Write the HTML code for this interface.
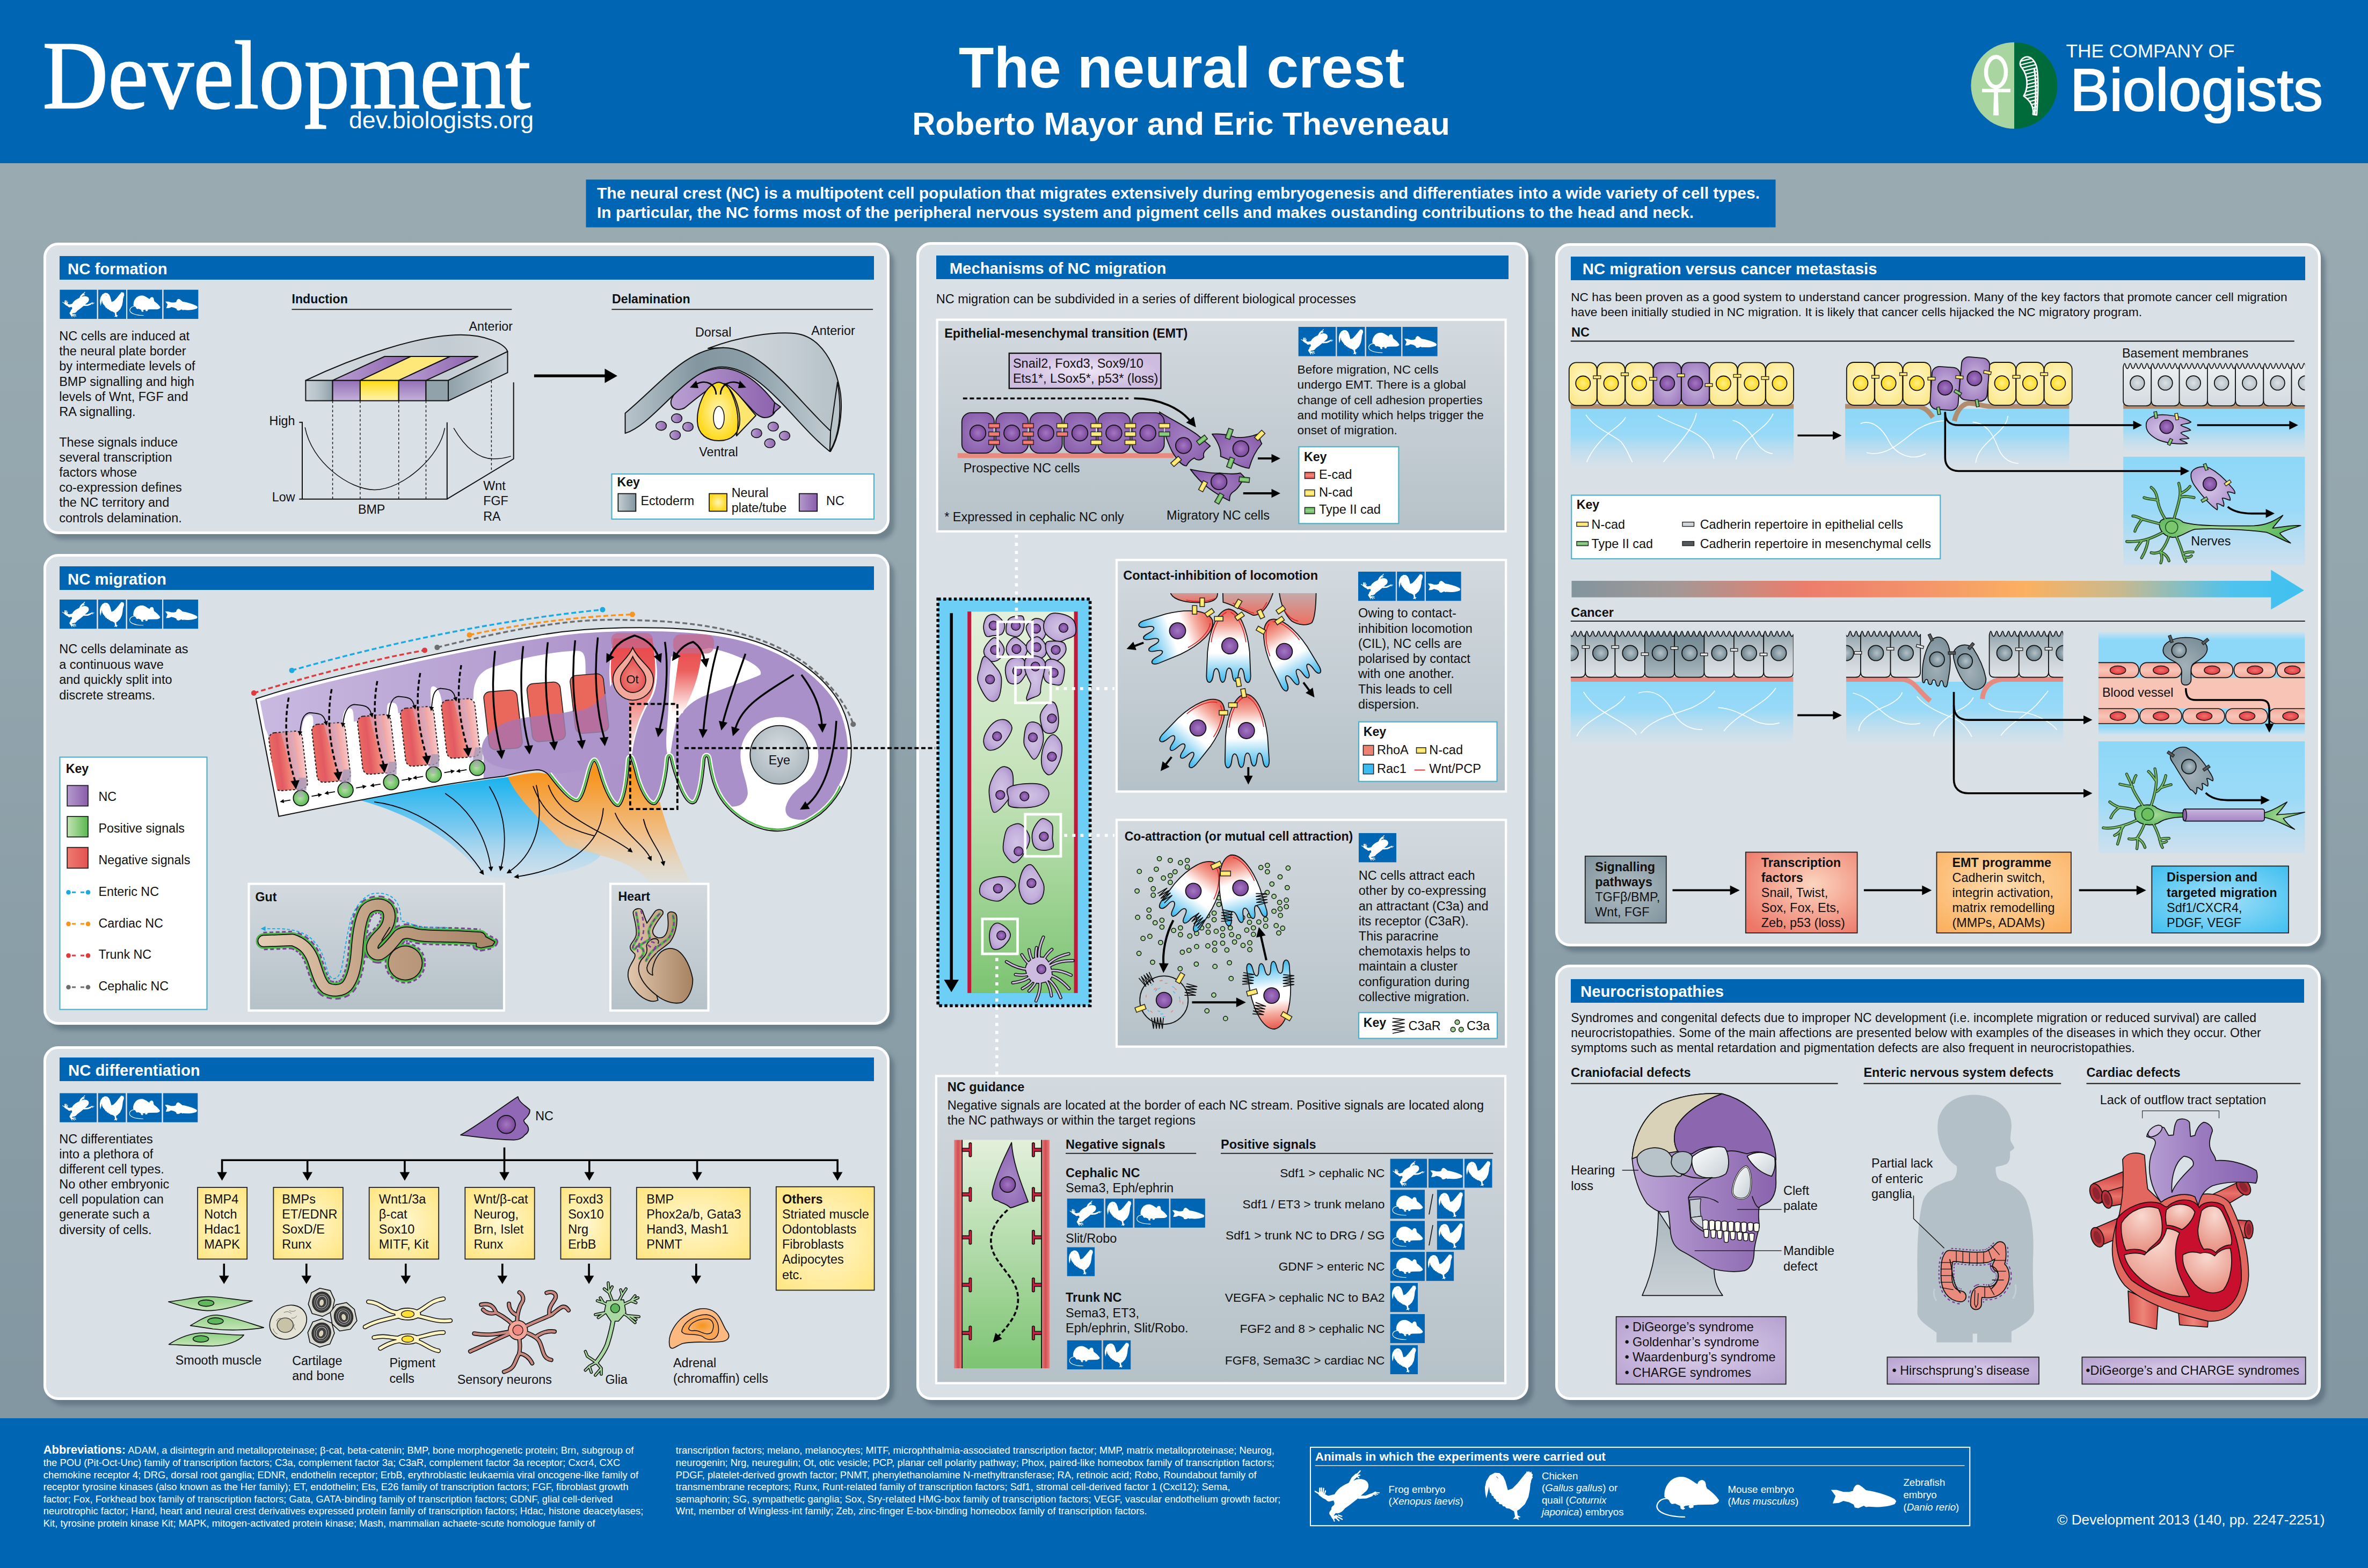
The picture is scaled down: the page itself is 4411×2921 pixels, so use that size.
<!DOCTYPE html>
<html lang="en"><head><meta charset="utf-8"><title>The neural crest</title>
<style>
html,body{margin:0;padding:0;background:#98a8b0}
body{width:4411px;height:2921px;overflow:hidden;font-family:"Liberation Sans",sans-serif}
#root{position:relative;width:4411px;height:2921px;overflow:hidden;background:linear-gradient(180deg,#9aaab1 10%,#94a6ae 35%,#8b9fa8 60%,#8297a1 90%);font-family:"Liberation Sans",sans-serif}
#hdr{position:absolute;left:0;top:0;width:4411px;height:304px;background:#0066b3}
#ftr{position:absolute;left:0;top:2641.6px;width:4411px;height:280px;background:#0066b3}
.panel{position:absolute;box-sizing:border-box;border:5.6px solid #fff;border-radius:27px;background:#d9e0e6;box-shadow:9px 10px 7px rgba(62,84,98,.42)}
.bar{position:absolute;background:#0066b3;color:#fff;font-weight:700;font-size:29.3px;white-space:nowrap}
svg.L{position:absolute;left:0;top:0;overflow:visible}
svg text{font-family:"Liberation Sans",sans-serif}
</style></head>
<body><div id="root">
<!-- defs -->
<svg width="0" height="0" style="position:absolute"><defs>
<symbol id="sh_f" viewBox="45 48 650 520" preserveAspectRatio="none"><g fill="#fff" stroke="#fff" stroke-linecap="round" stroke-linejoin="round"><path stroke="none" d="M425,162 C470,128 545,132 572,170 C592,205 582,245 545,272 C520,292 500,312 478,332 C440,365 395,400 350,432 C320,470 290,492 250,478 C215,460 205,430 225,412 C245,400 250,385 240,365 C225,335 240,280 290,235 C330,200 380,180 425,162 Z"/><path fill="none" stroke-width="34" d="M400,190 L428,135 L462,102"/><path fill="none" stroke-width="13" d="M462,100 L500,58 M468,104 L496,100 M462,108 L486,126"/><path fill="none" stroke-width="30" d="M490,322 L560,318 L612,298"/><path fill="none" stroke-width="17" d="M600,300 L650,272"/><path fill="none" stroke-width="9" d="M645,274 L690,276 M640,282 L674,292 M632,290 L656,300"/><path fill="none" stroke-width="58" d="M262,318 L190,335"/><path fill="none" stroke-width="44" d="M190,335 L140,310 L108,285"/><path fill="none" stroke-width="13" d="M100,290 L54,262 M98,272 L100,230 M116,270 L116,228 M132,278 L138,232 M148,285 L156,258"/><path fill="none" stroke-width="56" d="M300,440 L245,450 L222,480"/><path fill="none" stroke-width="30" d="M215,490 L235,525 L262,515"/><path fill="none" stroke-width="12" d="M232,528 L244,560 M258,525 L290,556 M275,515 L322,542 M285,500 L318,512"/></g></symbol>
<symbol id="sh_c" viewBox="1762 85 466 467" preserveAspectRatio="none"><path fill="#fff" d="M2170,95 L2184,87 L2190,105 L2204,92 L2209,112 L2222,108 L2218,130 L2228,141 L2214,150 L2213,176 L2206,200 L2200,262 L2186,330 L2152,398 L2102,444 L2076,460 L2081,504 L2112,520 L2086,525 L2096,550 L2066,535 L2036,541 L2056,515 L2046,466 L2002,441 L1970,436 L1958,420 L1938,418 L1928,400 L1902,396 L1896,378 L1872,372 L1868,352 L1850,342 L1846,322 L1830,318 L1824,296 L1812,288 L1802,232 L1792,282 L1776,342 L1766,292 L1762,240 L1776,180 L1810,126 L1860,100 L1905,104 L1940,134 L1962,180 L1976,230 L1986,266 L2030,250 L2080,200 L2122,150 L2150,116 Z"/><path d="M1872,138 q14,4 18,16" fill="none" stroke="#0066b3" stroke-width="5"/><circle cx="2190" cy="150" r="31" fill="#fff"/><path fill="#fff" d="M2158,125 L2170,84 L2182,108 L2192,80 L2202,104 L2215,88 L2218,114 L2231,112 L2222,138 Z M2214,134 L2238,143 L2214,158 Z M2204,165 q12,16 3,36 q-14,-12 -10,-34 Z"/></symbol>
<symbol id="sh_m" viewBox="75 105 565 370" preserveAspectRatio="none"><path fill="#fff" d="M150,290 C145,240 160,190 200,148 C240,112 290,102 335,113 C375,125 410,155 445,175 C448,150 470,136 490,138 C512,142 522,165 520,190 L530,215 C570,240 610,280 638,320 C635,340 615,352 585,358 L450,360 L410,365 L408,385 L380,392 L365,380 L372,365 L335,370 L320,380 L335,395 L315,405 L295,395 L290,370 L245,350 L215,355 L200,340 L190,320 Z"/><path d="M200,305 C130,295 85,330 82,375 C85,430 180,468 330,470" fill="none" stroke="#fff" stroke-width="11" stroke-linecap="round"/></symbol>
<symbol id="sh_z" viewBox="1648 175 580 207" preserveAspectRatio="none"><path fill="#fff" d="M1650,222 L1700,222 L1760,240 L1810,240 L1845,230 C1850,200 1868,178 1888,176 C1905,180 1925,195 1960,225 C2050,238 2150,268 2210,300 L2228,320 L2215,345 C2170,365 2100,372 2050,372 L1985,368 L1960,372 L1940,360 L1890,382 L1860,375 L1850,350 L1810,330 L1760,318 L1720,335 L1665,340 L1680,300 L1690,275 Z"/></symbol>
<symbol id="ic_f" viewBox="0 0 588 463" preserveAspectRatio="none"><rect width="588" height="463" fill="#0066b3"/><use href="#sh_f" x="40.0" y="31.9" width="509.8" height="407.9"/></symbol>
<symbol id="ic_c" viewBox="0 0 442 463" preserveAspectRatio="none"><rect width="442" height="463" fill="#0066b3"/><use href="#sh_c" x="27.8" y="38.0" width="384.1" height="401.9"/></symbol>
<symbol id="ic_m" viewBox="0 0 551 463" preserveAspectRatio="none"><rect width="551" height="463" fill="#0066b3"/><use href="#sh_m" x="33.1" y="89.8" width="489.8" height="322.2"/></symbol>
<symbol id="ic_z" viewBox="0 0 551 463" preserveAspectRatio="none"><rect width="551" height="463" fill="#0066b3"/><use href="#sh_z" x="29.2" y="144.9" width="509.7" height="187.1"/></symbol>
</defs></svg>
<!-- base -->
<div id="hdr"></div><div id="ftr"></div>
<div class="panel " style="left:81px;top:452px;width:1576px;height:543px"></div>
<div class="panel " style="left:81px;top:1032px;width:1576px;height:877px"></div>
<div class="panel " style="left:81px;top:1949px;width:1576px;height:659px"></div>
<div class="panel " style="left:1706.5px;top:451px;width:1140.5px;height:2157px"></div>
<div class="panel " style="left:2897px;top:453px;width:1426px;height:1310px"></div>
<div class="panel " style="left:2897px;top:1797px;width:1426px;height:811px"></div>
<div class="bar" style="left:110.6px;top:477px;width:1517px;height:44px;line-height:47px"><span style="margin-left:15.400000000000006px">NC formation</span></div>
<div class="bar" style="left:110.6px;top:1054.6px;width:1517px;height:44px;line-height:47px"><span style="margin-left:15.400000000000006px">NC migration</span></div>
<div class="bar" style="left:110.6px;top:1970.2px;width:1517px;height:44px;line-height:47px"><span style="margin-left:16.400000000000006px">NC differentiation</span></div>
<div class="bar" style="left:1743.8px;top:475.8px;width:1066.4px;height:44.4px;line-height:47.4px"><span style="margin-left:24.90000000000009px">Mechanisms of NC migration</span></div>
<div class="bar" style="left:2926.2px;top:478.1px;width:1368.2px;height:43.8px;line-height:46.8px"><span style="margin-left:21.600000000000364px">NC migration versus cancer metastasis</span></div>
<div class="bar" style="left:2926.2px;top:1823.8px;width:1366px;height:43.8px;line-height:46.8px"><span style="margin-left:17.800000000000182px">Neurocristopathies</span></div>
<!-- header -->
<svg class="L" viewBox="0 0 4411 2921" width="4411" height="2921" >
<text x="79.5" y="200.5" font-family="Liberation Serif" style="font-family:'Liberation Serif',serif" font-size="181" fill="#fff" stroke="#fff" stroke-width="2.4" textLength="909" lengthAdjust="spacingAndGlyphs">Development</text>
<text x="650" y="239" font-size="44.6" fill="#fff" textLength="344" lengthAdjust="spacingAndGlyphs">dev.biologists.org</text>
<text x="2201" y="162.5" font-size="107.5" fill="#fff" text-anchor="middle" font-weight="700">The neural crest</text>
<text x="2200" y="250.5" font-size="59.7" fill="#fff" text-anchor="middle" font-weight="700">Roberto Mayor and Eric Theveneau</text>
<rect x="1091.5" y="334.5" width="2216" height="89" fill="#0066b3"/>
<text x="1112" y="370.1" font-size="30" fill="#fff" font-weight="700" textLength="2166" lengthAdjust="spacing">The neural crest (NC) is a multipotent cell population that migrates extensively during embryogenesis and differentiates into a wide variety of cell types.</text>
<text x="1112" y="406.1" font-size="30" fill="#fff" font-weight="700" textLength="2043" lengthAdjust="spacing">In particular, the NC forms most of the peripheral nervous system and pigment cells and makes oustanding contributions to the head and neck.</text>
<g><path d="M3752,78.7 A80.3,80.3 0 0 0 3752,239.7 Z" fill="#a9d6a0"/><path d="M3752,78.7 A80.3,80.3 0 0 1 3752,239.7 Z" fill="#006b3a"/><ellipse cx="3718" cy="134" rx="18.5" ry="28" fill="none" stroke="#fff" stroke-width="7.5"/><path d="M3692,165.5 L3745,165.5 L3745,172 L3692,172 Z" fill="#fff"/><path d="M3714.5,160 L3721.5,160 L3723,215 L3713,215 Z" fill="#fff"/><clipPath id="cFea"><path d="M3766.6,126.6 C3760.3,120.3 3762.5,110.9 3771.2,106.9 C3780.6,103.1 3790.0,110.9 3793.8,125.0 C3797.8,143.8 3796.2,181.2 3793.8,214.1 L3786.9,213.1 C3789.4,200.0 3782.2,187.5 3769.7,178.8 C3777.5,165.6 3779.1,143.8 3766.6,126.6 Z"/></clipPath><path d="M3766.6,126.6 C3760.3,120.3 3762.5,110.9 3771.2,106.9 C3780.6,103.1 3790.0,110.9 3793.8,125.0 C3797.8,143.8 3796.2,181.2 3793.8,214.1 L3786.9,213.1 C3789.4,200.0 3782.2,187.5 3769.7,178.8 C3777.5,165.6 3779.1,143.8 3766.6,126.6 Z" fill="#006b3a"/><g clip-path="url(#cFea)" stroke="#fff" stroke-width="2.3"><line x1="3760" y1="115.0" x2="3800" y2="105.0"/><line x1="3760" y1="121.6" x2="3800" y2="111.6"/><line x1="3760" y1="128.2" x2="3800" y2="118.2"/><line x1="3760" y1="134.8" x2="3800" y2="124.8"/><line x1="3760" y1="141.4" x2="3800" y2="131.4"/><line x1="3760" y1="148.0" x2="3800" y2="138.0"/><line x1="3760" y1="154.6" x2="3800" y2="144.6"/><line x1="3760" y1="161.2" x2="3800" y2="151.2"/><line x1="3760" y1="167.8" x2="3800" y2="157.8"/><line x1="3760" y1="174.4" x2="3800" y2="164.4"/><line x1="3760" y1="181.0" x2="3800" y2="171.0"/><line x1="3760" y1="187.6" x2="3800" y2="177.6"/><line x1="3760" y1="194.2" x2="3800" y2="184.2"/><line x1="3760" y1="200.8" x2="3800" y2="190.8"/><line x1="3760" y1="207.4" x2="3800" y2="197.4"/><line x1="3760" y1="214.0" x2="3800" y2="204.0"/></g><path d="M3766.6,126.6 C3760.3,120.3 3762.5,110.9 3771.2,106.9 C3780.6,103.1 3790.0,110.9 3793.8,125.0 C3797.8,143.8 3796.2,181.2 3793.8,214.1 L3786.9,213.1 C3789.4,200.0 3782.2,187.5 3769.7,178.8 C3777.5,165.6 3779.1,143.8 3766.6,126.6 Z" fill="none" stroke="#fff" stroke-width="2.8" stroke-linejoin="round"/><path d="M3789.4,128.1 C3793.1,153.1 3792.5,184.4 3790.0,212.5" fill="none" stroke="#fff" stroke-width="3.2"/></g>
<text x="3848.5" y="107.2" font-size="35.5" fill="#fff" textLength="314" lengthAdjust="spacingAndGlyphs">THE COMPANY OF</text>
<text x="3856" y="206.3" font-size="112" fill="#fff" stroke="#fff" stroke-width="2.2" textLength="471" lengthAdjust="spacingAndGlyphs">Biologists</text>
</svg>
<!-- ncform -->
<svg class="L" viewBox="0 0 4411 2921" width="4411" height="2921" >
<defs>
<linearGradient id="gPurH" x1="0" x2="1"><stop offset="0" stop-color="#b9a0d2"/><stop offset="1" stop-color="#8d62ae"/></linearGradient>
<linearGradient id="gPurV" x1="0" x2="0" y1="0" y2="1"><stop offset="0" stop-color="#9270b4"/><stop offset="1" stop-color="#c5b0dc"/></linearGradient>
<linearGradient id="gYelV" x1="0" x2="0" y1="0" y2="1"><stop offset="0" stop-color="#ffdd15"/><stop offset="1" stop-color="#fff3b0"/></linearGradient>
<linearGradient id="gGryH" x1="0" x2="1"><stop offset="0" stop-color="#c9d2d8"/><stop offset="0.5" stop-color="#b4c0c7"/><stop offset="1" stop-color="#8fa0a9"/></linearGradient>
<linearGradient id="gGryH2" x1="0" x2="1"><stop offset="0" stop-color="#8fa0a9"/><stop offset="1" stop-color="#c9d2d8"/></linearGradient>
<linearGradient id="gGryTop" x1="0" x2="1"><stop offset="0" stop-color="#d3dadf"/><stop offset="0.7" stop-color="#c3ccd2"/><stop offset="1" stop-color="#d0d7dc"/></linearGradient>
<radialGradient id="gYelR"><stop offset="0" stop-color="#fff6b8"/><stop offset="1" stop-color="#ffd91a"/></radialGradient>
<linearGradient id="gBand" x1="0" x2="1"><stop offset="0" stop-color="#b9c4cb"/><stop offset="0.35" stop-color="#8397a1"/><stop offset="0.6" stop-color="#8b9ea8"/><stop offset="1" stop-color="#c2ccd2"/></linearGradient>
<linearGradient id="gBack" x1="0" x2="1"><stop offset="0" stop-color="#d4dbe0"/><stop offset="0.6" stop-color="#c5ced4"/><stop offset="1" stop-color="#b3bfc6"/></linearGradient>
<linearGradient id="gKeyG" x1="0" x2="1"><stop offset="0" stop-color="#c5ced4"/><stop offset="1" stop-color="#8295a0"/></linearGradient>
<linearGradient id="gKeyP" x1="0" x2="1"><stop offset="0" stop-color="#b49acd"/><stop offset="1" stop-color="#8a5eab"/></linearGradient>
</defs>
<use href="#ic_f" x="111.2" y="539.5" width="69.5" height="54.7"/><use href="#ic_c" x="182.8" y="539.5" width="52.2" height="54.7"/><use href="#ic_m" x="237.1" y="539.5" width="65.2" height="54.7"/><use href="#ic_z" x="304.4" y="539.5" width="65.2" height="54.7"/>
<text font-size="23.5" fill="#111"><tspan x="110.2" y="633.9">NC cells are induced at</tspan><tspan x="110.2" y="662.13">the neural plate border</tspan><tspan x="110.2" y="690.36">by intermediate levels of</tspan><tspan x="110.2" y="718.59">BMP signalling and high</tspan><tspan x="110.2" y="746.82">levels of Wnt, FGF and</tspan><tspan x="110.2" y="775.05">RA signalling.</tspan><tspan x="110.2" y="803.28"></tspan><tspan x="110.2" y="831.51">These signals induce</tspan><tspan x="110.2" y="859.74">several transcription</tspan><tspan x="110.2" y="887.97">factors whose</tspan><tspan x="110.2" y="916.2">co-expression defines</tspan><tspan x="110.2" y="944.43">the NC territory and</tspan><tspan x="110.2" y="972.66">controls delamination.</tspan></text>
<text x="543.5" y="565.3" font-size="23.2" fill="#111" font-weight="700">Induction</text>
<line x1="543.5" y1="576.4" x2="953.3" y2="576.4" stroke="#111" stroke-width="1.8"/>
<text x="1140" y="565.3" font-size="23.2" fill="#111" font-weight="700">Delamination</text>
<line x1="1139.4" y1="576.4" x2="1626.1" y2="576.4" stroke="#111" stroke-width="1.8"/>
<text x="873.5" y="615.8" font-size="23.3" fill="#111">Anterior</text>
<g stroke="#111" stroke-width="2" stroke-linejoin="round"><path d="M569.4,708.7 C660,665 780,624 858.6,623.8 C905,624 940,640 945.5,654.8 L835,708.7 Z" fill="url(#gGryTop)"/><path d="M619.6,708.7 L716.6,664 L765.3,664 L670.9,708.7 Z" fill="url(#gPurH)"/><path d="M670.9,708.7 L765.3,664 L838.5,664 L742.7,708.7 Z" fill="#ffe87a"/><path d="M742.7,708.7 L838.5,664 L890.2,664 L793.5,708.7 Z" fill="url(#gPurH)"/><path d="M835,708.7 L945.5,654.8 L945.5,694.1 L835,746.6 Z" fill="url(#gGryH2)"/><rect x="569.4" y="708.7" width="50.2" height="37.9" fill="url(#gGryH)"/><rect x="619.6" y="708.7" width="51.3" height="37.9" fill="url(#gPurV)"/><rect x="670.9" y="708.7" width="71.8" height="37.9" fill="url(#gYelV)"/><rect x="742.7" y="708.7" width="50.8" height="37.9" fill="url(#gPurV)"/><rect x="793.5" y="708.7" width="41.5" height="37.9" fill="#91a2ab"/></g>
<g fill="none" stroke="#111" stroke-width="2"><path d="M557.3,786.8 L563,786.8 L563,929.7 M557.3,929.7 L832.8,929.7 L832.8,786.8 M832.8,929.7 L956.7,854.8 L956.7,712.2"/></g><g fill="none" stroke="#111" stroke-width="1.5"><path d="M568.2,796.2 C580,860 650,912.5 697.9,912.5 C750,912.5 820,850 828.5,797.4"/><path d="M845.1,797.4 C870,840 895,854.8 918.9,854.8 C935,854.8 945,852 951.8,849.9"/></g><g stroke="#111" stroke-width="1.4" stroke-dasharray="4.5 4"><line x1="619.6" y1="746.6" x2="619.6" y2="929.7"/><line x1="670.9" y1="746.6" x2="670.9" y2="929.7"/><line x1="742.7" y1="746.6" x2="742.7" y2="929.7"/><line x1="793.5" y1="746.6" x2="793.5" y2="929.7"/><line x1="915.4" y1="709.3" x2="915.4" y2="878.6"/></g>
<text x="549.5" y="791.5" font-size="23.3" fill="#111" text-anchor="end">High</text>
<text x="549.5" y="934.4" font-size="23.3" fill="#111" text-anchor="end">Low</text>
<text x="666.9" y="956.6" font-size="23.3" fill="#111">BMP</text>
<text font-size="23.3" fill="#111"><tspan x="900.2" y="913.0">Wnt</tspan><tspan x="900.2" y="941.3">FGF</tspan><tspan x="900.2" y="969.6">RA</tspan></text>
<path d="M994.9,700.2 L1128,700.2" stroke="#000" stroke-width="5.2"/><path d="M1126.5,686.8 L1150,700.2 L1126.5,713.6 Z" fill="#000"/>
<text x="1295" y="627" font-size="23.3" fill="#111">Dorsal</text>
<text x="1511.2" y="624.4" font-size="23.3" fill="#111">Anterior</text>
<text x="1302.2" y="849.6" font-size="23.3" fill="#111">Ventral</text>
<g stroke="#111" stroke-width="2" stroke-linejoin="round"><path d="M1319,649 C1380,626 1440,618 1480,621 C1530,626 1558,680 1566,735 C1570,775 1562,815 1547.1,841 L1547.1,802.8 C1500,770 1440,690 1347.6,647.7 Z" fill="url(#gBack)"/><path d="M1547.1,802.8 L1560,712 C1570,770 1562,815 1545.7,841 Z" fill="#b9c4cb"/><path d="M1251,743 C1262,720 1300,690 1340,686 C1385,684 1420,720 1443,750 C1450,765 1440,778 1424,778 C1405,776 1395,750 1352,715 C1330,712 1300,740 1275,760 C1258,768 1246,758 1251,743 Z" fill="url(#gPurH)"/><path d="M1443,750 L1454,758 L1440,770 Z" fill="#9a78ba"/><path d="M1352,715 C1375,730 1395,760 1408,774 L1372,812 Z" fill="#ffe66e"/><path d="M1339,712 C1312,716 1298,760 1299,785 C1300,810 1318,821 1339,821 C1362,821 1379,808 1378,780 C1376,750 1362,716 1339,712 Z" fill="url(#gYelR)"/><path d="M1352,715 C1370,740 1380,775 1372,812" fill="none"/><ellipse cx="1339" cy="778" rx="10" ry="21" fill="#fff" stroke-width="1.6"/><path d="M1164.6,769.7 C1230,715 1280,648 1347.6,647.7 C1420,648 1480,740 1547.1,802.8 L1545.7,841 C1480,790 1420,684 1344.7,683.6 C1280,684 1220,790 1164.6,807.1 Z" fill="url(#gBand)"/></g><g fill="none" stroke="#000" stroke-width="2.6"><path d="M1334,735 C1333,715 1315,706 1296,716"/><path d="M1342,735 C1343,715 1362,706 1381,716"/></g><path d="M1285,722 L1297,709 L1301,723 Z" fill="#000"/><path d="M1390,722 L1378,709 L1375,723 Z" fill="#000"/><g stroke="#111" stroke-width="1.6" fill="url(#gPurH)"><ellipse cx="1260.6" cy="779.2" rx="9.8" ry="8.3"/><ellipse cx="1231.6" cy="793.3" rx="9.8" ry="8.3"/><ellipse cx="1281.5" cy="795" rx="9.8" ry="8.3"/><ellipse cx="1257.7" cy="810.5" rx="9.8" ry="8.3"/><ellipse cx="1440.3" cy="794.7" rx="9.8" ry="8.3"/><ellipse cx="1409.3" cy="807.1" rx="9.8" ry="8.3"/><ellipse cx="1461.6" cy="811.7" rx="9.8" ry="8.3"/><ellipse cx="1434" cy="825.7" rx="9.8" ry="8.3"/></g>
<rect x="1139.5" y="883" width="488.5" height="84" fill="#fff" stroke="#4aafc8" stroke-width="2.1"/><text x="1149.4" y="906.1" font-size="23.2" fill="#111" font-weight="700">Key</text>
<g stroke="#111" stroke-width="1.8"><rect x="1151.4" y="919.6" width="33" height="32.8" fill="url(#gKeyG)"/><rect x="1321.1" y="919.6" width="33" height="32.8" fill="url(#gYelR)"/><rect x="1488.8" y="919.6" width="33.4" height="32.8" fill="url(#gKeyP)"/></g><text x="1193.4" y="941.2" font-size="23.3" fill="#111">Ectoderm</text>
<text font-size="23.3" fill="#111"><tspan x="1362.8" y="926.2">Neural</tspan><tspan x="1362.8" y="954.1">plate/tube</tspan></text>
<text x="1539.1" y="941.2" font-size="23.3" fill="#111">NC</text>
</svg>
<!-- ncmig -->
<svg class="L" viewBox="0 0 4411 2921" width="4411" height="2921" >
<defs>
<clipPath id="cEmb"><path d="M476.8,1301.8 C529.3,1283.9 600.7,1266.1 654.3,1253.6 C725.7,1237.5 868.6,1203.6 1000.0,1183.9 C1053.6,1175.0 1107.1,1170.4 1160.7,1169.6 C1250.0,1167.9 1321.4,1173.2 1375.0,1185.7 C1464.3,1207.1 1528.6,1253.6 1560.7,1303.6 C1582.1,1339.3 1589.3,1385.7 1583.9,1421.4 C1578.6,1457.1 1557.1,1492.9 1528.6,1516.1 C1500.0,1537.5 1471.4,1548.2 1448.2,1548.2 C1410.7,1548.2 1371.4,1525.0 1348.2,1496.4 C1328.6,1471.4 1323.2,1442.9 1318.9,1414.3 C1317.9,1407.9 1314.3,1407.9 1313.2,1414.3 C1310.7,1442.9 1307.1,1478.6 1296.4,1494.6 C1285.7,1503.6 1275.0,1489.3 1266.1,1467.9 C1258.9,1450.0 1251.8,1428.6 1248.9,1414.3 C1247.9,1407.9 1245.7,1407.9 1245.0,1414.3 C1242.9,1442.9 1235.7,1485.7 1221.4,1498.2 C1208.9,1503.6 1194.6,1478.6 1185.7,1450.0 C1182.1,1435.7 1178.6,1421.4 1176.1,1416.1 C1175.0,1411.4 1173.2,1411.4 1172.5,1416.1 C1170.7,1442.9 1166.1,1489.3 1153.6,1501.8 C1141.1,1507.1 1125.0,1471.4 1116.1,1439.3 C1112.5,1426.8 1108.9,1418.6 1107.1,1417.9 C1105.4,1417.9 1101.8,1426.8 1098.2,1439.3 C1091.1,1467.9 1085.7,1487.5 1076.8,1492.9 C1064.3,1496.4 1042.9,1471.4 1021.4,1442.9 C1014.3,1435.7 1007.1,1433.9 1000.0,1433.9 C975.7,1435.7 957.9,1441.1 940.0,1445.7 C868.6,1453.6 725.7,1478.6 519.3,1520.7 Z"/></clipPath>
<linearGradient id="gPurE" gradientUnits="userSpaceOnUse" x1="480" y1="0" x2="1200" y2="0"><stop offset="0" stop-color="#c9b9e0"/><stop offset="1" stop-color="#aa90c8"/></linearGradient>
<linearGradient id="gRedB" x1="0" x2="1"><stop offset="0" stop-color="#ea6a62"/><stop offset="0.25" stop-color="#e25a62"/><stop offset="0.45" stop-color="#ee7a70"/><stop offset="1" stop-color="#f5c6c8"/></linearGradient>
<radialGradient id="gGrn" cx="0.45" cy="0.5" r="0.6"><stop offset="0" stop-color="#b5dfa5"/><stop offset="1" stop-color="#4cb648"/></radialGradient>
<linearGradient id="gBlueFan" gradientUnits="userSpaceOnUse" x1="0" y1="1440" x2="0" y2="1650"><stop offset="0" stop-color="#10b1ee"/><stop offset="0.5" stop-color="#7fcaf0"/><stop offset="1" stop-color="#cfe3f2" stop-opacity="0.3"/></linearGradient>
<linearGradient id="gOrFan" gradientUnits="userSpaceOnUse" x1="0" y1="1440" x2="0" y2="1650"><stop offset="0" stop-color="#f7941d"/><stop offset="0.55" stop-color="#f0c08a"/><stop offset="1" stop-color="#e4e0cf" stop-opacity="0.4"/></linearGradient>
<linearGradient id="gRedStream" gradientUnits="userSpaceOnUse" x1="0" y1="1195" x2="0" y2="1410"><stop offset="0" stop-color="#e8474c"/><stop offset="0.35" stop-color="#ec5f5c"/><stop offset="0.75" stop-color="#f6c4c0"/><stop offset="1" stop-color="#fff"/></linearGradient>
<linearGradient id="gRedStream2" gradientUnits="userSpaceOnUse" x1="0" y1="1195" x2="0" y2="1330"><stop offset="0" stop-color="#e8474c"/><stop offset="0.4" stop-color="#ec5f5c"/><stop offset="1" stop-color="#fff"/></linearGradient>
<radialGradient id="gEye" cx="0.5" cy="0.4" r="0.6"><stop offset="0" stop-color="#d7dde1"/><stop offset="1" stop-color="#a9b6bd"/></radialGradient>
<radialGradient id="gOt" cx="0.5" cy="0.6" r="0.6"><stop offset="0" stop-color="#f08a80"/><stop offset="1" stop-color="#e34a4c"/></radialGradient>
<linearGradient id="gBox" x1="0" x2="0" y1="0" y2="1"><stop offset="0" stop-color="#d3dadf"/><stop offset="1" stop-color="#b5c1c8"/></linearGradient>
<linearGradient id="gGut" gradientUnits="userSpaceOnUse" x1="480" y1="0" x2="930" y2="0"><stop offset="0" stop-color="#e6ceb6"/><stop offset="0.5" stop-color="#c09f82"/><stop offset="1" stop-color="#a88467"/></linearGradient>
<linearGradient id="gHrt" gradientUnits="userSpaceOnUse" x1="1165" y1="0" x2="1295" y2="0"><stop offset="0" stop-color="#e3c9b0"/><stop offset="1" stop-color="#a5805f"/></linearGradient>
<linearGradient id="gKeyGr" x1="0" x2="1"><stop offset="0" stop-color="#c3e3b5"/><stop offset="1" stop-color="#5ab84f"/></linearGradient>
<linearGradient id="gKeyRd" x1="0" x2="1"><stop offset="0" stop-color="#ee7b70"/><stop offset="1" stop-color="#e4514f"/></linearGradient>
</defs>
<use href="#ic_f" x="110.9" y="1116.8" width="69.5" height="54.7"/><use href="#ic_c" x="182.5" y="1116.8" width="52.2" height="54.7"/><use href="#ic_m" x="236.8" y="1116.8" width="65.2" height="54.7"/><use href="#ic_z" x="304.1" y="1116.8" width="65.2" height="54.7"/>
<text font-size="23.5" fill="#111"><tspan x="110.2" y="1217.3">NC cells delaminate as</tspan><tspan x="110.2" y="1245.7">a continuous wave</tspan><tspan x="110.2" y="1274.1">and quickly split into</tspan><tspan x="110.2" y="1302.5">discrete streams.</tspan></text>
<rect x="111.5" y="1410.5" width="274" height="470" fill="#fff" stroke="#4aafc8" stroke-width="2.1"/><text x="122.7" y="1439.8" font-size="23.2" fill="#111" font-weight="700">Key</text>
<g stroke="#222" stroke-width="1.8"><rect x="125.2" y="1463.3" width="38.8" height="38.2" fill="url(#gKeyP)"/><rect x="125.2" y="1521" width="38.8" height="38.2" fill="url(#gKeyGr)"/><rect x="125.2" y="1578.7" width="38.8" height="38.6" fill="url(#gKeyRd)"/></g><text x="183.4" y="1491.8" font-size="23.3" fill="#111">NC</text>
<text x="183.4" y="1550.7" font-size="23.3" fill="#111">Positive signals</text>
<text x="183.4" y="1609.7" font-size="23.3" fill="#111">Negative signals</text>
<text x="183.4" y="1668.6" font-size="23.3" fill="#111">Enteric NC</text>
<text x="183.4" y="1727.5" font-size="23.3" fill="#111">Cardiac NC</text>
<text x="183.4" y="1786.4" font-size="23.3" fill="#111">Trunk NC</text>
<text x="183.4" y="1845.4" font-size="23.3" fill="#111">Cephalic NC</text>
<circle cx="127.5" cy="1662.2" r="4.3" fill="#1aaae2"/><circle cx="164" cy="1662.2" r="4.3" fill="#1aaae2"/><path d="M134,1662.2 h7 M150,1662.2 h7" stroke="#1aaae2" stroke-width="3"/><circle cx="127.5" cy="1721.1" r="4.3" fill="#f7941d"/><circle cx="164" cy="1721.1" r="4.3" fill="#f7941d"/><path d="M134,1721.1 h7 M150,1721.1 h7" stroke="#f7941d" stroke-width="3"/><circle cx="127.5" cy="1780.1" r="4.3" fill="#e0393e"/><circle cx="164" cy="1780.1" r="4.3" fill="#e0393e"/><path d="M134,1780.1 h7 M150,1780.1 h7" stroke="#e0393e" stroke-width="3"/><circle cx="127.5" cy="1839.0" r="4.3" fill="#6d6e70"/><circle cx="164" cy="1839.0" r="4.3" fill="#6d6e70"/><path d="M134,1839.0 h7 M150,1839.0 h7" stroke="#6d6e70" stroke-width="3"/>
<path d="M668.6,1490.0 C761.4,1473.2 868.6,1457.1 950.7,1447.1 C975.7,1492.9 1047.1,1564.3 1118.6,1592.9 C1100.7,1621.4 1011.4,1635.7 947.1,1635.7 C915.0,1635.7 900.7,1632.1 893.6,1625.0 C850.7,1571.4 779.3,1521.4 668.6,1490.0 Z" fill="url(#gBlueFan)"/><path d="M945.4,1448.2 C968.6,1442.9 990.0,1439.3 1004.3,1439.3 L1025.7,1442.9 L1021.4,1442.9 C1042.9,1471.4 1064.3,1496.4 1076.8,1492.9 C1091.1,1475.0 1098.2,1439.3 1107.1,1417.9 C1116.1,1439.3 1141.1,1507.1 1153.6,1501.8 C1166.1,1489.3 1170.7,1442.9 1174.3,1416.1 C1185.7,1450.0 1208.9,1503.6 1221.4,1498.2 L1228.6,1492.9 C1242.9,1546.4 1264.3,1600.0 1285.7,1642.9 L1210.7,1644.6 C1178.6,1600.0 1107.1,1592.9 1053.6,1575.0 C1028.6,1546.4 964.3,1492.9 946.4,1448.2 Z" fill="url(#gOrFan)"/><path d="M476.8,1301.8 C529.3,1283.9 600.7,1266.1 654.3,1253.6 C725.7,1237.5 868.6,1203.6 1000.0,1183.9 C1053.6,1175.0 1107.1,1170.4 1160.7,1169.6 C1250.0,1167.9 1321.4,1173.2 1375.0,1185.7 C1464.3,1207.1 1528.6,1253.6 1560.7,1303.6 C1582.1,1339.3 1589.3,1385.7 1583.9,1421.4 C1578.6,1457.1 1557.1,1492.9 1528.6,1516.1 C1500.0,1537.5 1471.4,1548.2 1448.2,1548.2 C1410.7,1548.2 1371.4,1525.0 1348.2,1496.4 C1328.6,1471.4 1323.2,1442.9 1318.9,1414.3 C1317.9,1407.9 1314.3,1407.9 1313.2,1414.3 C1310.7,1442.9 1307.1,1478.6 1296.4,1494.6 C1285.7,1503.6 1275.0,1489.3 1266.1,1467.9 C1258.9,1450.0 1251.8,1428.6 1248.9,1414.3 C1247.9,1407.9 1245.7,1407.9 1245.0,1414.3 C1242.9,1442.9 1235.7,1485.7 1221.4,1498.2 C1208.9,1503.6 1194.6,1478.6 1185.7,1450.0 C1182.1,1435.7 1178.6,1421.4 1176.1,1416.1 C1175.0,1411.4 1173.2,1411.4 1172.5,1416.1 C1170.7,1442.9 1166.1,1489.3 1153.6,1501.8 C1141.1,1507.1 1125.0,1471.4 1116.1,1439.3 C1112.5,1426.8 1108.9,1418.6 1107.1,1417.9 C1105.4,1417.9 1101.8,1426.8 1098.2,1439.3 C1091.1,1467.9 1085.7,1487.5 1076.8,1492.9 C1064.3,1496.4 1042.9,1471.4 1021.4,1442.9 C1014.3,1435.7 1007.1,1433.9 1000.0,1433.9 C975.7,1435.7 957.9,1441.1 940.0,1445.7 C868.6,1453.6 725.7,1478.6 519.3,1520.7 Z" fill="#fff"/><g clip-path="url(#cEmb)"><rect x="470" y="1160" width="1130" height="400" fill="url(#gPurE)"/><path d="M472.1,1380.0 L900.7,1298.6 L900.7,1528.6 L472.1,1564.3 Z" fill="#fff"/><path d="M562.1,1364.6 C562.9,1339.6 569.6,1332.1 577.5,1332.1 C584.6,1332.1 583.6,1339.6 583.6,1364.6 Z" fill="#fff"/><path d="M637.5,1350.2 C638.2,1325.2 642.9,1319.6 650.7,1319.6 C657.9,1319.6 658.9,1325.2 658.9,1350.2 Z" fill="#fff"/><path d="M720.4,1334.5 C721.1,1309.5 721.4,1308.9 729.3,1308.9 C736.4,1308.9 741.8,1309.5 741.8,1334.5 Z" fill="#fff"/><path d="M802.5,1318.9 C803.2,1293.9 799.3,1278.6 807.1,1278.6 C814.3,1278.6 823.9,1293.9 823.9,1318.9 Z" fill="#fff"/><path d="M475.7,1382.1 C479.3,1360.7 488.2,1350.0 493.6,1357.1 C498.9,1364.3 500.7,1375.0 502.5,1385.7 Z" fill="#fff"/><path d="M882.9,1314.3 C877.5,1271.4 891.8,1251.8 915.0,1243.6 C975.7,1223.2 1047.1,1211.4 1077.5,1212.5 C1088.2,1213.6 1090.7,1223.2 1090.7,1242.9 L1090.7,1300.0 C1088.2,1316.1 1072.1,1325.7 1042.9,1328.6 C975.7,1332.9 922.1,1350.0 900.7,1382.1 L882.9,1421.4 Z" fill="#fff"/><path d="M1250.0,1223.2 C1246.4,1260.7 1246.4,1314.3 1242.9,1350.0 C1239.3,1385.7 1241.1,1403.6 1246.4,1414.3 C1250.0,1403.6 1251.8,1378.6 1258.9,1346.4 C1271.4,1317.9 1296.4,1300.0 1321.4,1292.9 C1357.1,1278.6 1392.9,1267.9 1416.1,1257.1 C1421.4,1250.0 1407.1,1235.7 1378.6,1225.0 C1357.1,1216.1 1339.3,1210.7 1321.4,1207.1 L1271.4,1217.9 Z" fill="#fff"/><path d="M1262.5,1223.2 C1258.9,1260.7 1255.4,1314.3 1257.1,1350.0 C1271.4,1317.9 1296.4,1300.0 1321.4,1292.9 C1357.1,1278.6 1392.9,1267.9 1416.1,1257.1 C1421.4,1250.0 1407.1,1235.7 1378.6,1225.0 C1357.1,1216.1 1339.3,1210.7 1321.4,1207.1 Z" fill="#fff"/><path d="M1451.8,1335.7 C1492.9,1335.7 1524.3,1367.9 1524.3,1406.1 C1524.3,1428.6 1514.3,1448.2 1500.0,1458.9 C1482.1,1471.4 1467.9,1485.7 1463.6,1503.6 C1460.7,1521.4 1475.0,1528.6 1500.0,1526.8 C1521.4,1525.0 1542.9,1510.7 1557.1,1489.3 L1571.4,1457.1 L1557.1,1546.4 L1321.4,1546.4 L1317.9,1457.1 C1323.2,1478.6 1332.1,1492.9 1348.2,1500.0 C1371.4,1507.1 1389.3,1500.0 1392.9,1478.6 C1392.9,1457.1 1378.6,1432.1 1379.3,1406.1 C1379.3,1367.9 1410.7,1335.7 1451.8,1335.7 Z" fill="#fff"/><path d="M1318.9,1403.6 C1323.2,1442.9 1328.6,1471.4 1348.2,1496.4 L1332.1,1503.6 L1314.3,1457.1 Z" fill="#fff"/><path d="M1140.0,1207.1 C1135.7,1228.6 1132.9,1253.6 1137.5,1285.7 C1146.4,1332.1 1157.1,1371.4 1167.9,1410.7 L1176.8,1414.3 C1178.6,1378.6 1192.9,1332.1 1214.3,1300.0 C1228.6,1271.4 1225.0,1235.7 1217.1,1207.1 Z" fill="#fff"/><path d="M1142.9,1189.3 C1137.5,1228.6 1135.7,1253.6 1141.1,1285.7 C1150.0,1332.1 1160.7,1371.4 1170.7,1414.3 L1174.3,1414.3 C1176.8,1378.6 1189.3,1332.1 1210.7,1300.0 C1225.0,1271.4 1221.4,1228.6 1215.0,1189.3 Z" fill="url(#gRedStream)"/><path d="M1266.1,1207.1 C1262.5,1242.9 1255.4,1285.7 1250.0,1332.1 L1271.4,1328.6 C1285.7,1300.0 1303.6,1264.3 1307.9,1207.1 Z" fill="url(#gRedStream2)"/><rect x="1138.6" y="1179.3" width="77.5" height="28" rx="12" fill="#c46a8e" opacity="0.75"/><rect x="1254" y="1181.5" width="76" height="36" rx="14" fill="#c46a8e" opacity="0.75"/></g>
<rect x="-31.0" y="-54.5" width="62" height="109" rx="12" fill="url(#gRedB)" stroke="#222" stroke-width="2" stroke-dasharray="4 3.2" opacity="1" transform="translate(536.8 1417.5) skewY(-4.5) skewX(6.5)"/><path d="M522.8,1363.5 L544.8,1361.5 L562.8,1477.5 L554.8,1479.5 Z" fill="#c7b6de" opacity="0.45"/><rect x="-31.0" y="-54.5" width="62" height="109" rx="12" fill="url(#gRedB)" stroke="#222" stroke-width="2" stroke-dasharray="4 3.2" opacity="1" transform="translate(616.8 1401.8) skewY(-4.5) skewX(6.5)"/><path d="M602.8,1347.8 L624.8,1345.8 L642.8,1461.8 L634.8,1463.8 Z" fill="#c7b6de" opacity="0.45"/><rect x="-31.0" y="-54.5" width="62" height="109" rx="12" fill="url(#gRedB)" stroke="#222" stroke-width="2" stroke-dasharray="4 3.2" opacity="1" transform="translate(701.8 1386.8) skewY(-4.5) skewX(6.5)"/><path d="M687.8,1332.8 L709.8,1330.8 L727.8,1446.8 L719.8,1448.8 Z" fill="#c7b6de" opacity="0.45"/><rect x="-31.0" y="-54.5" width="62" height="109" rx="12" fill="url(#gRedB)" stroke="#222" stroke-width="2" stroke-dasharray="4 3.2" opacity="1" transform="translate(781.8 1371.8) skewY(-4.5) skewX(6.5)"/><path d="M767.8,1317.8 L789.8,1315.8 L807.8,1431.8 L799.8,1433.8 Z" fill="#c7b6de" opacity="0.45"/><rect x="-31.0" y="-54.5" width="62" height="109" rx="12" fill="url(#gRedB)" stroke="#222" stroke-width="2" stroke-dasharray="4 3.2" opacity="1" transform="translate(858.2 1357.1) skewY(-4.5) skewX(6.5)"/><path d="M844.2,1303.1 L866.2,1301.1 L884.2,1417.1 L876.2,1419.1 Z" fill="#c7b6de" opacity="0.45"/><rect x="-31.0" y="-54.5" width="62" height="109" rx="12" fill="#ea675c" stroke="#222" stroke-width="1.6" opacity="1" transform="translate(937.1 1341.1) skewY(-4.5) skewX(6.5)"/><rect x="-31.0" y="-54.5" width="62" height="109" rx="12" fill="#ea675c" stroke="#222" stroke-width="1.6" opacity="1" transform="translate(1017.5 1326.1) skewY(-4.5) skewX(6.5)"/><rect x="-31.0" y="-54.5" width="62" height="109" rx="12" fill="#ea675c" stroke="#222" stroke-width="1.6" opacity="1" transform="translate(1097.9 1310.7) skewY(-4.5) skewX(6.5)"/><clipPath id="cSw"><path d="M898.9,1403.6 C893.6,1385.7 904.3,1364.3 940.0,1346.4 C975.7,1332.1 1047.1,1330.4 1082.9,1323.2 C1118.6,1314.3 1140.0,1278.6 1150.7,1250.0 L1172.1,1250.0 L1172.1,1421.4 L1047.1,1441.1 L997.1,1438.6 C957.9,1433.9 904.3,1432.1 898.9,1403.6 Z"/></clipPath><g clip-path="url(#cEmb)"><path d="M898.9,1403.6 C893.6,1385.7 904.3,1364.3 940.0,1346.4 C975.7,1332.1 1047.1,1330.4 1082.9,1323.2 C1118.6,1314.3 1140.0,1278.6 1150.7,1250.0 L1172.1,1250.0 L1172.1,1421.4 L1047.1,1441.1 L997.1,1438.6 C957.9,1433.9 904.3,1432.1 898.9,1403.6 Z" fill="#ad94ca"/></g><g clip-path="url(#cSw)" opacity="0.45"><rect x="-31.0" y="-54.5" width="62" height="109" rx="12" fill="#c2456a" stroke="#555" stroke-width="1.6" opacity="1" transform="translate(937.1 1341.1) skewY(-4.5) skewX(6.5)"/><rect x="-31.0" y="-54.5" width="62" height="109" rx="12" fill="#c2456a" stroke="#555" stroke-width="1.6" opacity="1" transform="translate(1017.5 1326.1) skewY(-4.5) skewX(6.5)"/><rect x="-31.0" y="-54.5" width="62" height="109" rx="12" fill="#c2456a" stroke="#555" stroke-width="1.6" opacity="1" transform="translate(1097.9 1310.7) skewY(-4.5) skewX(6.5)"/></g><path d="M552.7,1472.8 L556.7,1448.8 L570.7,1448.8 L570.7,1472.8 Z" fill="#a899b8" opacity="0.8"/><circle cx="560.7" cy="1486.8" r="14.3" fill="url(#gGrn)" stroke="#111" stroke-width="1.8"/><circle cx="559.7" cy="1478.8" r="7" fill="#b4a6bd" opacity="0.55"/><line x1="541.0" y1="1490.3" x2="525.2" y2="1493.1" stroke="#000" stroke-width="1.8"/><path d="M0,0 L-7.5,-3.75 L-7.5,3.75 Z" fill="#000" transform="translate(521.3 1493.7) rotate(170)"/><line x1="580.4" y1="1483.3" x2="596.2" y2="1480.5" stroke="#000" stroke-width="1.8"/><path d="M0,0 L-7.5,-3.75 L-7.5,3.75 Z" fill="#000" transform="translate(600.1 1479.9) rotate(-10)"/><path d="M635.6,1457.4 L639.6,1433.4 L653.6,1433.4 L653.6,1457.4 Z" fill="#a899b8" opacity="0.8"/><circle cx="643.6" cy="1471.4" r="14.3" fill="url(#gGrn)" stroke="#111" stroke-width="1.8"/><circle cx="642.6" cy="1463.4" r="7" fill="#b4a6bd" opacity="0.55"/><line x1="623.9" y1="1474.9" x2="608.1" y2="1477.7" stroke="#000" stroke-width="1.8"/><path d="M0,0 L-7.5,-3.75 L-7.5,3.75 Z" fill="#000" transform="translate(604.2 1478.3) rotate(170)"/><line x1="663.3" y1="1467.9" x2="679.1" y2="1465.1" stroke="#000" stroke-width="1.8"/><path d="M0,0 L-7.5,-3.75 L-7.5,3.75 Z" fill="#000" transform="translate(683.0 1464.5) rotate(-10)"/><path d="M720.6,1443.1 L724.6,1419.1 L738.6,1419.1 L738.6,1443.1 Z" fill="#a899b8" opacity="0.8"/><circle cx="728.6" cy="1457.1" r="14.3" fill="url(#gGrn)" stroke="#111" stroke-width="1.8"/><circle cx="727.6" cy="1449.1" r="7" fill="#b4a6bd" opacity="0.55"/><line x1="708.9" y1="1460.6" x2="693.1" y2="1463.4" stroke="#000" stroke-width="1.8"/><path d="M0,0 L-7.5,-3.75 L-7.5,3.75 Z" fill="#000" transform="translate(689.2 1464.0) rotate(170)"/><line x1="748.3" y1="1453.6" x2="764.1" y2="1450.8" stroke="#000" stroke-width="1.8"/><path d="M0,0 L-7.5,-3.75 L-7.5,3.75 Z" fill="#000" transform="translate(768.0 1450.2) rotate(-10)"/><path d="M799.9,1428.9 L803.9,1404.9 L817.9,1404.9 L817.9,1428.9 Z" fill="#a899b8" opacity="0.8"/><circle cx="807.9" cy="1442.9" r="14.3" fill="url(#gGrn)" stroke="#111" stroke-width="1.8"/><circle cx="806.9" cy="1434.9" r="7" fill="#b4a6bd" opacity="0.55"/><line x1="788.2" y1="1446.4" x2="772.4" y2="1449.2" stroke="#000" stroke-width="1.8"/><path d="M0,0 L-7.5,-3.75 L-7.5,3.75 Z" fill="#000" transform="translate(768.5 1449.8) rotate(170)"/><line x1="827.6" y1="1439.4" x2="843.4" y2="1436.6" stroke="#000" stroke-width="1.8"/><path d="M0,0 L-7.5,-3.75 L-7.5,3.75 Z" fill="#000" transform="translate(847.3 1436.0) rotate(-10)"/><path d="M880.9,1416.4 L884.9,1392.4 L898.9,1392.4 L898.9,1416.4 Z" fill="#a899b8" opacity="0.8"/><circle cx="888.9" cy="1430.4" r="14.3" fill="url(#gGrn)" stroke="#111" stroke-width="1.8"/><circle cx="887.9" cy="1422.4" r="7" fill="#b4a6bd" opacity="0.55"/><line x1="869.2" y1="1433.9" x2="853.4" y2="1436.7" stroke="#000" stroke-width="1.8"/><path d="M0,0 L-7.5,-3.75 L-7.5,3.75 Z" fill="#000" transform="translate(849.5 1437.3) rotate(170)"/>
<g clip-path="url(#cEmb)"><path d="M519.3,1520.7 L476.8,1301.8 C529.3,1283.9 600.7,1266.1 654.3,1253.6 C725.7,1237.5 868.6,1203.6 1000.0,1183.9 C1053.6,1175.0 1107.1,1170.4 1160.7,1169.6 C1250.0,1167.9 1321.4,1173.2 1375.0,1185.7 C1464.3,1207.1 1528.6,1253.6 1560.7,1303.6 C1582.1,1339.3 1589.3,1385.7 1583.9,1421.4 C1580.4,1442.9 1573.2,1457.1 1567.9,1466.1" fill="none" stroke="#fff" stroke-width="13"/><path d="M1021.4,1442.9 C1042.9,1471.4 1064.3,1496.4 1076.8,1492.9 C1085.7,1487.5 1091.1,1467.9 1098.2,1439.3 C1101.8,1426.8 1105.4,1417.9 1107.1,1417.9 C1108.9,1418.6 1112.5,1426.8 1116.1,1439.3 C1125.0,1471.4 1141.1,1507.1 1153.6,1501.8 C1166.1,1489.3 1170.7,1442.9 1172.5,1416.1 C1173.2,1411.4 1175.0,1411.4 1176.1,1416.1 C1178.6,1421.4 1182.1,1435.7 1185.7,1450.0 C1194.6,1478.6 1208.9,1503.6 1221.4,1498.2 C1235.7,1485.7 1242.9,1442.9 1245.0,1414.3 C1245.7,1407.9 1247.9,1407.9 1248.9,1414.3 C1251.8,1428.6 1258.9,1450.0 1266.1,1467.9 C1275.0,1489.3 1285.7,1503.6 1296.4,1494.6 C1307.1,1478.6 1310.7,1442.9 1313.2,1414.3 C1314.3,1407.9 1317.9,1407.9 1318.9,1414.3 C1323.2,1442.9 1328.6,1471.4 1348.2,1496.4 C1371.4,1525.0 1410.7,1548.2 1448.2,1548.2 C1471.4,1548.2 1500.0,1537.5 1528.6,1516.1 C1546.4,1501.8 1560.7,1483.9 1567.9,1466.1" fill="none" stroke="#fff" stroke-width="14"/><path d="M1021.4,1442.9 C1042.9,1471.4 1064.3,1496.4 1076.8,1492.9 C1085.7,1487.5 1091.1,1467.9 1098.2,1439.3 C1101.8,1426.8 1105.4,1417.9 1107.1,1417.9 C1108.9,1418.6 1112.5,1426.8 1116.1,1439.3 C1125.0,1471.4 1141.1,1507.1 1153.6,1501.8 C1166.1,1489.3 1170.7,1442.9 1172.5,1416.1 C1173.2,1411.4 1175.0,1411.4 1176.1,1416.1 C1178.6,1421.4 1182.1,1435.7 1185.7,1450.0 C1194.6,1478.6 1208.9,1503.6 1221.4,1498.2 C1235.7,1485.7 1242.9,1442.9 1245.0,1414.3 C1245.7,1407.9 1247.9,1407.9 1248.9,1414.3 C1251.8,1428.6 1258.9,1450.0 1266.1,1467.9 C1275.0,1489.3 1285.7,1503.6 1296.4,1494.6 C1307.1,1478.6 1310.7,1442.9 1313.2,1414.3 C1314.3,1407.9 1317.9,1407.9 1318.9,1414.3 C1323.2,1442.9 1328.6,1471.4 1348.2,1496.4 C1371.4,1525.0 1410.7,1548.2 1448.2,1548.2 C1471.4,1548.2 1500.0,1537.5 1528.6,1516.1 C1546.4,1501.8 1560.7,1483.9 1567.9,1466.1" fill="none" stroke="#4db748" stroke-width="9.5"/><path d="M1021.4,1442.9 C1042.9,1471.4 1064.3,1496.4 1076.8,1492.9 C1085.7,1487.5 1091.1,1467.9 1098.2,1439.3 C1101.8,1426.8 1105.4,1417.9 1107.1,1417.9 C1108.9,1418.6 1112.5,1426.8 1116.1,1439.3 C1125.0,1471.4 1141.1,1507.1 1153.6,1501.8 C1166.1,1489.3 1170.7,1442.9 1172.5,1416.1 C1173.2,1411.4 1175.0,1411.4 1176.1,1416.1 C1178.6,1421.4 1182.1,1435.7 1185.7,1450.0 C1194.6,1478.6 1208.9,1503.6 1221.4,1498.2 C1235.7,1485.7 1242.9,1442.9 1245.0,1414.3 C1245.7,1407.9 1247.9,1407.9 1248.9,1414.3 C1251.8,1428.6 1258.9,1450.0 1266.1,1467.9 C1275.0,1489.3 1285.7,1503.6 1296.4,1494.6 C1307.1,1478.6 1310.7,1442.9 1313.2,1414.3 C1314.3,1407.9 1317.9,1407.9 1318.9,1414.3 C1323.2,1442.9 1328.6,1471.4 1348.2,1496.4 C1371.4,1525.0 1410.7,1548.2 1448.2,1548.2 C1471.4,1548.2 1500.0,1537.5 1528.6,1516.1 C1546.4,1501.8 1560.7,1483.9 1567.9,1466.1" fill="none" stroke="#fff" stroke-width="3.4"/></g><path d="M476.8,1301.8 C529.3,1283.9 600.7,1266.1 654.3,1253.6 C725.7,1237.5 868.6,1203.6 1000.0,1183.9 C1053.6,1175.0 1107.1,1170.4 1160.7,1169.6 C1250.0,1167.9 1321.4,1173.2 1375.0,1185.7 C1464.3,1207.1 1528.6,1253.6 1560.7,1303.6 C1582.1,1339.3 1589.3,1385.7 1583.9,1421.4 C1578.6,1457.1 1557.1,1492.9 1528.6,1516.1 C1500.0,1537.5 1471.4,1548.2 1448.2,1548.2 C1410.7,1548.2 1371.4,1525.0 1348.2,1496.4 C1328.6,1471.4 1323.2,1442.9 1318.9,1414.3 C1317.9,1407.9 1314.3,1407.9 1313.2,1414.3 C1310.7,1442.9 1307.1,1478.6 1296.4,1494.6 C1285.7,1503.6 1275.0,1489.3 1266.1,1467.9 C1258.9,1450.0 1251.8,1428.6 1248.9,1414.3 C1247.9,1407.9 1245.7,1407.9 1245.0,1414.3 C1242.9,1442.9 1235.7,1485.7 1221.4,1498.2 C1208.9,1503.6 1194.6,1478.6 1185.7,1450.0 C1182.1,1435.7 1178.6,1421.4 1176.1,1416.1 C1175.0,1411.4 1173.2,1411.4 1172.5,1416.1 C1170.7,1442.9 1166.1,1489.3 1153.6,1501.8 C1141.1,1507.1 1125.0,1471.4 1116.1,1439.3 C1112.5,1426.8 1108.9,1418.6 1107.1,1417.9 C1105.4,1417.9 1101.8,1426.8 1098.2,1439.3 C1091.1,1467.9 1085.7,1487.5 1076.8,1492.9 C1064.3,1496.4 1042.9,1471.4 1021.4,1442.9 C1014.3,1435.7 1007.1,1433.9 1000.0,1433.9 C975.7,1435.7 957.9,1441.1 940.0,1445.7 C868.6,1453.6 725.7,1478.6 519.3,1520.7 Z" fill="none" stroke="#111" stroke-width="2"/><path d="M1178.6,1206.4 C1167.9,1232.1 1141.1,1242.9 1141.8,1266.1 C1142.9,1289.3 1160.7,1304.3 1178.6,1304.3 C1198.2,1304.3 1217.1,1289.3 1217.1,1266.1 C1217.1,1242.9 1189.3,1232.1 1178.6,1206.4 Z" fill="#f3a89c" stroke="#111" stroke-width="1.8"/><path d="M1178.6,1223.2 C1171.4,1241.1 1155.4,1250.0 1155.7,1266.1 C1156.4,1280.4 1167.1,1290.0 1178.6,1290.0 C1191.1,1290.0 1202.9,1280.4 1202.9,1266.1 C1202.9,1250.0 1185.7,1241.1 1178.6,1223.2 Z" fill="url(#gOt)" stroke="#111" stroke-width="1.8"/><text x="1178" y="1272.5" font-size="22" fill="#111" text-anchor="middle">Ot</text>
<circle cx="1451.8" cy="1406.1" r="54.5" fill="url(#gEye)" stroke="#111" stroke-width="1.8"/><text x="1451.8" y="1424" font-size="23.3" fill="#111" text-anchor="middle">Eye</text>
<path d="M537.8,1299.5 C528.8,1349.5 532.8,1399.5 549.8,1455.5" fill="none" stroke="#000" stroke-width="3.4" stroke-dasharray="8 4.5"/><path d="M0,0 L-16.5,-8.25 L-16.5,8.25 Z" fill="#000" transform="translate(551.3 1470.5) rotate(84)"/><path d="M617.8,1283.8 C608.8,1333.8 612.8,1383.8 629.8,1439.8" fill="none" stroke="#000" stroke-width="3.4" stroke-dasharray="8 4.5"/><path d="M0,0 L-16.5,-8.25 L-16.5,8.25 Z" fill="#000" transform="translate(631.3 1454.8) rotate(84)"/><path d="M702.8,1268.8 C693.8,1318.8 697.8,1368.8 714.8,1424.8" fill="none" stroke="#000" stroke-width="3.4" stroke-dasharray="8 4.5"/><path d="M0,0 L-16.5,-8.25 L-16.5,8.25 Z" fill="#000" transform="translate(716.3 1439.8) rotate(84)"/><path d="M782.8,1253.8 C773.8,1303.8 777.8,1353.8 794.8,1409.8" fill="none" stroke="#000" stroke-width="3.4" stroke-dasharray="8 4.5"/><path d="M0,0 L-16.5,-8.25 L-16.5,8.25 Z" fill="#000" transform="translate(796.3 1424.8) rotate(84)"/><path d="M859.2,1239.1 C850.2,1289.1 854.2,1339.1 871.2,1395.1" fill="none" stroke="#000" stroke-width="3.4" stroke-dasharray="8 4.5"/><path d="M0,0 L-16.5,-8.25 L-16.5,8.25 Z" fill="#000" transform="translate(872.7 1410.1) rotate(84)"/><path d="M558.8,1365.5 C560.8,1342.5 564.8,1329.65 576.8,1327.65 C590.8,1329.65 602.8,1326.8 606.8,1345.8" fill="none" stroke="#000" stroke-width="1.8"/><path d="M0,0 L-8.25,-4.125 L-8.25,4.125 Z" fill="#000" transform="translate(557.8 1370.5) rotate(100)"/><path d="M0,0 L-8.25,-4.125 L-8.25,4.125 Z" fill="#000" transform="translate(608.8 1351.8) rotate(75)"/><path d="M638.8,1349.8 C640.8,1326.8 647.3,1314.3 659.3,1312.3 C673.3,1314.3 687.8,1311.8 691.8,1330.8" fill="none" stroke="#000" stroke-width="1.8"/><path d="M0,0 L-8.25,-4.125 L-8.25,4.125 Z" fill="#000" transform="translate(637.8 1354.8) rotate(100)"/><path d="M0,0 L-8.25,-4.125 L-8.25,4.125 Z" fill="#000" transform="translate(693.8 1336.8) rotate(75)"/><path d="M723.8,1334.8 C725.8,1311.8 729.8,1299.3 741.8,1297.3 C755.8,1299.3 767.8,1296.8 771.8,1315.8" fill="none" stroke="#000" stroke-width="1.8"/><path d="M0,0 L-8.25,-4.125 L-8.25,4.125 Z" fill="#000" transform="translate(722.8 1339.8) rotate(100)"/><path d="M0,0 L-8.25,-4.125 L-8.25,4.125 Z" fill="#000" transform="translate(773.8 1321.8) rotate(75)"/><path d="M803.8,1319.8 C805.8,1296.8 808.0,1284.4499999999998 820.0,1282.4499999999998 C834.0,1284.4499999999998 844.2,1282.1 848.2,1301.1" fill="none" stroke="#000" stroke-width="1.8"/><path d="M0,0 L-8.25,-4.125 L-8.25,4.125 Z" fill="#000" transform="translate(802.8 1324.8) rotate(100)"/><path d="M0,0 L-8.25,-4.125 L-8.25,4.125 Z" fill="#000" transform="translate(850.2 1307.1) rotate(75)"/><path d="M922.1,1212.5 C914.1,1282.5 920.1,1352.5 933.6,1400.3" fill="none" stroke="#000" stroke-width="3.4"/><path d="M0,0 L-16.5,-8.25 L-16.5,8.25 Z" fill="#000" transform="translate(934.6 1414.3) rotate(84)"/><path d="M974.6,1203.6 C966.6,1273.6 972.6,1343.6 985.4,1391.4" fill="none" stroke="#000" stroke-width="3.4"/><path d="M0,0 L-16.5,-8.25 L-16.5,8.25 Z" fill="#000" transform="translate(986.4 1405.4) rotate(84)"/><path d="M1020.4,1196.4 C1012.4,1266.4 1018.4,1336.4 1031.9,1384.2" fill="none" stroke="#000" stroke-width="3.4"/><path d="M0,0 L-16.5,-8.25 L-16.5,8.25 Z" fill="#000" transform="translate(1032.9 1398.2) rotate(84)"/><path d="M1071.4,1192.9 C1063.4,1262.9 1069.4,1332.9 1083.6,1381.7" fill="none" stroke="#000" stroke-width="3.4"/><path d="M0,0 L-16.5,-8.25 L-16.5,8.25 Z" fill="#000" transform="translate(1084.6 1395.7) rotate(84)"/><path d="M1113.6,1187.5 C1105.6,1257.5 1111.6,1327.5 1125.8,1376" fill="none" stroke="#000" stroke-width="3.4"/><path d="M0,0 L-16.5,-8.25 L-16.5,8.25 Z" fill="#000" transform="translate(1126.8 1390) rotate(84)"/><path d="M1238.6,1195.7 C1246.4,1250.0 1239.3,1314.3 1227.9,1362.5" fill="none" stroke="#000" stroke-width="3.4"/><path d="M0,0 L-16.5,-8.25 L-16.5,8.25 Z" fill="#000" transform="translate(1225.7 1373.2) rotate(100)"/><path d="M1337.5,1203.6 C1321.4,1260.7 1314.3,1314.3 1310.0,1364.3" fill="none" stroke="#000" stroke-width="3.4"/><path d="M0,0 L-16.5,-8.25 L-16.5,8.25 Z" fill="#000" transform="translate(1308.9 1375.0) rotate(93)"/><path d="M1388.6,1217.9 C1371.4,1267.9 1353.6,1314.3 1345.7,1350.0" fill="none" stroke="#000" stroke-width="3.4"/><path d="M0,0 L-16.5,-8.25 L-16.5,8.25 Z" fill="#000" transform="translate(1343.6 1360.7) rotate(102)"/><path d="M1478.6,1257.1 C1428.6,1289.3 1378.6,1314.3 1368.6,1362.5" fill="none" stroke="#000" stroke-width="3.4"/><path d="M0,0 L-16.5,-8.25 L-16.5,8.25 Z" fill="#000" transform="translate(1365.0 1371.4) rotate(108)"/><path d="M1492.9,1257.1 C1514.3,1285.7 1528.6,1314.3 1531.4,1353.6" fill="none" stroke="#000" stroke-width="3.4"/><path d="M0,0 L-16.5,-8.25 L-16.5,8.25 Z" fill="#000" transform="translate(1532.1 1365.0) rotate(88)"/><path d="M1557.9,1342.9 C1553.6,1421.4 1532.1,1478.6 1499.3,1502.9" fill="none" stroke="#000" stroke-width="3.4"/><path d="M0,0 L-16.5,-8.25 L-16.5,8.25 Z" fill="#000" transform="translate(1490.0 1508.2) rotate(150)"/><path d="M1135.0,1225.0 C1146.4,1196.4 1167.9,1189.3 1182.1,1183.9 C1200.0,1189.3 1217.9,1200.0 1227.1,1225.0" fill="none" stroke="#000" stroke-width="3.6" stroke-linejoin="round"/><path d="M0,0 L-16.5,-8.25 L-16.5,8.25 Z" fill="#000" transform="translate(1129.3 1235.0) rotate(118)"/><path d="M0,0 L-16.5,-8.25 L-16.5,8.25 Z" fill="#000" transform="translate(1231.4 1235.0) rotate(68)"/><path d="M1257.9,1223.2 C1267.9,1205.4 1282.1,1198.2 1291.1,1195.7 C1303.6,1203.6 1310.7,1217.9 1312.9,1233.9" fill="none" stroke="#000" stroke-width="3.6" stroke-linejoin="round"/><path d="M0,0 L-16.5,-8.25 L-16.5,8.25 Z" fill="#000" transform="translate(1251.8 1231.4) rotate(125)"/><path d="M0,0 L-16.5,-8.25 L-16.5,8.25 Z" fill="#000" transform="translate(1315.7 1243.6) rotate(80)"/>
<path d="M697.1,1493.9 C779.3,1503.6 861.4,1564.3 900.7,1628.6" fill="none" stroke="#000" stroke-width="1.8"/><path d="M0,0 L-9.0,-4.5 L-9.0,4.5 Z" fill="#000" transform="translate(901.4 1630.0) rotate(55)"/><path d="M829.3,1477.9 C879.3,1510.7 907.9,1564.3 915.0,1622.1" fill="none" stroke="#000" stroke-width="1.8"/><path d="M0,0 L-9.0,-4.5 L-9.0,4.5 Z" fill="#000" transform="translate(915.0 1623.6) rotate(85)"/><path d="M911.4,1465.0 C940.0,1510.7 947.1,1564.3 932.1,1620.7" fill="none" stroke="#000" stroke-width="1.8"/><path d="M0,0 L-9.0,-4.5 L-9.0,4.5 Z" fill="#000" transform="translate(931.8 1622.9) rotate(100)"/><path d="M998.9,1462.5 C1015.0,1528.6 997.1,1592.9 945.4,1625.7" fill="none" stroke="#000" stroke-width="1.8"/><path d="M0,0 L-9.0,-4.5 L-9.0,4.5 Z" fill="#000" transform="translate(943.6 1627.1) rotate(148)"/><path d="M1123.9,1505.4 C1118.6,1582.1 1047.1,1621.4 959.6,1633.6" fill="none" stroke="#000" stroke-width="1.8"/><path d="M0,0 L-9.0,-4.5 L-9.0,4.5 Z" fill="#000" transform="translate(957.1 1633.9) rotate(172)"/><path d="M1021.4,1462.5 C1042.9,1528.6 1125.0,1546.4 1176.8,1586.4" fill="none" stroke="#000" stroke-width="1.8"/><path d="M0,0 L-9.0,-4.5 L-9.0,4.5 Z" fill="#000" transform="translate(1178.6 1587.9) rotate(38)"/><path d="M1145.7,1514.3 C1160.7,1553.6 1200.0,1571.4 1212.9,1601.8" fill="none" stroke="#000" stroke-width="1.8"/><path d="M0,0 L-9.0,-4.5 L-9.0,4.5 Z" fill="#000" transform="translate(1213.6 1604.3) rotate(65)"/><path d="M1198.6,1525.7 C1207.1,1564.3 1232.1,1585.7 1236.4,1611.4" fill="none" stroke="#000" stroke-width="1.8"/><path d="M0,0 L-9.0,-4.5 L-9.0,4.5 Z" fill="#000" transform="translate(1236.8 1613.6) rotate(78)"/><path d="M992.9,1464.3 C1010.7,1510.7 1035.7,1539.3 1107.1,1557.1" fill="none" stroke="#000" stroke-width="1.8"/><rect x="1173.9" y="1311.4" width="87.9" height="195.7" fill="none" stroke="#000" stroke-width="3.8" stroke-dasharray="8 4.6"/><line x1="1275" y1="1393.6" x2="1742" y2="1393.6" stroke="#000" stroke-width="3.8" stroke-dasharray="8 4.6"/><path d="M472.9,1291.1 C547.1,1267.9 690.0,1228.6 791.1,1211.4" fill="none" stroke="#e0393e" stroke-width="3.4" stroke-dasharray="9 5"/><circle cx="472.9" cy="1291.1" r="5" fill="#e0393e"/><circle cx="791.1" cy="1211.4" r="5" fill="#e0393e"/><path d="M543.6,1248.9 C690.0,1207.1 904.3,1157.1 1122.5,1135.7" fill="none" stroke="#1aaae2" stroke-width="3.4" stroke-dasharray="9 5"/><circle cx="543.6" cy="1248.9" r="5" fill="#1aaae2"/><circle cx="1122.5" cy="1135.7" r="5" fill="#1aaae2"/><path d="M874.6,1182.9 C975.7,1160.7 1082.9,1148.2 1177.9,1144.6" fill="none" stroke="#f7941d" stroke-width="3.4" stroke-dasharray="9 5"/><circle cx="874.6" cy="1182.9" r="5" fill="#f7941d"/><circle cx="1177.9" cy="1144.6" r="5" fill="#f7941d"/><path d="M814.3,1206.1 C904.3,1183.9 975.7,1169.6 1018.6,1164.3 C1089.3,1153.6 1142.9,1153.6 1178.6,1155.4 C1285.7,1157.1 1410.7,1171.4 1500.0,1235.7 C1546.4,1271.4 1578.6,1314.3 1589.3,1349.3" fill="none" stroke="#6d6e70" stroke-width="3.4" stroke-dasharray="9 5"/><circle cx="814.3" cy="1206.1" r="5" fill="#6d6e70"/><circle cx="1589.3" cy="1349.3" r="5" fill="#6d6e70"/>
<rect x="463.5" y="1646.5" width="475.5" height="236" fill="url(#gBox)" stroke="#fff" stroke-width="4.2"/><text x="475.5" y="1678.7" font-size="23.2" fill="#111" font-weight="700">Gut</text>
<path d="M491.1,1753.1 L545.0,1751.0 C562.4,1756.7 574.7,1767.0 582.9,1787.5 C591.1,1810.0 595.2,1830.5 607.5,1840.7 C619.8,1846.9 636.1,1846.9 646.4,1836.6 C656.6,1824.3 662.8,1799.8 664.8,1773.1 C666.9,1742.4 671.0,1709.6 681.2,1695.3 C691.4,1684.0 709.9,1682.0 720.1,1691.2 C728.3,1701.4 726.3,1717.8 718.1,1730.1 C709.9,1742.4 695.5,1750.6 693.5,1762.9 C692.5,1773.1 699.6,1779.3 707.8,1777.2 C720.1,1771.1 732.4,1754.7 742.6,1742.4 C750.8,1736.3 761.1,1736.3 773.4,1740.4 C787.7,1744.5 808.2,1743.4 849.1,1744.5 L894.2,1746.9" fill="none" stroke="#7d3f98" stroke-width="34.5" stroke-linecap="butt" stroke-linejoin="round" stroke-dasharray="7 4.6"/><path d="M888.1,1740.4 L898.3,1742.4 L920.8,1754.7 L916.7,1760.8 L896.3,1764.9 L888.1,1762.9 Z" fill="none" stroke="#7d3f98" stroke-width="15.0" stroke-linejoin="round" stroke-dasharray="7 4.6"/><circle cx="754.9" cy="1794.0" r="36.7" fill="none" stroke="#7d3f98" stroke-width="3.4" stroke-dasharray="7 4.6"/><path d="M491.1,1753.1 L545.0,1751.0 C562.4,1756.7 574.7,1767.0 582.9,1787.5 C591.1,1810.0 595.2,1830.5 607.5,1840.7 C619.8,1846.9 636.1,1846.9 646.4,1836.6 C656.6,1824.3 662.8,1799.8 664.8,1773.1 C666.9,1742.4 671.0,1709.6 681.2,1695.3 C691.4,1684.0 709.9,1682.0 720.1,1691.2 C728.3,1701.4 726.3,1717.8 718.1,1730.1 C709.9,1742.4 695.5,1750.6 693.5,1762.9 C692.5,1773.1 699.6,1779.3 707.8,1777.2 C720.1,1771.1 732.4,1754.7 742.6,1742.4 C750.8,1736.3 761.1,1736.3 773.4,1740.4 C787.7,1744.5 808.2,1743.4 849.1,1744.5 L894.2,1746.9" fill="none" stroke="#4db748" stroke-width="29" stroke-linecap="round" stroke-linejoin="round"/><path d="M888.1,1740.4 L898.3,1742.4 L920.8,1754.7 L916.7,1760.8 L896.3,1764.9 L888.1,1762.9 Z" fill="#4db748" stroke="#4db748" stroke-width="9.5" stroke-linejoin="round"/><circle cx="754.9" cy="1794.0" r="35.45" fill="#4db748"/><path d="M491.1,1753.1 L545.0,1751.0 C562.4,1756.7 574.7,1767.0 582.9,1787.5 C591.1,1810.0 595.2,1830.5 607.5,1840.7 C619.8,1846.9 636.1,1846.9 646.4,1836.6 C656.6,1824.3 662.8,1799.8 664.8,1773.1 C666.9,1742.4 671.0,1709.6 681.2,1695.3 C691.4,1684.0 709.9,1682.0 720.1,1691.2 C728.3,1701.4 726.3,1717.8 718.1,1730.1 C709.9,1742.4 695.5,1750.6 693.5,1762.9 C692.5,1773.1 699.6,1779.3 707.8,1777.2 C720.1,1771.1 732.4,1754.7 742.6,1742.4 C750.8,1736.3 761.1,1736.3 773.4,1740.4 C787.7,1744.5 808.2,1743.4 849.1,1744.5 L894.2,1746.9" fill="none" stroke="#111" stroke-width="23" stroke-linecap="round" stroke-linejoin="round"/><path d="M888.1,1740.4 L898.3,1742.4 L920.8,1754.7 L916.7,1760.8 L896.3,1764.9 L888.1,1762.9 Z" fill="#111" stroke="#111" stroke-width="3.5" stroke-linejoin="round"/><circle cx="754.9" cy="1794.0" r="32.45" fill="#111"/><circle cx="754.9" cy="1794.0" r="30.7" fill="url(#gGut)"/><path d="M888.1,1740.4 L898.3,1742.4 L920.8,1754.7 L916.7,1760.8 L896.3,1764.9 L888.1,1762.9 Z" fill="url(#gGut)"/><path d="M491.1,1753.1 L545.0,1751.0 C562.4,1756.7 574.7,1767.0 582.9,1787.5 C591.1,1810.0 595.2,1830.5 607.5,1840.7 C619.8,1846.9 636.1,1846.9 646.4,1836.6 C656.6,1824.3 662.8,1799.8 664.8,1773.1 C666.9,1742.4 671.0,1709.6 681.2,1695.3 C691.4,1684.0 709.9,1682.0 720.1,1691.2 C728.3,1701.4 726.3,1717.8 718.1,1730.1 C709.9,1742.4 695.5,1750.6 693.5,1762.9 C692.5,1773.1 699.6,1779.3 707.8,1777.2 C720.1,1771.1 732.4,1754.7 742.6,1742.4 C750.8,1736.3 761.1,1736.3 773.4,1740.4 C787.7,1744.5 808.2,1743.4 849.1,1744.5 L894.2,1746.9" fill="none" stroke="url(#gGut)" stroke-width="19.5" stroke-linecap="round" stroke-linejoin="round"/><path d="M710.9,1752.2 C716.0,1742.4 722.2,1734.2 726.3,1727.0" fill="none" stroke="#111" stroke-width="1.8"/><path d="M833.8,1728.1 L779.5,1727.0 C767.2,1721.9 757.0,1716.8 746.7,1715.8 C746.7,1701.4 744.7,1685.1 734.4,1674.8 C724.2,1664.6 705.8,1661.5 691.4,1665.6 C673.0,1672.8 660.7,1693.3 654.6,1709.6 C646.4,1738.3 642.3,1771.1 637.2,1799.8 C634.1,1814.1 630.0,1822.3 621.8,1823.3 C613.6,1822.3 610.5,1812.0 606.4,1795.7 C601.3,1775.2 591.1,1756.7 574.7,1744.5 C562.4,1736.3 546.0,1731.1 521.4,1730.1 L493.8,1730.1" fill="none" stroke="#1aaae2" stroke-width="1.9" stroke-dasharray="5.5 3.6"/><path d="M0,0 L-9.0,-4.5 L-9.0,4.5 Z" fill="#1aaae2" transform="translate(485.6 1730.1) rotate(180)"/><rect x="1137" y="1646.5" width="182.5" height="236" fill="url(#gBox)" stroke="#fff" stroke-width="4.2"/><text x="1151.6" y="1677.9" font-size="23.2" fill="#111" font-weight="700">Heart</text>
<g stroke="#111" stroke-width="1.8" stroke-linejoin="round"><path d="M1182.6,1777.2 C1177.8,1772.4 1173.1,1769.2 1173.9,1762.8 C1175.5,1756.4 1182.6,1751.6 1185.0,1742.1 C1187.4,1729.3 1181.0,1711.8 1179.4,1700.6 C1179.4,1692.6 1193.8,1689.4 1197.0,1697.4 C1200.2,1707.0 1203.4,1715.0 1205.0,1719.7 L1219.3,1699.0 C1224.1,1691.0 1238.5,1694.2 1234.5,1703.0 C1228.9,1710.2 1219.3,1722.9 1216.1,1732.5 C1214.5,1738.9 1219.3,1745.3 1225.7,1746.9 C1235.3,1748.5 1241.6,1742.1 1244.0,1729.3 C1245.6,1719.7 1244.0,1710.2 1243.6,1703.8 C1244.8,1695.8 1259.2,1697.4 1260.5,1707.0 C1262.4,1722.9 1257.6,1742.1 1248.0,1754.8 C1241.6,1761.2 1232.1,1767.6 1225.7,1772.4 C1219.3,1778.8 1212.9,1788.3 1206.6,1799.5 C1203.4,1807.5 1206.6,1815.4 1212.9,1817.8 L1225.7,1863.3 C1212.9,1869.7 1193.8,1860.1 1181.0,1842.6 C1168.3,1828.2 1166.7,1812.2 1174.7,1797.9 C1179.4,1788.3 1184.2,1783.5 1182.6,1777.2 Z" fill="url(#gHrt)"/><path d="M1216.1,1817.0 C1212.9,1805.9 1219.3,1786.7 1228.9,1775.6 C1238.5,1766.0 1251.2,1764.4 1262.4,1770.8 C1276.7,1780.4 1286.3,1802.7 1290.3,1823.4 C1291.1,1841.0 1283.1,1860.1 1270.4,1867.3 C1257.6,1871.3 1241.6,1866.5 1228.9,1858.5 C1212.9,1847.3 1197.0,1831.4 1191.4,1815.4 C1187.4,1802.7 1190.6,1791.5 1198.6,1783.5 C1205.0,1777.2 1206.6,1770.8 1204.2,1762.8 C1205.0,1754.8 1212.9,1748.5 1220.9,1748.5 C1225.7,1749.3 1228.1,1753.2 1225.7,1758.0" fill="url(#gHrt)"/><path d="M1216.1,1817.0 C1211.3,1815.4 1205.0,1812.2 1205.0,1802.7 C1206.6,1793.1 1214.5,1783.5 1222.5,1775.6" fill="none"/></g><g fill="none" stroke-width="4.2" stroke-linecap="round"><path d="M1185.0,1699.8 C1186.6,1711.8 1191.4,1729.3 1189.8,1742.1 C1187.4,1751.6 1179.4,1758.0 1178.6,1766.0 C1181.0,1770.8 1184.2,1767.6 1186.6,1762.8" stroke="#4db748" stroke-width="4.6"/><path d="M1228.9,1702.2 C1219.3,1711.8 1209.7,1724.5 1208.1,1735.7 C1209.7,1743.7 1211.3,1746.9 1209.7,1750.0 C1201.8,1754.8 1193.8,1759.6 1189.0,1762.8 C1193.8,1764.4 1200.2,1767.6 1198.6,1775.6 C1197.0,1780.4 1193.8,1783.5 1191.4,1785.1" stroke="#4db748" stroke-width="4.6"/><path d="M1253.6,1705.4 C1257.6,1719.7 1254.4,1735.7 1244.8,1748.5 C1235.3,1756.4 1222.5,1764.4 1212.9,1774.0 C1208.1,1780.4 1205.0,1786.7 1203.4,1789.9" stroke="#4db748" stroke-width="4.6"/><path d="M1185.0,1699.8 C1186.6,1711.8 1191.4,1729.3 1189.8,1742.1 C1187.4,1751.6 1179.4,1758.0 1178.6,1766.0 C1181.0,1770.8 1184.2,1767.6 1186.6,1762.8" stroke="#7d3f98" stroke-width="2.8" stroke-dasharray="7 5.5" stroke-linecap="butt"/><path d="M1193.8,1695.8 C1197.0,1707.0 1200.2,1722.9 1198.6,1735.7 C1197.0,1748.5 1192.2,1754.8 1189.0,1761.2 C1187.4,1766.0 1187.4,1770.8 1188.2,1774.0" stroke="#7d3f98" stroke-width="2.8" stroke-dasharray="7 5.5" stroke-linecap="butt"/><path d="M1228.9,1702.2 C1219.3,1711.8 1209.7,1724.5 1208.1,1735.7 C1209.7,1743.7 1211.3,1746.9 1209.7,1750.0 C1201.8,1754.8 1193.8,1759.6 1189.0,1762.8 C1193.8,1764.4 1200.2,1767.6 1198.6,1775.6 C1197.0,1780.4 1193.8,1783.5 1191.4,1785.1" stroke="#7d3f98" stroke-width="2.8" stroke-dasharray="7 5.5" stroke-linecap="butt"/><path d="M1253.6,1705.4 C1257.6,1719.7 1254.4,1735.7 1244.8,1748.5 C1235.3,1756.4 1222.5,1764.4 1212.9,1774.0 C1208.1,1780.4 1205.0,1786.7 1203.4,1789.9" stroke="#7d3f98" stroke-width="2.8" stroke-dasharray="7 5.5" stroke-linecap="butt"/><path d="M1212.9,1754.8 C1219.3,1753.2 1222.5,1761.2 1220.9,1766.0 C1216.1,1766.0 1209.7,1764.4 1206.6,1759.6" stroke="#7d3f98" stroke-width="2.8" stroke-dasharray="7 5.5" stroke-linecap="butt"/></g>
</svg>
<!-- ncdiff -->
<svg class="L" viewBox="0 0 4411 2921" width="4411" height="2921" >
<defs>
<radialGradient id="gYBox" cx="0.5" cy="0.5" r="0.75"><stop offset="0" stop-color="#fff7d0"/><stop offset="1" stop-color="#ffe47a"/></radialGradient>
<linearGradient id="gSM" x1="0" x2="0" y1="0" y2="1"><stop offset="0" stop-color="#8fcf85"/><stop offset="1" stop-color="#c5e6b8"/></linearGradient>
<radialGradient id="gNCn"><stop offset="0" stop-color="#a478c0"/><stop offset="1" stop-color="#7a479a"/></radialGradient>
<radialGradient id="gAdr" cx="0.55" cy="0.45" r="0.6"><stop offset="0" stop-color="#f7941d"/><stop offset="1" stop-color="#fbb77a"/></radialGradient>
</defs>
<use href="#ic_f" x="111.1" y="2036.3" width="69.25" height="54.5"/><use href="#ic_c" x="182.44" y="2036.3" width="52.01" height="54.5"/><use href="#ic_m" x="236.54" y="2036.3" width="64.96" height="54.5"/><use href="#ic_z" x="303.59" y="2036.3" width="64.96" height="54.5"/>
<text font-size="23.5" fill="#111"><tspan x="110.2" y="2129.5">NC differentiates</tspan><tspan x="110.2" y="2157.67">into a plethora of</tspan><tspan x="110.2" y="2185.84">different cell types.</tspan><tspan x="110.2" y="2214.01">No other embryonic</tspan><tspan x="110.2" y="2242.18">cell population can</tspan><tspan x="110.2" y="2270.35">generate such a</tspan><tspan x="110.2" y="2298.52">diversity of cells.</tspan></text>
<g stroke="#000" stroke-width="3.6" fill="none"><path d="M413.6,2185 L413.6,2161.3 L1560.1,2161.3 L1560.1,2185"/><path d="M572.7,2161.3 L572.7,2185"/><path d="M753.9,2161.3 L753.9,2185"/><path d="M1097.8,2161.3 L1097.8,2185"/><path d="M1298.6,2161.3 L1298.6,2185"/><path d="M939.5,2137.6 L939.5,2185"/></g><path d="M404.3,2183.5 L422.90000000000003,2183.5 L413.6,2199.6 Z" fill="#000"/><path d="M563.4000000000001,2183.5 L582.0,2183.5 L572.7,2199.6 Z" fill="#000"/><path d="M744.6,2183.5 L763.1999999999999,2183.5 L753.9,2199.6 Z" fill="#000"/><path d="M930.2,2183.5 L948.8,2183.5 L939.5,2199.6 Z" fill="#000"/><path d="M1088.5,2183.5 L1107.1,2183.5 L1097.8,2199.6 Z" fill="#000"/><path d="M1289.3,2183.5 L1307.8999999999999,2183.5 L1298.6,2199.6 Z" fill="#000"/><path d="M1550.8,2183.5 L1569.3999999999999,2183.5 L1560.1,2199.6 Z" fill="#000"/><path d="M417.3,2354 L417.3,2378" stroke="#000" stroke-width="3.6"/><path d="M408.0,2376.5 L426.6,2376.5 L417.3,2391.9 Z" fill="#000"/><path d="M570.8,2354 L570.8,2378" stroke="#000" stroke-width="3.6"/><path d="M561.5,2376.5 L580.0999999999999,2376.5 L570.8,2391.9 Z" fill="#000"/><path d="M755.8,2354 L755.8,2378" stroke="#000" stroke-width="3.6"/><path d="M746.5,2376.5 L765.0999999999999,2376.5 L755.8,2391.9 Z" fill="#000"/><path d="M935.8,2354 L935.8,2378" stroke="#000" stroke-width="3.6"/><path d="M926.5,2376.5 L945.0999999999999,2376.5 L935.8,2391.9 Z" fill="#000"/><path d="M1097.1,2354 L1097.1,2378" stroke="#000" stroke-width="3.6"/><path d="M1087.8,2376.5 L1106.3999999999999,2376.5 L1097.1,2391.9 Z" fill="#000"/><path d="M1296.8,2354 L1296.8,2378" stroke="#000" stroke-width="3.6"/><path d="M1287.5,2376.5 L1306.1,2376.5 L1296.8,2391.9 Z" fill="#000"/>
<rect x="368.1" y="2212" width="92.1" height="133.5" fill="url(#gYBox)" stroke="#222" stroke-width="1.8"/><text font-size="23.5" fill="#111"><tspan x="380.3" y="2241.9">BMP4</tspan><tspan x="380.3" y="2270.03">Notch</tspan><tspan x="380.3" y="2298.16">Hdac1</tspan><tspan x="380.3" y="2326.29">MAPK</tspan></text>
<rect x="509.4" y="2212" width="129.5" height="133.5" fill="url(#gYBox)" stroke="#222" stroke-width="1.8"/><text font-size="23.5" fill="#111"><tspan x="525.3" y="2241.9">BMPs</tspan><tspan x="525.3" y="2270.03">ET/EDNR</tspan><tspan x="525.3" y="2298.16">SoxD/E</tspan><tspan x="525.3" y="2326.29">Runx</tspan></text>
<rect x="687.7" y="2212" width="129.5" height="133.5" fill="url(#gYBox)" stroke="#222" stroke-width="1.8"/><text font-size="23.5" fill="#111"><tspan x="705.8" y="2241.9">Wnt1/3a</tspan><tspan x="705.8" y="2270.03">β-cat</tspan><tspan x="705.8" y="2298.16">Sox10</tspan><tspan x="705.8" y="2326.29">MITF, Kit</tspan></text>
<rect x="866.3" y="2212" width="129.4" height="133.5" fill="url(#gYBox)" stroke="#222" stroke-width="1.8"/><text font-size="23.5" fill="#111"><tspan x="882.5" y="2241.9">Wnt/β-cat</tspan><tspan x="882.5" y="2270.03">Neurog,</tspan><tspan x="882.5" y="2298.16">Brn, Islet</tspan><tspan x="882.5" y="2326.29">Runx</tspan></text>
<rect x="1044.5" y="2212" width="92.9" height="133.5" fill="url(#gYBox)" stroke="#222" stroke-width="1.8"/><text font-size="23.5" fill="#111"><tspan x="1058.2" y="2241.9">Foxd3</tspan><tspan x="1058.2" y="2270.03">Sox10</tspan><tspan x="1058.2" y="2298.16">Nrg</tspan><tspan x="1058.2" y="2326.29">ErbB</tspan></text>
<rect x="1185.8" y="2212" width="211.6" height="133.5" fill="url(#gYBox)" stroke="#222" stroke-width="1.8"/><text font-size="23.5" fill="#111"><tspan x="1204.3" y="2241.9">BMP</tspan><tspan x="1204.3" y="2270.03">Phox2a/b, Gata3</tspan><tspan x="1204.3" y="2298.16">Hand3, Mash1</tspan><tspan x="1204.3" y="2326.29">PNMT</tspan></text>
<rect x="1445.8" y="2210.8" width="182.8" height="192.7" fill="url(#gYBox)" stroke="#222" stroke-width="1.8"/><text font-size="23.5" fill="#111"><tspan x="1456.9" y="2241.9" font-weight="700">Others</tspan><tspan x="1456.9" y="2270.03">Striated muscle</tspan><tspan x="1456.9" y="2298.16">Odontoblasts</tspan><tspan x="1456.9" y="2326.29">Fibroblasts</tspan><tspan x="1456.9" y="2354.42">Adipocytes</tspan><tspan x="1456.9" y="2382.55">etc.</tspan></text>
<path d="M858.1,2114.3 C894.4,2094.0 931.4,2064.4 964.7,2042.9 C966.5,2053.3 977.6,2058.8 986.8,2067.3 C987.6,2075.5 981.3,2081.0 975.8,2086.6 C975.0,2092.1 981.3,2094.0 983.2,2098.4 C986.1,2105.1 983.2,2110.6 977.6,2114.3 C972.1,2121.7 964.7,2123.6 957.3,2123.6 C924.0,2123.6 887.0,2118.0 858.1,2114.3 Z" fill="#9168b5" stroke="#111" stroke-width="1.8" stroke-linejoin="round"/><circle cx="943.2" cy="2094.7" r="16.8" fill="url(#gNCn)" stroke="#111" stroke-width="1.8"/><text x="997.2" y="2086.6" font-size="23.3" fill="#111">NC</text>
<text x="326.7" y="2541.5" font-size="23.3" fill="#111">Smooth muscle</text>
<text font-size="23.3" fill="#111"><tspan x="544.2" y="2542.6">Cartilage</tspan><tspan x="544.2" y="2571.1">and bone</tspan></text>
<text font-size="23.3" fill="#111"><tspan x="725.4" y="2547.0">Pigment</tspan><tspan x="725.4" y="2575.5">cells</tspan></text>
<text x="851.8" y="2577.7" font-size="23.3" fill="#111">Sensory neurons</text>
<text x="1127.4" y="2577.7" font-size="23.3" fill="#111">Glia</text>
<text font-size="23.3" fill="#111"><tspan x="1253.9" y="2547.0">Adrenal</tspan><tspan x="1253.9" y="2575.9">(chromaffin) cells</tspan></text>
<g stroke="#111" stroke-width="1.6" stroke-linejoin="round"><path d="M313.8,2425.0 C348.9,2421.3 371.1,2413.9 397.0,2415.8 C422.9,2417.6 452.5,2423.9 470.2,2423.2 C445.1,2432.4 415.5,2441.6 385.9,2441.6 C356.3,2439.8 330.4,2430.5 313.8,2425.0 Z" fill="url(#gSM)"/><ellipse cx="384.0" cy="2427.6" rx="14.5" ry="6" fill="#5cb85a"/><path d="M354.5,2469.4 C371.1,2460.1 385.9,2449.0 404.4,2449.8 C434.0,2452.7 471.0,2467.5 491.3,2473.1 C459.9,2478.6 422.9,2478.6 397.0,2475.7 C378.5,2473.1 363.7,2470.5 354.5,2469.4 Z" fill="url(#gSM)"/><ellipse cx="401.4" cy="2460.9" rx="14.5" ry="6" fill="#5cb85a"/><path d="M314.5,2504.5 C334.1,2491.6 356.3,2482.3 382.2,2483.1 C408.1,2484.2 434.0,2487.9 454.3,2486.8 C445.1,2499.0 422.9,2506.4 397.0,2507.5 C367.4,2507.5 334.1,2505.3 314.5,2504.5 Z" fill="url(#gSM)"/><ellipse cx="374.1" cy="2494.2" rx="14.5" ry="6" fill="#5cb85a"/></g>
<ellipse cx="536.8" cy="2463.1" rx="36" ry="30" fill="#e4e2d4" stroke="#111" stroke-width="1.6" transform="rotate(-32 536.8 2463.1)"/><ellipse cx="531.2" cy="2468.6" rx="15" ry="13.5" fill="#c8c2a8" stroke="#333" stroke-width="1.4"/><g fill="none" stroke="#555" stroke-width="0.8"><path d="M528.8,2445.1 q8,-4 14,2 M542.8,2455.1 q6,2 10,-4 M548.8,2467.1 q-4,6 2,10 M514.8,2461.1 q3,-6 9,-5 M538.8,2441.1 q6,4 12,0 M508.79999999999995,2475.1 q2,8 8,10"/></g><g transform="rotate(10 599.3 2425.7)"><path d="M577.3,2411.7 L591.3,2400.7 L611.3,2401.7 L622.3,2417.7 L621.3,2439.7 L605.3,2451.7 L585.3,2449.7 L575.3,2433.7 Z" fill="#d8d8d2" stroke="#111" stroke-width="1.6" stroke-linejoin="round"/><ellipse cx="599.3" cy="2425.7" rx="17.5" ry="19" fill="#3a3a3a" stroke="#111" stroke-width="1"/><ellipse cx="599.3" cy="2425.7" rx="13" ry="14.5" fill="none" stroke="#aaa" stroke-width="1"/><ellipse cx="599.3" cy="2425.7" rx="9.5" ry="11" fill="#444" stroke="#ccc" stroke-width="1"/><ellipse cx="599.3" cy="2426.7" rx="4.5" ry="6.5" fill="#d9d3bd" stroke="#111" stroke-width="0.8"/></g><g transform="rotate(-15 640.0 2452.7)"><path d="M618.0,2438.7 L632.0,2427.7 L652.0,2428.7 L663.0,2444.7 L662.0,2466.7 L646.0,2478.7 L626.0,2476.7 L616.0,2460.7 Z" fill="#d8d8d2" stroke="#111" stroke-width="1.6" stroke-linejoin="round"/><ellipse cx="640.0" cy="2452.7" rx="17.5" ry="19" fill="#3a3a3a" stroke="#111" stroke-width="1"/><ellipse cx="640.0" cy="2452.7" rx="13" ry="14.5" fill="none" stroke="#aaa" stroke-width="1"/><ellipse cx="640.0" cy="2452.7" rx="9.5" ry="11" fill="#444" stroke="#ccc" stroke-width="1"/><ellipse cx="640.0" cy="2453.7" rx="4.5" ry="6.5" fill="#d9d3bd" stroke="#111" stroke-width="0.8"/></g><g transform="rotate(20 598.6 2483.1)"><path d="M576.6,2469.1 L590.6,2458.1 L610.6,2459.1 L621.6,2475.1 L620.6,2497.1 L604.6,2509.1 L584.6,2507.1 L574.6,2491.1 Z" fill="#d8d8d2" stroke="#111" stroke-width="1.6" stroke-linejoin="round"/><ellipse cx="598.6" cy="2483.1" rx="17.5" ry="19" fill="#3a3a3a" stroke="#111" stroke-width="1"/><ellipse cx="598.6" cy="2483.1" rx="13" ry="14.5" fill="none" stroke="#aaa" stroke-width="1"/><ellipse cx="598.6" cy="2483.1" rx="9.5" ry="11" fill="#444" stroke="#ccc" stroke-width="1"/><ellipse cx="598.6" cy="2484.1" rx="4.5" ry="6.5" fill="#d9d3bd" stroke="#111" stroke-width="0.8"/></g>
<g fill="none" stroke-linecap="round" stroke-linejoin="round"><path d="M686.2,2425.0 C711.4,2426.8 718.8,2445.3 744.7,2445.3 M679.9,2472.0 C700.3,2460.1 726.2,2456.4 746.5,2450.9 M774.2,2445.3 C792.7,2437.9 800.1,2423.2 826.0,2419.5 M774.2,2450.9 C792.7,2452.7 811.2,2463.8 839.0,2460.1" stroke="#111" stroke-width="8.5"/><path d="M696.6,2491.6 C718.8,2486.8 729.9,2493.4 746.5,2492.7 M708.4,2511.9 C726.2,2500.8 737.3,2499.0 748.4,2497.1 M770.5,2492.7 C792.7,2489.7 803.8,2482.3 826.0,2482.3 M772.4,2497.1 C789.0,2500.8 800.1,2513.8 816.8,2516.4" stroke="#111" stroke-width="8.5"/><ellipse cx="759.5" cy="2447.9" rx="24" ry="11" fill="#fdf3c0" stroke="#111" stroke-width="1.6"/><ellipse cx="759.5" cy="2494.5" rx="22" ry="9.5" fill="#fdf3c0" stroke="#111" stroke-width="1.6"/><path d="M686.2,2425.0 C711.4,2426.8 718.8,2445.3 744.7,2445.3 M679.9,2472.0 C700.3,2460.1 726.2,2456.4 746.5,2450.9 M774.2,2445.3 C792.7,2437.9 800.1,2423.2 826.0,2419.5 M774.2,2450.9 C792.7,2452.7 811.2,2463.8 839.0,2460.1" stroke="#fdf3c0" stroke-width="5.4"/><path d="M696.6,2491.6 C718.8,2486.8 729.9,2493.4 746.5,2492.7 M708.4,2511.9 C726.2,2500.8 737.3,2499.0 748.4,2497.1 M770.5,2492.7 C792.7,2489.7 803.8,2482.3 826.0,2482.3 M772.4,2497.1 C789.0,2500.8 800.1,2513.8 816.8,2516.4" stroke="#fdf3c0" stroke-width="5.4"/><ellipse cx="759.5" cy="2447.9" rx="12" ry="6.5" fill="#ffdf33" stroke="#111" stroke-width="1.3"/><ellipse cx="759.5" cy="2494.5" rx="11" ry="6" fill="#ffdf33" stroke="#111" stroke-width="1.3"/></g>
<path d="M964.7,2477.9 C942.5,2486.0 905.5,2504.5 875.9,2517.5 M964.7,2477.9 C953.6,2463.8 938.8,2452.7 924.0,2445.3 C920.3,2434.2 912.9,2426.8 896.2,2430.5 M924.0,2445.3 C912.9,2449.0 905.5,2445.3 899.9,2439.8 M964.7,2477.9 C961.0,2456.4 964.7,2437.9 973.9,2423.2 C975.8,2415.8 972.1,2410.2 967.6,2407.6 M961.0,2449.0 C953.6,2445.3 948.0,2437.9 948.0,2428.7 M964.7,2477.9 C990.5,2463.8 1012.7,2456.4 1027.5,2449.0 C1042.3,2437.9 1049.7,2426.8 1059.0,2440.9 M1023.8,2450.9 C1020.1,2434.2 1031.2,2426.8 1034.9,2417.6 C1036.8,2408.4 1027.5,2404.7 1018.3,2408.4 M964.7,2477.9 C983.2,2482.3 997.9,2489.7 1003.5,2497.1 C1012.7,2511.9 1009.0,2530.4 1026.8,2533.4 M997.9,2490.5 C1009.0,2482.3 1020.1,2478.6 1033.1,2480.5 M964.7,2477.9 C968.4,2497.1 970.2,2511.9 966.5,2523.0 C957.3,2537.8 961.0,2548.9 938.8,2555.6 M967.6,2521.2 C979.5,2523.0 986.8,2530.4 991.3,2539.7 M964.7,2477.9 C938.8,2482.3 916.6,2489.7 883.3,2484.2" fill="none" stroke="#111" stroke-width="8" stroke-linecap="round" stroke-linejoin="round"/><circle cx="964.7" cy="2477.9" r="18" fill="#f4a597" stroke="#111" stroke-width="1.6"/><path d="M964.7,2477.9 C942.5,2486.0 905.5,2504.5 875.9,2517.5 M964.7,2477.9 C953.6,2463.8 938.8,2452.7 924.0,2445.3 C920.3,2434.2 912.9,2426.8 896.2,2430.5 M924.0,2445.3 C912.9,2449.0 905.5,2445.3 899.9,2439.8 M964.7,2477.9 C961.0,2456.4 964.7,2437.9 973.9,2423.2 C975.8,2415.8 972.1,2410.2 967.6,2407.6 M961.0,2449.0 C953.6,2445.3 948.0,2437.9 948.0,2428.7 M964.7,2477.9 C990.5,2463.8 1012.7,2456.4 1027.5,2449.0 C1042.3,2437.9 1049.7,2426.8 1059.0,2440.9 M1023.8,2450.9 C1020.1,2434.2 1031.2,2426.8 1034.9,2417.6 C1036.8,2408.4 1027.5,2404.7 1018.3,2408.4 M964.7,2477.9 C983.2,2482.3 997.9,2489.7 1003.5,2497.1 C1012.7,2511.9 1009.0,2530.4 1026.8,2533.4 M997.9,2490.5 C1009.0,2482.3 1020.1,2478.6 1033.1,2480.5 M964.7,2477.9 C968.4,2497.1 970.2,2511.9 966.5,2523.0 C957.3,2537.8 961.0,2548.9 938.8,2555.6 M967.6,2521.2 C979.5,2523.0 986.8,2530.4 991.3,2539.7 M964.7,2477.9 C938.8,2482.3 916.6,2489.7 883.3,2484.2" fill="none" stroke="#c98880" stroke-width="4.8" stroke-linecap="round" stroke-linejoin="round"/><circle cx="964.7" cy="2477.9" r="16.5" fill="#f4a597"/><circle cx="964.7" cy="2477.9" r="9.5" fill="#f08a80" stroke="#111" stroke-width="1.3"/><path d="M1145.9,2437.2 L1134.8,2408.4 L1132.9,2389.9 M1134.8,2408.4 L1125.5,2401.0 M1134.8,2407.6 L1140.3,2397.3 M1145.9,2437.2 L1158.8,2412.1 L1166.2,2401.0 M1158.8,2412.1 L1156.2,2402.8 M1145.9,2437.2 L1175.5,2423.2 L1188.4,2417.6 M1175.5,2423.2 L1182.9,2413.9 M1175.5,2423.2 L1184.7,2426.8 M1145.9,2437.2 L1168.1,2450.9 L1190.3,2452.7 M1168.1,2450.9 L1182.9,2463.8 M1175.5,2452.7 L1184.7,2458.3 M1145.9,2437.2 L1123.7,2426.8 L1112.6,2423.2 M1123.7,2426.8 L1118.2,2417.6 M1145.9,2437.2 L1127.4,2445.3 L1108.9,2449.0 M1127.4,2445.3 L1114.5,2454.6 M1110.8,2537.8 L1094.1,2526.7 L1090.4,2517.5 M1110.8,2537.8 L1097.8,2545.2 L1090.4,2552.6 M1097.8,2545.2 L1101.5,2556.3 M1110.8,2537.8 L1120.0,2548.9 L1120.0,2560.0 M1120.0,2548.9 L1108.9,2561.9" fill="none" stroke="#111" stroke-width="5.6" stroke-linecap="round" stroke-linejoin="round"/><path d="M1145.9,2437.2 C1142.2,2463.8 1138.5,2482.3 1131.1,2504.5 C1125.5,2519.3 1116.3,2530.4 1110.8,2537.8" fill="none" stroke="#111" stroke-width="9" stroke-linecap="round"/><path d="M1129.9,2423.2 L1161.9,2421.2 L1165.9,2445.2 L1151.9,2461.2 L1137.9,2461.2 L1125.9,2443.2 Z" fill="#a9d9a0" stroke="#111" stroke-width="1.6" stroke-linejoin="round"/><path d="M1145.9,2437.2 C1142.2,2463.8 1138.5,2482.3 1131.1,2504.5 C1125.5,2519.3 1116.3,2530.4 1110.8,2537.8" fill="none" stroke="#a9d9a0" stroke-width="5.8" stroke-linecap="round"/><path d="M1145.9,2437.2 L1134.8,2408.4 L1132.9,2389.9 M1134.8,2408.4 L1125.5,2401.0 M1134.8,2407.6 L1140.3,2397.3 M1145.9,2437.2 L1158.8,2412.1 L1166.2,2401.0 M1158.8,2412.1 L1156.2,2402.8 M1145.9,2437.2 L1175.5,2423.2 L1188.4,2417.6 M1175.5,2423.2 L1182.9,2413.9 M1175.5,2423.2 L1184.7,2426.8 M1145.9,2437.2 L1168.1,2450.9 L1190.3,2452.7 M1168.1,2450.9 L1182.9,2463.8 M1175.5,2452.7 L1184.7,2458.3 M1145.9,2437.2 L1123.7,2426.8 L1112.6,2423.2 M1123.7,2426.8 L1118.2,2417.6 M1145.9,2437.2 L1127.4,2445.3 L1108.9,2449.0 M1127.4,2445.3 L1114.5,2454.6 M1110.8,2537.8 L1094.1,2526.7 L1090.4,2517.5 M1110.8,2537.8 L1097.8,2545.2 L1090.4,2552.6 M1097.8,2545.2 L1101.5,2556.3 M1110.8,2537.8 L1120.0,2548.9 L1120.0,2560.0 M1120.0,2548.9 L1108.9,2561.9" fill="none" stroke="#a9d9a0" stroke-width="2.6" stroke-linecap="round" stroke-linejoin="round"/><circle cx="1145.9" cy="2437.2" r="8.5" fill="#5cb85a" stroke="#111" stroke-width="1.3"/><path d="M1247.6,2508.2 C1242.1,2486.0 1260.5,2460.1 1279.0,2449.0 C1293.8,2437.9 1312.3,2434.2 1327.1,2441.6 C1341.9,2449.0 1345.6,2467.5 1353.0,2478.6 C1362.3,2489.7 1356.7,2497.1 1345.6,2499.0 C1323.4,2502.7 1293.8,2497.1 1271.6,2502.7 C1260.5,2506.4 1251.3,2517.5 1247.6,2508.2 Z" fill="#fbb980" stroke="#111" stroke-width="1.6"/><path d="M1269.8,2480.5 C1271.6,2463.8 1293.8,2449.0 1316.0,2449.0 C1334.5,2450.9 1340.1,2467.5 1338.2,2482.3 C1334.5,2497.1 1319.7,2499.0 1308.6,2489.7 C1293.8,2482.3 1275.3,2489.7 1269.8,2480.5 Z" fill="#f9a555" stroke="#111" stroke-width="1.5"/><path d="M1282.7,2474.9 C1286.4,2462.0 1304.9,2455.7 1319.7,2457.2 C1330.8,2460.1 1330.8,2473.1 1325.3,2482.3 C1316.0,2489.7 1304.9,2478.6 1293.8,2478.6 C1288.3,2479.4 1283.5,2478.6 1282.7,2474.9 Z" fill="url(#gAdr)" stroke="#111" stroke-width="1.5"/></svg>
<!-- mech -->
<svg class="L" viewBox="0 0 4411 2921" width="4411" height="2921" >
<defs>
<radialGradient id="gPC2" cx="0.5" cy="0.6" r="0.6"><stop offset="0" stop-color="#a98bc8"/><stop offset="1" stop-color="#8a60b0"/></radialGradient>
<radialGradient id="gPurBox"><stop offset="0" stop-color="#efe6f5"/><stop offset="1" stop-color="#cdbbe0"/></radialGradient>
<radialGradient id="gCell" cx="0.5" cy="0.5" r="0.65"><stop offset="0" stop-color="#a582c4"/><stop offset="1" stop-color="#8558a8"/></radialGradient>
<radialGradient id="gNuc"><stop offset="0" stop-color="#a377c2"/><stop offset="1" stop-color="#7b479c"/></radialGradient>
<linearGradient id="gEcad" x1="0" x2="0" y1="0" y2="1"><stop offset="0" stop-color="#e84c4a"/><stop offset="0.5" stop-color="#f08a80"/><stop offset="1" stop-color="#e84c4a"/></linearGradient>
<linearGradient id="gNcad" x1="0" x2="0" y1="0" y2="1"><stop offset="0" stop-color="#ffd92a"/><stop offset="0.5" stop-color="#fff09a"/><stop offset="1" stop-color="#ffd92a"/></linearGradient>
<linearGradient id="gT2" x1="0" x2="0" y1="0" y2="1"><stop offset="0" stop-color="#4fb24a"/><stop offset="0.5" stop-color="#9bd28e"/><stop offset="1" stop-color="#4fb24a"/></linearGradient>
<linearGradient id="gStrm" x1="0" x2="0" y1="0" y2="1"><stop offset="0" stop-color="#e3f0dc"/><stop offset="0.5" stop-color="#bfe0b4"/><stop offset="1" stop-color="#7cc472"/></linearGradient>
<radialGradient id="gSC" cx="0.5" cy="0.5" r="0.6"><stop offset="0" stop-color="#d3c4e6"/><stop offset="0.6" stop-color="#c3afdb"/><stop offset="1" stop-color="#a88bc8"/></radialGradient>
<linearGradient id="gBul" x1="0" x2="0" y1="0" y2="1"><stop offset="0" stop-color="#e8584c"/><stop offset="0.22" stop-color="#f4a79a"/><stop offset="0.42" stop-color="#fff"/><stop offset="0.6" stop-color="#fff"/><stop offset="0.8" stop-color="#9ddaf5"/><stop offset="1" stop-color="#35b8ee"/></linearGradient>
<linearGradient id="gTopC" x1="0" x2="0" y1="0" y2="1"><stop offset="0" stop-color="#bdb5b8"/><stop offset="1" stop-color="#ee6f60"/></linearGradient>
<linearGradient id="gRedBar" x1="0" x2="1"><stop offset="0" stop-color="#e8807e"/><stop offset="0.5" stop-color="#d14e54"/><stop offset="1" stop-color="#e8807e"/></linearGradient>
<linearGradient id="gGuide" x1="0" x2="0" y1="0" y2="1"><stop offset="0" stop-color="#e3f0dc"/><stop offset="1" stop-color="#7cc472"/></linearGradient>
</defs>
<text x="1743.8" y="564.5" font-size="23.5" fill="#111">NC migration can be subdivided in a series of different biological processes</text>
<rect x="1745.6" y="595.6" width="1059.0" height="394.3" fill="url(#gBox)" stroke="#fff" stroke-width="4.2"/>
<text x="1759.2" y="629.3" font-size="23.5" fill="#111" font-weight="700">Epithelial-mesenchymal transition (EMT)</text>
<rect x="1879.8" y="658" width="282.6" height="65.6" fill="url(#gPurBox)" stroke="#111" stroke-width="2.4"/><text font-size="23.5" fill="#111"><tspan x="1886.9" y="685.2">Snail2, Foxd3, Sox9/10</tspan><tspan x="1886.9" y="713.3">Ets1*, LSox5*, p53* (loss)</tspan></text>
<line x1="1793.8" y1="742.2" x2="2102.1" y2="742.2" stroke="#000" stroke-width="3.4" stroke-dasharray="8 4.6"/><path d="M2112.5,742.2 C2159.8,742.2 2201.1,761.5 2219.5,787.5" fill="none" stroke="#000" stroke-width="3.8"/><path d="M0,0 L-18.0,-9.0 L-18.0,9.0 Z" fill="#000" transform="translate(2227.7 796.0) rotate(52)"/><rect x="1783.7" y="844.2" width="402.7" height="9" fill="#e88a80"/><path d="M2159.8,767.4 C2183.4,782.1 2213.0,796.9 2230.7,810.2 L2254.4,830.9 C2247.0,838.3 2239.6,841.3 2242.5,851.6 C2236.6,859.0 2227.7,857.5 2224.8,853.1 C2218.9,856.0 2213.0,862.0 2210.0,867.9 C2201.1,867.9 2192.3,856.0 2183.4,841.3 C2174.5,823.5 2165.7,796.9 2159.8,767.4 Z" fill="url(#gCell)" stroke="#111" stroke-width="1.8" stroke-linejoin="round"/><rect x="1791.7" y="768.8" width="60.3" height="75.4" rx="17" fill="url(#gCell)" stroke="#111" stroke-width="1.8"/><circle cx="1821.5" cy="806.7" r="14.8" fill="url(#gNuc)" stroke="#111" stroke-width="1.8"/><rect x="1855.0" y="768.8" width="60.3" height="75.4" rx="17" fill="url(#gCell)" stroke="#111" stroke-width="1.8"/><circle cx="1884.8" cy="806.7" r="14.8" fill="url(#gNuc)" stroke="#111" stroke-width="1.8"/><rect x="1918.4" y="768.8" width="60.3" height="75.4" rx="17" fill="url(#gCell)" stroke="#111" stroke-width="1.8"/><circle cx="1948.2" cy="806.7" r="14.8" fill="url(#gNuc)" stroke="#111" stroke-width="1.8"/><rect x="1981.8" y="768.8" width="60.3" height="75.4" rx="17" fill="url(#gCell)" stroke="#111" stroke-width="1.8"/><circle cx="2011.5" cy="806.7" r="14.8" fill="url(#gNuc)" stroke="#111" stroke-width="1.8"/><rect x="2045.1" y="768.8" width="60.3" height="75.4" rx="17" fill="url(#gCell)" stroke="#111" stroke-width="1.8"/><circle cx="2074.9" cy="806.7" r="14.8" fill="url(#gNuc)" stroke="#111" stroke-width="1.8"/><rect x="2108.4" y="768.8" width="60.3" height="75.4" rx="17" fill="url(#gCell)" stroke="#111" stroke-width="1.8"/><circle cx="2138.2" cy="806.7" r="14.8" fill="url(#gNuc)" stroke="#111" stroke-width="1.8"/><rect x="1841.7" y="788.9" width="20" height="8.4" fill="url(#gEcad)" stroke="#222" stroke-width="1.4"/><rect x="1841.7" y="804.4" width="20" height="8.4" fill="url(#gEcad)" stroke="#222" stroke-width="1.4"/><rect x="1841.7" y="819.9" width="20" height="8.4" fill="url(#gEcad)" stroke="#222" stroke-width="1.4"/><line x1="1851.7" y1="797.5" x2="1851.7" y2="804.5" stroke="#fff" stroke-width="1.6"/><rect x="1905.2" y="788.9" width="20" height="8.4" fill="url(#gEcad)" stroke="#222" stroke-width="1.4"/><rect x="1905.2" y="804.4" width="20" height="8.4" fill="url(#gEcad)" stroke="#222" stroke-width="1.4"/><rect x="1905.2" y="819.9" width="20" height="8.4" fill="url(#gEcad)" stroke="#222" stroke-width="1.4"/><line x1="1915.2" y1="797.5" x2="1915.2" y2="804.5" stroke="#fff" stroke-width="1.6"/><rect x="1968.6" y="788.9" width="20" height="8.4" fill="url(#gNcad)" stroke="#222" stroke-width="1.4"/><rect x="1968.6" y="804.4" width="20" height="8.4" fill="url(#gEcad)" stroke="#222" stroke-width="1.4"/><line x1="1978.6" y1="797.5" x2="1978.6" y2="804.5" stroke="#fff" stroke-width="1.6"/><rect x="2032.1" y="788.9" width="20" height="8.4" fill="url(#gNcad)" stroke="#222" stroke-width="1.4"/><rect x="2032.1" y="804.4" width="20" height="8.4" fill="url(#gNcad)" stroke="#222" stroke-width="1.4"/><rect x="2032.1" y="819.9" width="20" height="8.4" fill="url(#gNcad)" stroke="#222" stroke-width="1.4"/><line x1="2042.1" y1="797.5" x2="2042.1" y2="804.5" stroke="#fff" stroke-width="1.6"/><rect x="2095.5" y="788.9" width="20" height="8.4" fill="url(#gNcad)" stroke="#222" stroke-width="1.4"/><rect x="2095.5" y="804.4" width="20" height="8.4" fill="url(#gNcad)" stroke="#222" stroke-width="1.4"/><rect x="2095.5" y="819.9" width="20" height="8.4" fill="url(#gNcad)" stroke="#222" stroke-width="1.4"/><line x1="2105.5" y1="797.5" x2="2105.5" y2="804.5" stroke="#fff" stroke-width="1.6"/><rect x="2158.9" y="788.9" width="20" height="8.4" fill="url(#gNcad)" stroke="#222" stroke-width="1.4"/><rect x="2158.9" y="804.4" width="20" height="8.4" fill="url(#gT2)" stroke="#222" stroke-width="1.4"/><line x1="2168.9" y1="797.5" x2="2168.9" y2="804.5" stroke="#fff" stroke-width="1.6"/><circle cx="2204.7" cy="830.0" r="14.8" fill="url(#gNuc)" stroke="#111" stroke-width="1.8"/><rect x="2229.5" y="815.2" width="19" height="9" fill="url(#gT2)" stroke="#222" stroke-width="1.5" transform="rotate(-38 2239.0 819.7)"/><rect x="2181.3" y="855.1" width="19" height="9" fill="url(#gNcad)" stroke="#222" stroke-width="1.5" transform="rotate(-42 2190.8 859.6)"/><path d="M2257.9,808.7 C2272.1,807.3 2289.8,810.2 2301.6,814.7 C2316.4,816.1 2331.2,813.2 2343.0,808.7 C2347.5,814.7 2346.0,820.6 2350.4,826.5 C2340.1,838.3 2331.2,856.0 2326.8,872.3 C2316.4,870.8 2304.6,866.4 2295.7,860.5 C2289.8,856.0 2281.0,853.1 2273.6,850.1 C2275.0,838.3 2269.1,823.5 2257.9,808.7 Z" fill="url(#gCell)" stroke="#111" stroke-width="1.8" stroke-linejoin="round"/><circle cx="2311.4" cy="835.9" r="14.8" fill="url(#gNuc)" stroke="#111" stroke-width="1.8"/><rect x="2280.3" y="803.7" width="19" height="9" fill="url(#gT2)" stroke="#222" stroke-width="1.5" transform="rotate(-70 2289.8 808.2)"/><rect x="2337.1" y="806.6" width="19" height="9" fill="url(#gNcad)" stroke="#222" stroke-width="1.5" transform="rotate(-45 2346.6 811.1)"/><rect x="2282.7" y="857.5" width="19" height="9" fill="url(#gT2)" stroke="#222" stroke-width="1.5" transform="rotate(-70 2292.2 862.0)"/><path d="M2217.4,874.4 C2236.6,878.2 2257.3,882.6 2272.1,881.2 C2286.9,882.6 2301.6,884.1 2310.5,881.2 L2317.9,888.6 C2313.5,897.4 2307.6,909.3 2298.7,915.2 C2292.8,918.1 2289.8,924.0 2290.4,932.9 C2278.0,927.0 2263.2,918.1 2251.4,909.3 C2239.6,900.4 2227.7,888.6 2217.4,874.4 Z" fill="url(#gCell)" stroke="#111" stroke-width="1.8" stroke-linejoin="round"/><circle cx="2270.6" cy="897.4" r="14.8" fill="url(#gNuc)" stroke="#111" stroke-width="1.8"/><rect x="2308.4" y="889.1" width="19" height="9" fill="url(#gT2)" stroke="#222" stroke-width="1.5" transform="rotate(5 2317.9 893.6)"/><rect x="2231.5" y="901.2" width="19" height="9" fill="url(#gNcad)" stroke="#222" stroke-width="1.5" transform="rotate(-62 2241.0 905.7)"/><rect x="2261.7" y="924.3" width="19" height="9" fill="url(#gT2)" stroke="#222" stroke-width="1.5" transform="rotate(-60 2271.2 928.8)"/><path d="M2343,854 L2372,854" stroke="#000" stroke-width="3.8"/><path d="M0,0 L-16.5,-8.25 L-16.5,8.25 Z" fill="#000" transform="translate(2385 854) rotate(0)"/><path d="M2315.8,919 L2372,919" stroke="#000" stroke-width="3.8"/><path d="M0,0 L-16.5,-8.25 L-16.5,8.25 Z" fill="#000" transform="translate(2385 919) rotate(0)"/><text x="1794.7" y="879.7" font-size="23.5" fill="#111">Prospective NC cells</text>
<text x="1759.2" y="971.3" font-size="23.5" fill="#111">* Expressed in cephalic NC only</text>
<text x="2173.1" y="967.8" font-size="23.5" fill="#111">Migratory NC cells</text>
<use href="#ic_f" x="2418.4" y="608.8" width="69.75" height="54.9"/><use href="#ic_c" x="2490.26" y="608.8" width="52.39" height="54.9"/><use href="#ic_m" x="2544.76" y="608.8" width="65.44" height="54.9"/><use href="#ic_z" x="2612.31" y="608.8" width="65.44" height="54.9"/>
<text font-size="22.65" fill="#111"><tspan x="2416.6" y="695.9">Before migration, NC cells</tspan><tspan x="2416.6" y="724.2">undergo EMT. There is a global</tspan><tspan x="2416.6" y="752.5">change of cell adhesion properties</tspan><tspan x="2416.6" y="780.8">and motility which helps trigger the</tspan><tspan x="2416.6" y="809.1">onset of migration.</tspan></text>
<rect x="2419.4" y="832.3" width="186" height="143" fill="#fff" stroke="#4aafc8" stroke-width="2.1"/><text x="2428.9" y="859.3" font-size="23.2" fill="#111" font-weight="700">Key</text>
<rect x="2430.5" y="879.7" width="18.3" height="11.8" fill="url(#gEcad)" stroke="#222" stroke-width="1.5"/><text x="2456.9" y="892.0" font-size="23.5" fill="#111">E-cad</text>
<rect x="2430.5" y="912.5" width="18.3" height="11.8" fill="url(#gNcad)" stroke="#222" stroke-width="1.5"/><text x="2456.9" y="924.7" font-size="23.5" fill="#111">N-cad</text>
<rect x="2430.5" y="945.3" width="18.3" height="11.8" fill="url(#gT2)" stroke="#222" stroke-width="1.5"/><text x="2456.9" y="957.4" font-size="23.5" fill="#111">Type II cad</text>

<rect x="1747.2" y="1116" width="283.4" height="757.5" fill="#6dcff6" stroke="#000" stroke-width="5.6" stroke-dasharray="5.4 4.5"/><rect x="1802.2" y="1139.2" width="205.4" height="710.7" fill="#c4173c"/><rect x="1809.2" y="1139.2" width="191.4" height="710.7" fill="url(#gStrm)"/><line x1="1772.2" y1="1142.3" x2="1772.2" y2="1828" stroke="#000" stroke-width="5.4"/><path d="M1758.4,1825 L1786,1825 L1772.2,1848.3 Z" fill="#000"/><path d="M1871.6,1164.1 C1872.0,1168.7 1870.0,1177.5 1866.4,1180.8 C1862.8,1184.2 1855.0,1183.6 1850.1,1184.2 C1845.3,1184.9 1840.2,1187.7 1837.2,1184.9 C1834.2,1182.0 1831.8,1173.2 1832.0,1167.2 C1832.3,1161.2 1835.2,1152.5 1838.7,1148.7 C1842.2,1145.0 1848.6,1143.9 1852.9,1144.6 C1857.1,1145.3 1861.1,1149.7 1864.3,1152.9 C1867.4,1156.2 1871.2,1159.4 1871.6,1164.1 Z" fill="url(#gSC)" stroke="#111" stroke-width="1.7"/><path d="M1907.7,1164.9 C1907.5,1169.9 1905.9,1175.3 1903.6,1178.8 C1901.3,1182.3 1898.6,1185.8 1893.9,1186.0 C1889.3,1186.2 1878.8,1183.6 1875.6,1180.1 C1872.4,1176.6 1874.1,1169.4 1874.8,1164.8 C1875.4,1160.2 1877.0,1155.4 1879.6,1152.7 C1882.1,1149.9 1885.7,1149.2 1890.0,1148.4 C1894.3,1147.7 1902.2,1145.7 1905.2,1148.4 C1908.1,1151.2 1908.0,1159.8 1907.7,1164.9 Z" fill="url(#gSC)" stroke="#111" stroke-width="1.7"/><path d="M1949.3,1172.4 C1949.3,1178.1 1946.6,1186.3 1943.1,1190.2 C1939.7,1194.0 1932.5,1195.9 1928.5,1195.6 C1924.6,1195.3 1922.2,1192.9 1919.3,1188.4 C1916.5,1183.9 1911.2,1173.9 1911.4,1168.7 C1911.5,1163.4 1917.2,1159.7 1920.3,1157.0 C1923.4,1154.2 1926.0,1152.2 1929.8,1152.1 C1933.7,1152.0 1939.9,1153.1 1943.2,1156.5 C1946.4,1159.8 1949.3,1166.8 1949.3,1172.4 Z" fill="url(#gSC)" stroke="#111" stroke-width="1.7"/><path d="M2002.8,1181.4 C2000.3,1186.8 1991.7,1188.2 1986.2,1190.5 C1980.6,1192.8 1975.9,1196.9 1969.4,1195.1 C1963.0,1193.3 1951.4,1185.7 1947.4,1179.7 C1943.3,1173.7 1943.2,1165.0 1945.1,1158.9 C1947.0,1152.7 1952.1,1145.2 1958.7,1143.0 C1965.3,1140.8 1977.7,1143.1 1984.7,1145.6 C1991.8,1148.1 1998.1,1151.9 2001.1,1157.9 C2004.1,1163.8 2005.3,1176.0 2002.8,1181.4 Z" fill="url(#gSC)" stroke="#111" stroke-width="1.7"/><path d="M1870.7,1210.6 C1870.7,1215.4 1867.5,1221.7 1864.4,1225.3 C1861.3,1228.8 1856.3,1231.5 1852.2,1232.1 C1848.1,1232.7 1843.2,1231.6 1839.9,1228.7 C1836.6,1225.7 1832.7,1219.2 1832.5,1214.5 C1832.2,1209.8 1835.0,1204.7 1838.2,1200.2 C1841.5,1195.8 1847.6,1188.6 1851.9,1187.9 C1856.2,1187.3 1861.0,1192.5 1864.1,1196.3 C1867.2,1200.1 1870.6,1205.8 1870.7,1210.6 Z" fill="url(#gSC)" stroke="#111" stroke-width="1.7"/><path d="M1913.8,1207.8 C1914.6,1212.5 1911.2,1219.9 1908.0,1223.3 C1904.9,1226.8 1899.5,1228.9 1894.7,1228.4 C1889.9,1228.0 1882.5,1224.0 1879.1,1220.8 C1875.7,1217.5 1874.3,1213.1 1874.3,1208.8 C1874.4,1204.6 1876.6,1199.0 1879.3,1195.4 C1882.1,1191.8 1886.8,1187.2 1890.7,1187.1 C1894.7,1187.0 1899.2,1191.4 1903.0,1194.9 C1906.9,1198.3 1913.0,1203.0 1913.8,1207.8 Z" fill="url(#gSC)" stroke="#111" stroke-width="1.7"/><path d="M1948.6,1206.1 C1949.2,1210.5 1949.4,1217.2 1946.9,1220.7 C1944.4,1224.1 1938.3,1227.2 1933.5,1226.6 C1928.7,1226.1 1921.8,1220.7 1918.2,1217.3 C1914.5,1213.8 1911.9,1209.8 1911.6,1206.0 C1911.3,1202.1 1913.2,1197.7 1916.6,1194.4 C1920.0,1191.1 1927.5,1186.1 1931.9,1186.1 C1936.4,1186.1 1940.4,1191.0 1943.2,1194.3 C1946.0,1197.6 1948.0,1201.7 1948.6,1206.1 Z" fill="url(#gSC)" stroke="#111" stroke-width="1.7"/><path d="M1985.7,1211.2 C1985.1,1215.4 1982.3,1220.1 1978.8,1223.6 C1975.3,1227.1 1968.8,1232.4 1964.6,1232.2 C1960.4,1232.0 1956.5,1226.1 1953.8,1222.5 C1951.0,1218.9 1948.9,1215.1 1948.2,1210.7 C1947.5,1206.3 1946.2,1199.0 1949.7,1196.2 C1953.2,1193.5 1963.6,1194.0 1969.1,1194.3 C1974.5,1194.6 1979.5,1195.4 1982.3,1198.2 C1985.1,1201.0 1986.2,1207.0 1985.7,1211.2 Z" fill="url(#gSC)" stroke="#111" stroke-width="1.7"/><path d="M1865.1,1261.4 C1866.5,1270.4 1864.4,1287.0 1862.1,1294.5 C1859.8,1302.1 1855.6,1305.8 1851.3,1306.5 C1847.1,1307.2 1841.4,1305.1 1836.5,1298.7 C1831.5,1292.3 1823.3,1276.8 1821.4,1268.0 C1819.5,1259.1 1822.9,1253.0 1825.0,1245.5 C1827.0,1238.0 1829.1,1223.7 1833.8,1222.9 C1838.5,1222.2 1848.1,1234.5 1853.3,1240.9 C1858.5,1247.3 1863.6,1252.5 1865.1,1261.4 Z" fill="url(#gSC)" stroke="#111" stroke-width="1.7"/><path d="M1912.9,1249.8 C1912.5,1256.2 1907.0,1262.4 1904.1,1266.4 C1901.2,1270.4 1899.6,1273.0 1895.3,1273.7 C1891.1,1274.5 1882.4,1274.9 1878.6,1270.7 C1874.8,1266.5 1872.7,1255.1 1872.6,1248.5 C1872.6,1241.9 1875.5,1234.9 1878.5,1231.1 C1881.4,1227.3 1885.9,1226.1 1890.6,1225.6 C1895.2,1225.1 1902.7,1224.1 1906.4,1228.1 C1910.1,1232.1 1913.3,1243.4 1912.9,1249.8 Z" fill="url(#gSC)" stroke="#111" stroke-width="1.7"/><path d="M1928.7,1246.9 C1928.7,1246.9 1928.7,1246.9 1928.7,1247.0 C1928.7,1247.0 1928.7,1247.0 1928.7,1247.0 C1928.7,1247.0 1928.7,1247.0 1928.7,1246.9 C1928.7,1246.9 1928.7,1246.9 1928.7,1246.9 C1928.7,1246.9 1928.7,1246.9 1928.7,1246.9 C1928.7,1246.8 1928.7,1246.8 1928.7,1246.8 C1928.7,1246.8 1928.7,1246.8 1928.7,1246.9 C1928.7,1246.9 1928.7,1246.9 1928.7,1246.9 Z" fill="url(#gSC)" stroke="#111" stroke-width="1.7"/><path d="M1983.0,1248.4 C1983.0,1254.5 1980.7,1268.9 1977.6,1273.4 C1974.5,1277.9 1969.3,1276.1 1964.4,1275.4 C1959.5,1274.7 1951.9,1273.1 1948.4,1269.4 C1944.9,1265.7 1943.4,1259.4 1943.4,1253.2 C1943.4,1247.0 1945.4,1236.5 1948.4,1232.3 C1951.3,1228.1 1956.4,1227.5 1961.3,1228.2 C1966.1,1228.8 1973.6,1233.0 1977.2,1236.4 C1980.9,1239.7 1982.9,1242.2 1983.0,1248.4 Z" fill="url(#gSC)" stroke="#111" stroke-width="1.7"/><path d="M1971.9,1342.3 C1971.9,1349.9 1970.3,1356.8 1967.6,1360.8 C1964.8,1364.8 1959.4,1366.4 1955.4,1366.3 C1951.3,1366.2 1946.2,1365.7 1943.2,1360.3 C1940.2,1355.0 1937.3,1341.3 1937.6,1334.3 C1937.9,1327.2 1941.6,1322.3 1945.0,1317.9 C1948.5,1313.4 1954.7,1307.9 1958.5,1307.5 C1962.3,1307.1 1965.6,1309.6 1967.8,1315.4 C1970.1,1321.2 1972.0,1334.7 1971.9,1342.3 Z" fill="url(#gSC)" stroke="#111" stroke-width="1.7"/><path d="M1875.9,1376.3 C1871.5,1382.6 1865.0,1390.1 1859.1,1393.6 C1853.3,1397.0 1845.2,1398.8 1840.7,1397.0 C1836.3,1395.1 1832.6,1388.1 1832.2,1382.2 C1831.8,1376.3 1834.6,1367.8 1838.4,1361.3 C1842.2,1354.9 1849.2,1346.9 1855.1,1343.5 C1861.0,1340.2 1868.8,1339.5 1873.8,1341.4 C1878.7,1343.4 1884.7,1349.7 1885.1,1355.5 C1885.4,1361.3 1880.2,1369.9 1875.9,1376.3 Z" fill="url(#gSC)" stroke="#111" stroke-width="1.7"/><path d="M1943.7,1376.1 C1943.5,1384.7 1939.3,1396.1 1936.3,1402.5 C1933.3,1408.8 1929.4,1415.0 1925.7,1414.5 C1922.0,1413.9 1917.2,1404.1 1914.2,1399.0 C1911.1,1393.9 1907.8,1391.2 1907.3,1383.8 C1906.8,1376.4 1908.8,1360.9 1911.1,1354.4 C1913.4,1348.0 1916.7,1345.5 1921.2,1345.0 C1925.6,1344.5 1934.0,1346.1 1937.7,1351.3 C1941.5,1356.5 1943.9,1367.6 1943.7,1376.1 Z" fill="url(#gSC)" stroke="#111" stroke-width="1.7"/><path d="M1977.3,1405.7 C1976.0,1413.6 1971.9,1424.2 1968.1,1430.5 C1964.3,1436.8 1958.7,1443.3 1954.4,1443.5 C1950.1,1443.7 1944.7,1437.6 1942.4,1431.7 C1940.0,1425.9 1939.2,1416.9 1940.2,1408.4 C1941.1,1400.0 1944.4,1387.9 1948.0,1381.2 C1951.6,1374.6 1957.3,1368.1 1962.0,1368.5 C1966.7,1368.8 1973.8,1377.2 1976.4,1383.4 C1978.9,1389.6 1978.7,1397.8 1977.3,1405.7 Z" fill="url(#gSC)" stroke="#111" stroke-width="1.7"/><path d="M1885.4,1474.9 C1882.8,1484.9 1876.0,1492.8 1870.3,1499.2 C1864.7,1505.6 1856.0,1514.9 1851.6,1513.3 C1847.2,1511.8 1845.2,1498.2 1843.9,1490.0 C1842.5,1481.8 1841.4,1472.7 1843.4,1464.0 C1845.3,1455.3 1851.0,1443.7 1855.6,1437.7 C1860.3,1431.7 1866.1,1427.8 1871.1,1428.1 C1876.1,1428.5 1883.3,1431.8 1885.7,1439.6 C1888.1,1447.4 1888.0,1465.0 1885.4,1474.9 Z" fill="url(#gSC)" stroke="#111" stroke-width="1.7"/><path d="M1953.9,1476.6 C1954.6,1482.2 1950.2,1490.8 1944.6,1495.4 C1938.9,1499.9 1930.5,1502.8 1920.1,1503.9 C1909.6,1505.1 1888.8,1505.4 1881.9,1502.4 C1875.0,1499.5 1879.3,1492.1 1878.6,1486.4 C1877.9,1480.7 1873.1,1472.7 1877.5,1468.4 C1881.9,1464.0 1894.4,1461.4 1905.0,1460.3 C1915.5,1459.2 1932.5,1459.2 1940.7,1462.0 C1948.8,1464.7 1953.3,1471.0 1953.9,1476.6 Z" fill="url(#gSC)" stroke="#111" stroke-width="1.7"/><path d="M1917.7,1566.8 C1916.2,1574.9 1908.3,1589.4 1903.3,1596.1 C1898.2,1602.8 1892.8,1608.5 1887.2,1606.9 C1881.6,1605.4 1872.5,1594.2 1869.7,1586.8 C1866.9,1579.4 1869.2,1569.9 1870.5,1562.4 C1871.8,1555.0 1873.0,1546.7 1877.6,1542.0 C1882.2,1537.4 1892.4,1533.6 1898.2,1534.6 C1904.1,1535.5 1909.2,1542.2 1912.5,1547.5 C1915.7,1552.9 1919.3,1558.7 1917.7,1566.8 Z" fill="url(#gSC)" stroke="#111" stroke-width="1.7"/><path d="M1960.4,1562.0 C1960.7,1569.1 1964.3,1575.1 1961.5,1578.8 C1958.7,1582.5 1949.3,1584.4 1943.6,1584.1 C1937.8,1583.9 1930.4,1582.1 1926.9,1577.3 C1923.4,1572.4 1922.0,1562.1 1922.5,1555.3 C1923.0,1548.4 1926.4,1541.4 1929.7,1536.3 C1933.1,1531.2 1937.5,1525.0 1942.5,1524.9 C1947.5,1524.9 1956.8,1530.0 1959.8,1536.1 C1962.8,1542.3 1960.1,1554.8 1960.4,1562.0 Z" fill="url(#gSC)" stroke="#111" stroke-width="1.7"/><path d="M1891.7,1649.2 C1892.1,1654.6 1881.6,1661.9 1876.5,1666.7 C1871.3,1671.6 1866.9,1677.0 1860.8,1678.4 C1854.7,1679.7 1845.7,1677.1 1839.8,1675.0 C1834.0,1672.8 1827.6,1670.2 1825.7,1665.5 C1823.7,1660.7 1824.6,1651.4 1828.1,1646.5 C1831.5,1641.6 1838.6,1638.1 1846.3,1636.0 C1853.9,1633.9 1866.6,1631.8 1874.2,1633.9 C1881.8,1636.1 1891.3,1643.7 1891.7,1649.2 Z" fill="url(#gSC)" stroke="#111" stroke-width="1.7"/><path d="M1944.7,1651.0 C1945.4,1658.1 1943.7,1668.0 1940.1,1673.5 C1936.5,1679.0 1928.5,1683.4 1922.9,1684.0 C1917.3,1684.7 1910.6,1682.7 1906.4,1677.4 C1902.2,1672.1 1898.1,1661.8 1897.9,1652.4 C1897.7,1643.0 1901.6,1627.9 1905.4,1621.0 C1909.1,1614.1 1915.3,1609.3 1920.4,1610.9 C1925.5,1612.6 1932.0,1624.3 1936.0,1630.9 C1940.1,1637.6 1944.0,1643.9 1944.7,1651.0 Z" fill="url(#gSC)" stroke="#111" stroke-width="1.7"/><path d="M1882.2,1743.1 C1881.5,1748.3 1875.5,1756.4 1871.5,1760.6 C1867.6,1764.7 1862.5,1767.5 1858.5,1768.3 C1854.5,1769.1 1850.2,1769.2 1847.6,1765.4 C1845.1,1761.6 1843.2,1752.0 1843.0,1745.7 C1842.9,1739.4 1844.1,1731.9 1846.6,1727.5 C1849.2,1723.2 1853.7,1719.2 1858.4,1719.5 C1863.2,1719.8 1871.4,1725.3 1875.4,1729.3 C1879.3,1733.2 1882.8,1737.9 1882.2,1743.1 Z" fill="url(#gSC)" stroke="#111" stroke-width="1.7"/><path d="M1909.9,1227.3 C1922.2,1218.1 1943.1,1220.7 1947.5,1236.4 C1945.7,1257.3 1937.1,1273.0 1938.4,1288.7 C1937.1,1299.2 1924.0,1297.1 1913.5,1304.9 C1908.3,1299.7 1918.8,1288.7 1920.1,1273.0 C1913.5,1259.9 1904.6,1246.9 1909.9,1227.3 Z" fill="url(#gSC)" stroke="#111" stroke-width="1.7"/><path d="M1954.5,1808.5 Q1972.0,1805.4 1995.2,1816.6 M1952.9,1815.6 Q1973.1,1820.6 1991.5,1841.7 M1949.2,1820.9 Q1966.2,1832.5 1975.9,1858.5 M1946.0,1823.4 Q1955.6,1832.9 1958.5,1855.3 M1936.6,1826.1 Q1940.0,1842.0 1929.9,1864.6 M1930.2,1825.0 Q1929.9,1833.0 1916.8,1846.2 M1925.7,1822.5 Q1922.2,1832.0 1904.5,1841.7 M1921.1,1817.4 Q1910.2,1827.9 1886.5,1830.8 M1919.2,1813.1 Q1911.1,1818.3 1891.5,1815.5 M1918.7,1805.6 Q1898.2,1806.5 1874.8,1791.6 M1921.7,1797.8 Q1913.3,1795.2 1903.5,1778.7 M1926.5,1793.1 Q1919.9,1787.9 1916.9,1769.2 M1932.0,1790.7 Q1927.5,1783.7 1930.7,1765.2 M1936.4,1790.1 Q1932.5,1770.7 1943.5,1745.8 M1943.6,1791.5 Q1944.7,1782.0 1959.3,1768.6 M1950.9,1797.3 Q1964.2,1782.7 1990.8,1776.8 M1953.0,1800.9 Q1970.5,1789.0 1998.8,1789.4 " fill="none" stroke="#111" stroke-width="6" stroke-linecap="round"/><path d="M1959.4,1810.2 C1960.2,1814.9 1960.7,1818.4 1958.5,1821.6 C1956.4,1824.9 1951.4,1828.2 1946.4,1829.8 C1941.4,1831.4 1933.2,1832.2 1928.5,1831.4 C1923.8,1830.5 1921.1,1828.6 1918.1,1824.7 C1915.1,1820.8 1911.3,1812.9 1910.5,1808.1 C1909.6,1803.3 1910.3,1799.6 1913.0,1795.6 C1915.6,1791.7 1920.9,1786.5 1926.2,1784.5 C1931.4,1782.4 1940.0,1782.0 1944.6,1783.5 C1949.2,1784.9 1951.2,1788.4 1953.7,1792.9 C1956.2,1797.3 1958.6,1805.4 1959.4,1810.2 Z" fill="#cdbce0" stroke="#111" stroke-width="1.7"/><path d="M1954.5,1808.5 Q1972.0,1805.4 1995.2,1816.6 M1952.9,1815.6 Q1973.1,1820.6 1991.5,1841.7 M1949.2,1820.9 Q1966.2,1832.5 1975.9,1858.5 M1946.0,1823.4 Q1955.6,1832.9 1958.5,1855.3 M1936.6,1826.1 Q1940.0,1842.0 1929.9,1864.6 M1930.2,1825.0 Q1929.9,1833.0 1916.8,1846.2 M1925.7,1822.5 Q1922.2,1832.0 1904.5,1841.7 M1921.1,1817.4 Q1910.2,1827.9 1886.5,1830.8 M1919.2,1813.1 Q1911.1,1818.3 1891.5,1815.5 M1918.7,1805.6 Q1898.2,1806.5 1874.8,1791.6 M1921.7,1797.8 Q1913.3,1795.2 1903.5,1778.7 M1926.5,1793.1 Q1919.9,1787.9 1916.9,1769.2 M1932.0,1790.7 Q1927.5,1783.7 1930.7,1765.2 M1936.4,1790.1 Q1932.5,1770.7 1943.5,1745.8 M1943.6,1791.5 Q1944.7,1782.0 1959.3,1768.6 M1950.9,1797.3 Q1964.2,1782.7 1990.8,1776.8 M1953.0,1800.9 Q1970.5,1789.0 1998.8,1789.4 " fill="none" stroke="#cdbce0" stroke-width="3" stroke-linecap="round"/><circle cx="1850.8" cy="1165.3" r="8.4" fill="url(#gNuc)" stroke="#111" stroke-width="1.5"/><circle cx="1892.1" cy="1165.8" r="8.4" fill="url(#gNuc)" stroke="#111" stroke-width="1.5"/><circle cx="1930.0" cy="1171.0" r="8.4" fill="url(#gNuc)" stroke="#111" stroke-width="1.5"/><circle cx="1981.0" cy="1169.7" r="8.4" fill="url(#gNuc)" stroke="#111" stroke-width="1.5"/><circle cx="1853.4" cy="1210.8" r="8.4" fill="url(#gNuc)" stroke="#111" stroke-width="1.5"/><circle cx="1893.4" cy="1209.0" r="8.4" fill="url(#gNuc)" stroke="#111" stroke-width="1.5"/><circle cx="1930.8" cy="1205.6" r="8.4" fill="url(#gNuc)" stroke="#111" stroke-width="1.5"/><circle cx="1966.6" cy="1210.8" r="8.4" fill="url(#gNuc)" stroke="#111" stroke-width="1.5"/><circle cx="1844.2" cy="1265.7" r="8.4" fill="url(#gNuc)" stroke="#111" stroke-width="1.5"/><circle cx="1894.7" cy="1250.0" r="8.4" fill="url(#gNuc)" stroke="#111" stroke-width="1.5"/><circle cx="1928.7" cy="1241.6" r="8.4" fill="url(#gNuc)" stroke="#111" stroke-width="1.5"/><circle cx="1962.7" cy="1253.4" r="8.4" fill="url(#gNuc)" stroke="#111" stroke-width="1.5"/><circle cx="1959.5" cy="1338.4" r="8.4" fill="url(#gNuc)" stroke="#111" stroke-width="1.5"/><circle cx="1857.3" cy="1371.6" r="8.4" fill="url(#gNuc)" stroke="#111" stroke-width="1.5"/><circle cx="1924.0" cy="1373.7" r="8.4" fill="url(#gNuc)" stroke="#111" stroke-width="1.5"/><circle cx="1959.5" cy="1409.5" r="8.4" fill="url(#gNuc)" stroke="#111" stroke-width="1.5"/><circle cx="1863.3" cy="1480.8" r="8.4" fill="url(#gNuc)" stroke="#111" stroke-width="1.5"/><circle cx="1908.3" cy="1483.5" r="8.4" fill="url(#gNuc)" stroke="#111" stroke-width="1.5"/><circle cx="1897.3" cy="1585.9" r="8.4" fill="url(#gNuc)" stroke="#111" stroke-width="1.5"/><circle cx="1944.4" cy="1558.4" r="8.4" fill="url(#gNuc)" stroke="#111" stroke-width="1.5"/><circle cx="1858.9" cy="1655.2" r="8.4" fill="url(#gNuc)" stroke="#111" stroke-width="1.5"/><circle cx="1921.4" cy="1645.2" r="8.4" fill="url(#gNuc)" stroke="#111" stroke-width="1.5"/><circle cx="1865.2" cy="1742.7" r="8.4" fill="url(#gNuc)" stroke="#111" stroke-width="1.5"/><circle cx="1939.9" cy="1805.5" r="8.4" fill="url(#gNuc)" stroke="#111" stroke-width="1.5"/><g fill="none" stroke="#fff" stroke-width="4.8"><rect x="1858.4" y="1158.3" width="64.8" height="65.3"/><rect x="1891.4" y="1243.5" width="65.7" height="65.8"/><rect x="1909.7" y="1516.9" width="66.3" height="78.3"/><rect x="1829.9" y="1711.9" width="65.5" height="65"/></g><g stroke="#fff" stroke-width="5.6" stroke-dasharray="5.8 9.3"><line x1="1893.4" y1="996" x2="1893.4" y2="1156"/><line x1="1966.6" y1="1282.7" x2="2076" y2="1282.7"/><line x1="1982.3" y1="1556.3" x2="2076" y2="1556.3"/><line x1="1856.8" y1="1784.6" x2="1856.8" y2="2002"/></g>
<rect x="2080.0" y="1043.1999999999998" width="725.1999999999999" height="431.3" fill="url(#gBox)" stroke="#fff" stroke-width="4.2"/>
<text x="2092.2" y="1079.7" font-size="23.5" fill="#111" font-weight="700">Contact-inhibition of locomotion</text>
<use href="#ic_f" x="2529.9" y="1064.8" width="70" height="54.8"/><use href="#ic_c" x="2602.1" y="1064.8" width="51.7" height="54.8"/><use href="#ic_z" x="2655.9" y="1064.8" width="65.9" height="54.8"/><text font-size="23.5" fill="#111"><tspan x="2529.9" y="1150.4">Owing to contact-</tspan><tspan x="2529.9" y="1178.64">inhibition locomotion</tspan><tspan x="2529.9" y="1206.88">(CIL), NC cells are</tspan><tspan x="2529.9" y="1235.12">polarised by contact</tspan><tspan x="2529.9" y="1263.36">with one another.</tspan><tspan x="2529.9" y="1291.6">This leads to cell</tspan><tspan x="2529.9" y="1319.84">dispersion.</tspan></text>
<rect x="2531" y="1344.7" width="257.5" height="111" fill="#fff" stroke="#4aafc8" stroke-width="2.1"/><text x="2539.7" y="1371.4" font-size="23.2" fill="#111" font-weight="700">Key</text>
<rect x="2539.4" y="1388.5" width="19.3" height="18.4" fill="#ee8270" stroke="#222" stroke-width="1.5"/><text x="2565" y="1405.3" font-size="23.5" fill="#111">RhoA</text>
<rect x="2539.4" y="1423.4" width="19.3" height="18.4" fill="#3cbcf0" stroke="#222" stroke-width="1.5"/><text x="2565" y="1440.2" font-size="23.5" fill="#111">Rac1</text>
<rect x="2638.5" y="1392.7" width="17.5" height="10.4" fill="url(#gNcad)" stroke="#222" stroke-width="1.5"/><text x="2662.3" y="1405.3" font-size="23.5" fill="#111">N-cad</text>
<line x1="2634.7" y1="1434.5" x2="2654.4" y2="1434.5" stroke="#d8232f" stroke-width="1.8"/><text x="2662.3" y="1440.2" font-size="23.5" fill="#111">Wnt/PCP</text>
<clipPath id="cTop"><rect x="2150" y="1105.1" width="350" height="100"/></clipPath><g clip-path="url(#cTop)" stroke="#111" stroke-width="1.8"><path d="M2180.9,1093.3 L2180.9,1106.0 C2187.2,1118.7 2212.5,1123.4 2241.0,1122.5 C2260.0,1121.9 2268.0,1115.5 2268.0,1106.0 L2268.0,1093.3 Z" fill="url(#gTopC)"/><path d="M2277.5,1093.3 L2278.4,1121.9 C2291.7,1125.0 2317.0,1137.7 2332.9,1145.6 C2345.6,1148.8 2361.4,1134.5 2370.9,1106.0 L2370.9,1093.3 Z" fill="url(#gTopC)"/><path d="M2382.0,1093.3 C2383.6,1118.7 2389.9,1140.9 2405.7,1156.7 C2418.4,1164.6 2434.2,1166.2 2443.7,1159.9 C2450.1,1150.4 2451.7,1125.0 2451.7,1093.3 Z" fill="url(#gTopC)"/></g><g fill="none" stroke="#d8232f" stroke-width="1.6"><path d="M2209.4,1118.0 C2228.4,1121.9 2250.5,1121.2 2263.2,1114.9 M2296.5,1123.4 C2310.7,1131.4 2323.4,1139.3 2336.1,1142.4 M2359.8,1121.9 C2355.1,1131.4 2348.7,1139.3 2342.4,1144.7 M2393.1,1137.7 C2399.4,1148.8 2408.9,1155.1 2418.4,1157.3"/></g><g transform="translate(2258.5 1155.1) rotate(70.3) scale(1.0 0.97)"><path d="M0,0 C22,2 36,40 40,80 L42,125 C42,141 32,141 30,125 C28,108 21,106 19,120 C17,139 9,139 7,122 C5,106 -3,106 -5,122 C-7,141 -15,141 -17,124 C-19,108 -27,106 -29,122 C-31,141 -42,141 -42,125 L-40,80 C-36,40 -22,2 0,0 Z" fill="url(#gBul)" stroke="#111" stroke-width="1.8" vector-effect="non-scaling-stroke"/><path d="M4,6 C20,14 30,40 33,62" fill="none" stroke="#d8232f" stroke-width="1.6"/></g><g transform="translate(2288.5 1134.5) rotate(0) scale(0.98 1.0)"><path d="M0,0 C22,2 36,40 40,80 L42,125 C42,141 32,141 30,125 C28,108 21,106 19,120 C17,139 9,139 7,122 C5,106 -3,106 -5,122 C-7,141 -15,141 -17,124 C-19,108 -27,106 -29,122 C-31,141 -42,141 -42,125 L-40,80 C-36,40 -22,2 0,0 Z" fill="url(#gBul)" stroke="#111" stroke-width="1.8" vector-effect="non-scaling-stroke"/><path d="M-4,6 C-20,14 -30,40 -33,62" fill="none" stroke="#d8232f" stroke-width="1.6"/><path d="M4,6 C20,14 30,40 33,62" fill="none" stroke="#d8232f" stroke-width="1.6"/></g><g transform="translate(2364.6 1155.1) rotate(-28.7) scale(0.95 0.96)"><path d="M0,0 C22,2 36,40 40,80 L42,125 C42,141 32,141 30,125 C28,108 21,106 19,120 C17,139 9,139 7,122 C5,106 -3,106 -5,122 C-7,141 -15,141 -17,124 C-19,108 -27,106 -29,122 C-31,141 -42,141 -42,125 L-40,80 C-36,40 -22,2 0,0 Z" fill="url(#gBul)" stroke="#111" stroke-width="1.8" vector-effect="non-scaling-stroke"/><path d="M-4,6 C-20,14 -30,40 -33,62" fill="none" stroke="#d8232f" stroke-width="1.6"/><path d="M4,6 C20,14 30,40 33,62" fill="none" stroke="#d8232f" stroke-width="1.6"/></g><g transform="translate(2274.3 1307.1) rotate(41.1) scale(1.0 0.95)"><path d="M0,0 C22,2 36,40 40,80 L42,125 C42,141 32,141 30,125 C28,108 21,106 19,120 C17,139 9,139 7,122 C5,106 -3,106 -5,122 C-7,141 -15,141 -17,124 C-19,108 -27,106 -29,122 C-31,141 -42,141 -42,125 L-40,80 C-36,40 -22,2 0,0 Z" fill="url(#gBul)" stroke="#111" stroke-width="1.8" vector-effect="non-scaling-stroke"/><path d="M-4,6 C-20,14 -30,40 -33,62" fill="none" stroke="#d8232f" stroke-width="1.6"/><path d="M4,6 C20,14 30,40 33,62" fill="none" stroke="#d8232f" stroke-width="1.6"/></g><g transform="translate(2320.2 1292.9) rotate(-1.3) scale(0.98 1.0)"><path d="M0,0 C22,2 36,40 40,80 L42,125 C42,141 32,141 30,125 C28,108 21,106 19,120 C17,139 9,139 7,122 C5,106 -3,106 -5,122 C-7,141 -15,141 -17,124 C-19,108 -27,106 -29,122 C-31,141 -42,141 -42,125 L-40,80 C-36,40 -22,2 0,0 Z" fill="url(#gBul)" stroke="#111" stroke-width="1.8" vector-effect="non-scaling-stroke"/><path d="M-4,6 C-20,14 -30,40 -33,62" fill="none" stroke="#d8232f" stroke-width="1.6"/><path d="M4,6 C20,14 30,40 33,62" fill="none" stroke="#d8232f" stroke-width="1.6"/></g><circle cx="2193.5" cy="1175.1" r="15" fill="url(#gNuc)" stroke="#111" stroke-width="1.8"/><circle cx="2290.8" cy="1203.2" r="15" fill="url(#gNuc)" stroke="#111" stroke-width="1.8"/><circle cx="2392.4" cy="1213.7" r="15" fill="url(#gNuc)" stroke="#111" stroke-width="1.8"/><circle cx="2231.5" cy="1356.2" r="15" fill="url(#gNuc)" stroke="#111" stroke-width="1.8"/><circle cx="2321.8" cy="1361.0" r="15" fill="url(#gNuc)" stroke="#111" stroke-width="1.8"/><rect x="2231.4" y="1117.7" width="16" height="8.5" fill="url(#gNcad)" stroke="#222" stroke-width="1.5" transform="rotate(90 2239.4 1121.9)"/><rect x="2217.2" y="1131.8" width="16" height="8.5" fill="url(#gNcad)" stroke="#222" stroke-width="1.5" transform="rotate(90 2225.2 1136.1)"/><rect x="2245.1" y="1137.2" width="16" height="8.5" fill="url(#gNcad)" stroke="#222" stroke-width="1.5" transform="rotate(-35 2253.1 1141.5)"/><rect x="2262.2" y="1148.3" width="16" height="8.5" fill="url(#gNcad)" stroke="#222" stroke-width="1.5" transform="rotate(0 2270.2 1152.6)"/><rect x="2298.0" y="1120.8" width="16" height="8.5" fill="url(#gNcad)" stroke="#222" stroke-width="1.5" transform="rotate(-60 2306.0 1125.0)"/><rect x="2301.1" y="1143.8" width="16" height="8.5" fill="url(#gNcad)" stroke="#222" stroke-width="1.5" transform="rotate(-35 2309.1 1148.1)"/><rect x="2340.7" y="1139.8" width="16" height="8.5" fill="url(#gNcad)" stroke="#222" stroke-width="1.5" transform="rotate(65 2348.7 1144.0)"/><rect x="2377.8" y="1131.8" width="16" height="8.5" fill="url(#gNcad)" stroke="#222" stroke-width="1.5" transform="rotate(-35 2385.8 1136.1)"/><rect x="2375.6" y="1151.8" width="16" height="8.5" fill="url(#gNcad)" stroke="#222" stroke-width="1.5" transform="rotate(-35 2383.6 1156.1)"/><rect x="2340.7" y="1169.8" width="16" height="8.5" fill="url(#gNcad)" stroke="#222" stroke-width="1.5" transform="rotate(30 2348.7 1174.1)"/><rect x="2298.9" y="1266.5" width="16" height="8.5" fill="url(#gNcad)" stroke="#222" stroke-width="1.5" transform="rotate(80 2306.9 1270.7)"/><rect x="2308.4" y="1287.0" width="16" height="8.5" fill="url(#gNcad)" stroke="#222" stroke-width="1.5" transform="rotate(80 2316.4 1291.3)"/><rect x="2288.5" y="1309.2" width="16" height="8.5" fill="url(#gNcad)" stroke="#222" stroke-width="1.5" transform="rotate(0 2296.5 1313.5)"/><rect x="2271.0" y="1323.5" width="16" height="8.5" fill="url(#gNcad)" stroke="#222" stroke-width="1.5" transform="rotate(0 2279.0 1327.7)"/><line x1="2130.2" y1="1197.2" x2="2110.9" y2="1204.4" stroke="#000" stroke-width="3.8"/><path d="M0,0 L-16.5,-8.25 L-16.5,8.25 Z" fill="#000" transform="translate(2098.5 1209.0) rotate(159.7)"/><line x1="2427.9" y1="1271.3" x2="2440.7" y2="1288.6" stroke="#000" stroke-width="3.8"/><path d="M0,0 L-16.5,-8.25 L-16.5,8.25 Z" fill="#000" transform="translate(2448.5 1299.2) rotate(53.5)"/><line x1="2182.4" y1="1410.1" x2="2170.0" y2="1426.0" stroke="#000" stroke-width="3.8"/><path d="M0,0 L-16.5,-8.25 L-16.5,8.25 Z" fill="#000" transform="translate(2161.9 1436.4) rotate(128.1)"/><line x1="2325.3" y1="1429.1" x2="2325.3" y2="1448.2" stroke="#000" stroke-width="3.8"/><path d="M0,0 L-16.5,-8.25 L-16.5,8.25 Z" fill="#000" transform="translate(2325.3 1461.4) rotate(90.0)"/>
<rect x="2080.0" y="1527.3" width="725.1999999999999" height="422.40000000000003" fill="url(#gBox)" stroke="#fff" stroke-width="4.2"/>
<text x="2094.7" y="1566.4" font-size="23.0" fill="#111" font-weight="700">Co-attraction (or mutual cell attraction)</text>
<use href="#ic_f" x="2530.8" y="1551.8" width="70.3" height="54.8"/><text font-size="23.5" fill="#111"><tspan x="2530.8" y="1639.2">NC cells attract each</tspan><tspan x="2530.8" y="1667.39">other by co-expressing</tspan><tspan x="2530.8" y="1695.58">an attractant (C3a) and</tspan><tspan x="2530.8" y="1723.77">its receptor (C3aR).</tspan><tspan x="2530.8" y="1751.96">This paracrine</tspan><tspan x="2530.8" y="1780.15">chemotaxis helps to</tspan><tspan x="2530.8" y="1808.34">maintain a cluster</tspan><tspan x="2530.8" y="1836.53">configuration during</tspan><tspan x="2530.8" y="1864.72">collective migration.</tspan></text>
<rect x="2531" y="1886.4" width="258" height="48" fill="#fff" stroke="#4aafc8" stroke-width="2.1"/><text x="2539.7" y="1912.9" font-size="23.2" fill="#111" font-weight="700">Key</text>
<path d="M-11,-14 L11,-11.55 L-11,-7 L11,-4.55 L-11,0 L11,2.45 L-11,7 L11,9.45 L-11,14 " fill="none" stroke="#111" stroke-width="1.7" stroke-linejoin="round" transform="translate(2605 1911) rotate(0)"/><text x="2623.6" y="1918.6" font-size="23.5" fill="#111">C3aR</text>
<text x="2732" y="1918.6" font-size="23.5" fill="#111">C3a</text>
<circle cx="2714.5" cy="1904.3" r="4.3" fill="#9ed292" stroke="#111" stroke-width="1.5"/><circle cx="2706.6" cy="1917.9" r="4.3" fill="#9ed292" stroke="#111" stroke-width="1.5"/><circle cx="2721.8" cy="1917.9" r="4.3" fill="#9ed292" stroke="#111" stroke-width="1.5"/><g fill="#a6d69a" stroke="#111" stroke-width="1.5"><circle cx="2159.6" cy="1599.6" r="4.1"/><circle cx="2179.9" cy="1602.8" r="4.1"/><circle cx="2198.9" cy="1607.2" r="4.1"/><circle cx="2211.6" cy="1602.8" r="4.1"/><circle cx="2211.6" cy="1615.2" r="4.1"/><circle cx="2153.9" cy="1619.3" r="4.1"/><circle cx="2122.3" cy="1623.4" r="4.1"/><circle cx="2188.8" cy="1624.0" r="4.1"/><circle cx="2179.9" cy="1631.3" r="4.1"/><circle cx="2143.5" cy="1638.3" r="4.1"/><circle cx="2167.2" cy="1635.7" r="4.1"/><circle cx="2179.9" cy="1643.7" r="4.1"/><circle cx="2118.1" cy="1659.8" r="4.1"/><circle cx="2148.2" cy="1655.7" r="4.1"/><circle cx="2148.2" cy="1667.7" r="4.1"/><circle cx="2140.3" cy="1695.3" r="4.1"/><circle cx="2119.1" cy="1708.9" r="4.1"/><circle cx="2140.3" cy="1708.0" r="4.1"/><circle cx="2151.7" cy="1719.0" r="4.1"/><circle cx="2164.4" cy="1714.3" r="4.1"/><circle cx="2164.4" cy="1727.0" r="4.1"/><circle cx="2186.2" cy="1733.3" r="4.1"/><circle cx="2198.9" cy="1728.5" r="4.1"/><circle cx="2198.9" cy="1741.2" r="4.1"/><circle cx="2129.2" cy="1748.2" r="4.1"/><circle cx="2141.9" cy="1744.4" r="4.1"/><circle cx="2161.9" cy="1755.8" r="4.1"/><circle cx="2121.6" cy="1776.1" r="4.1"/><circle cx="2147.0" cy="1792.5" r="4.1"/><circle cx="2198.3" cy="1804.6" r="4.1"/><circle cx="2202.4" cy="1773.8" r="4.1"/><circle cx="2214.7" cy="1770.3" r="4.1"/><circle cx="2229.0" cy="1763.4" r="4.1"/><circle cx="2216.3" cy="1743.7" r="4.1"/><circle cx="2229.0" cy="1738.7" r="4.1"/><circle cx="2238.5" cy="1728.5" r="4.1"/><circle cx="2250.5" cy="1724.7" r="4.1"/><circle cx="2250.5" cy="1736.5" r="4.1"/><circle cx="2249.6" cy="1705.7" r="4.1"/><circle cx="2261.6" cy="1701.0" r="4.1"/><circle cx="2261.6" cy="1713.3" r="4.1"/><circle cx="2257.8" cy="1676.9" r="4.1"/><circle cx="2270.5" cy="1672.5" r="4.1"/><circle cx="2270.5" cy="1684.8" r="4.1"/><circle cx="2265.4" cy="1734.9" r="4.1"/><circle cx="2277.5" cy="1730.1" r="4.1"/><circle cx="2277.5" cy="1742.8" r="4.1"/><circle cx="2291.7" cy="1728.5" r="4.1"/><circle cx="2294.2" cy="1741.2" r="4.1"/><circle cx="2306.9" cy="1745.0" r="4.1"/><circle cx="2299.6" cy="1754.8" r="4.1"/><circle cx="2277.5" cy="1757.0" r="4.1"/><circle cx="2262.6" cy="1757.0" r="4.1"/><circle cx="2262.6" cy="1769.7" r="4.1"/><circle cx="2249.9" cy="1762.1" r="4.1"/><circle cx="2285.4" cy="1769.7" r="4.1"/><circle cx="2315.5" cy="1761.2" r="4.1"/><circle cx="2328.1" cy="1756.4" r="4.1"/><circle cx="2328.1" cy="1769.1" r="4.1"/><circle cx="2322.4" cy="1732.7" r="4.1"/><circle cx="2334.8" cy="1728.5" r="4.1"/><circle cx="2334.8" cy="1740.6" r="4.1"/><circle cx="2327.5" cy="1718.1" r="4.1"/><circle cx="2344.9" cy="1717.5" r="4.1"/><circle cx="2357.6" cy="1712.7" r="4.1"/><circle cx="2357.6" cy="1725.4" r="4.1"/><circle cx="2314.8" cy="1709.5" r="4.1"/><circle cx="2327.5" cy="1705.7" r="4.1"/><circle cx="2348.7" cy="1616.1" r="4.1"/><circle cx="2360.8" cy="1612.0" r="4.1"/><circle cx="2360.8" cy="1624.0" r="4.1"/><circle cx="2399.4" cy="1617.1" r="4.1"/><circle cx="2384.5" cy="1633.5" r="4.1"/><circle cx="2369.3" cy="1646.8" r="4.1"/><circle cx="2397.8" cy="1653.5" r="4.1"/><circle cx="2360.4" cy="1662.7" r="4.1"/><circle cx="2373.1" cy="1669.9" r="4.1"/><circle cx="2396.2" cy="1676.9" r="4.1"/><circle cx="2383.6" cy="1681.0" r="4.1"/><circle cx="2396.2" cy="1689.0" r="4.1"/><circle cx="2384.5" cy="1693.1" r="4.1"/><circle cx="2373.1" cy="1697.5" r="4.1"/><circle cx="2385.1" cy="1705.4" r="4.1"/><circle cx="2377.2" cy="1724.4" r="4.1"/><circle cx="2389.3" cy="1729.2" r="4.1"/><circle cx="2382.0" cy="1738.0" r="4.1"/><circle cx="2228.4" cy="1796.0" r="4.1"/><circle cx="2263.2" cy="1800.4" r="4.1"/><circle cx="2290.1" cy="1793.5" r="4.1"/><circle cx="2293.3" cy="1822.9" r="4.1"/><circle cx="2261.0" cy="1853.6" r="4.1"/><circle cx="2248.3" cy="1883.1" r="4.1"/><circle cx="2282.8" cy="1897.4" r="4.1"/></g><circle cx="2168.2" cy="1863.1" r="45" fill="#c3ccd3" stroke="#111" stroke-width="1.8"/><line x1="2170.5" y1="1893.7" x2="2165.6" y2="1894.5" stroke="#3cbcf0" stroke-width="1.3"/><line x1="2146.6" y1="1886.2" x2="2142.7" y2="1883.1" stroke="#ee7a6a" stroke-width="1.3"/><line x1="2151.9" y1="1846.8" x2="2155.2" y2="1843.0" stroke="#3cbcf0" stroke-width="1.3"/><line x1="2203.5" y1="1866.0" x2="2203.4" y2="1871.0" stroke="#ee7a6a" stroke-width="1.3"/><line x1="2166.7" y1="1888.8" x2="2161.7" y2="1888.9" stroke="#3cbcf0" stroke-width="1.3"/><line x1="2197.7" y1="1862.2" x2="2198.2" y2="1867.2" stroke="#ee7a6a" stroke-width="1.3"/><line x1="2183.4" y1="1837.7" x2="2187.9" y2="1840.0" stroke="#3cbcf0" stroke-width="1.3"/><line x1="2152.5" y1="1844.4" x2="2156.1" y2="1840.9" stroke="#ee7a6a" stroke-width="1.3"/><line x1="2144.4" y1="1836.2" x2="2147.9" y2="1832.7" stroke="#3cbcf0" stroke-width="1.3"/><line x1="2134.7" y1="1858.2" x2="2135.1" y2="1853.3" stroke="#ee7a6a" stroke-width="1.3"/><line x1="2157.2" y1="1842.8" x2="2161.5" y2="1840.2" stroke="#3cbcf0" stroke-width="1.3"/><line x1="2169.8" y1="1831.7" x2="2174.7" y2="1831.6" stroke="#ee7a6a" stroke-width="1.3"/><line x1="2161.1" y1="1884.4" x2="2156.3" y2="1883.2" stroke="#3cbcf0" stroke-width="1.3"/><line x1="2187.8" y1="1840.9" x2="2191.7" y2="1844.0" stroke="#ee7a6a" stroke-width="1.3"/><line x1="2161.1" y1="1827.7" x2="2165.9" y2="1826.4" stroke="#3cbcf0" stroke-width="1.3"/><line x1="2159.9" y1="1827.3" x2="2164.7" y2="1825.8" stroke="#ee7a6a" stroke-width="1.3"/><line x1="2140.7" y1="1884.5" x2="2137.4" y2="1880.8" stroke="#3cbcf0" stroke-width="1.3"/><line x1="2133.5" y1="1875.8" x2="2131.4" y2="1871.2" stroke="#ee7a6a" stroke-width="1.3"/><line x1="2185.2" y1="1846.8" x2="2188.9" y2="1850.2" stroke="#3cbcf0" stroke-width="1.3"/><line x1="2184.9" y1="1882.3" x2="2181.4" y2="1885.8" stroke="#ee7a6a" stroke-width="1.3"/><line x1="2196.5" y1="1856.8" x2="2197.9" y2="1861.6" stroke="#3cbcf0" stroke-width="1.3"/><line x1="2149.4" y1="1844.0" x2="2152.7" y2="1840.2" stroke="#ee7a6a" stroke-width="1.3"/><circle cx="2168.2" cy="1863.1" r="14.5" fill="url(#gNuc)" stroke="#111" stroke-width="1.8"/><g transform="translate(2264.8 1608.2) rotate(34.3) scale(1.05 0.93)"><path d="M0,0 C22,2 36,40 40,80 L42,125 C42,141 32,141 30,125 C28,108 21,106 19,120 C17,139 9,139 7,122 C5,106 -3,106 -5,122 C-7,141 -15,141 -17,124 C-19,108 -27,106 -29,122 C-31,141 -42,141 -42,125 L-40,80 C-36,40 -22,2 0,0 Z" fill="url(#gBul)" stroke="#111" stroke-width="1.8" vector-effect="non-scaling-stroke"/><path d="M4,6 C20,14 30,40 33,62" fill="none" stroke="#d8232f" stroke-width="1.6"/></g><g transform="translate(2291.7 1593) rotate(-14.5) scale(0.95 0.93)"><path d="M0,0 C22,2 36,40 40,80 L42,125 C42,141 32,141 30,125 C28,108 21,106 19,120 C17,139 9,139 7,122 C5,106 -3,106 -5,122 C-7,141 -15,141 -17,124 C-19,108 -27,106 -29,122 C-31,141 -42,141 -42,125 L-40,80 C-36,40 -22,2 0,0 Z" fill="url(#gBul)" stroke="#111" stroke-width="1.8" vector-effect="non-scaling-stroke"/><path d="M4,6 C20,14 30,40 33,62" fill="none" stroke="#d8232f" stroke-width="1.6"/></g><g transform="translate(2374.1 1917) rotate(174) scale(0.95 0.92)"><path d="M0,0 C22,2 36,40 40,80 L42,125 C42,141 32,141 30,125 C28,108 21,106 19,120 C17,139 9,139 7,122 C5,106 -3,106 -5,122 C-7,141 -15,141 -17,124 C-19,108 -27,106 -29,122 C-31,141 -42,141 -42,125 L-40,80 C-36,40 -22,2 0,0 Z" fill="url(#gBul)" stroke="#111" stroke-width="1.8" vector-effect="non-scaling-stroke"/></g><circle cx="2223.0" cy="1659.8" r="14.5" fill="url(#gNuc)" stroke="#111" stroke-width="1.8"/><circle cx="2310.7" cy="1654.1" r="14.5" fill="url(#gNuc)" stroke="#111" stroke-width="1.8"/><circle cx="2368.7" cy="1854.6" r="14.5" fill="url(#gNuc)" stroke="#111" stroke-width="1.8"/><rect x="2256.2" y="1607.5" width="19" height="9" fill="url(#gNcad)" stroke="#222" stroke-width="1.5" transform="rotate(-25 2265.7 1612.0)"/><rect x="2273.3" y="1622.7" width="19" height="9" fill="url(#gNcad)" stroke="#222" stroke-width="1.5" transform="rotate(0 2282.8 1627.2)"/><rect x="2188.8" y="1817.5" width="19" height="9" fill="url(#gNcad)" stroke="#222" stroke-width="1.5" transform="rotate(-60 2198.3 1822.0)"/><rect x="2115.0" y="1873.9" width="19" height="9" fill="url(#gNcad)" stroke="#222" stroke-width="1.5" transform="rotate(-20 2124.5 1878.4)"/><rect x="2322.7" y="1844.4" width="19" height="9" fill="url(#gNcad)" stroke="#222" stroke-width="1.5" transform="rotate(-15 2332.2 1848.9)"/><rect x="2386.7" y="1888.7" width="19" height="9" fill="url(#gNcad)" stroke="#222" stroke-width="1.5" transform="rotate(30 2396.2 1893.2)"/><path d="M-10,-11 L10,-9.075 L-10,-5.5 L10,-3.575 L-10,0 L10,1.925 L-10,5.5 L10,7.425 L-10,11 " fill="none" stroke="#111" stroke-width="1.7" stroke-linejoin="round" transform="translate(2170.7 1667.7) rotate(-35)"/><path d="M-10,-11 L10,-9.075 L-10,-5.5 L10,-3.575 L-10,0 L10,1.925 L-10,5.5 L10,7.425 L-10,11 " fill="none" stroke="#111" stroke-width="1.7" stroke-linejoin="round" transform="translate(2231.5 1714.3) rotate(-40)"/><path d="M-10,-11 L10,-9.075 L-10,-5.5 L10,-3.575 L-10,0 L10,1.925 L-10,5.5 L10,7.425 L-10,11 " fill="none" stroke="#111" stroke-width="1.7" stroke-linejoin="round" transform="translate(2285.4 1706.4) rotate(5)"/><path d="M-10,-11 L10,-9.075 L-10,-5.5 L10,-3.575 L-10,0 L10,1.925 L-10,5.5 L10,7.425 L-10,11 " fill="none" stroke="#111" stroke-width="1.7" stroke-linejoin="round" transform="translate(2350.3 1674.7) rotate(-5)"/><path d="M-10,-11 L10,-9.075 L-10,-5.5 L10,-3.575 L-10,0 L10,1.925 L-10,5.5 L10,7.425 L-10,11 " fill="none" stroke="#111" stroke-width="1.7" stroke-linejoin="round" transform="translate(2135.9 1825.1) rotate(60)"/><path d="M-10,-11 L10,-9.075 L-10,-5.5 L10,-3.575 L-10,0 L10,1.925 L-10,5.5 L10,7.425 L-10,11 " fill="none" stroke="#111" stroke-width="1.7" stroke-linejoin="round" transform="translate(2218.2 1845.1) rotate(10)"/><path d="M-10,-11 L10,-9.075 L-10,-5.5 L10,-3.575 L-10,0 L10,1.925 L-10,5.5 L10,7.425 L-10,11 " fill="none" stroke="#111" stroke-width="1.7" stroke-linejoin="round" transform="translate(2156.1 1905.9) rotate(90)"/><path d="M-10,-11 L10,-9.075 L-10,-5.5 L10,-3.575 L-10,0 L10,1.925 L-10,5.5 L10,7.425 L-10,11 " fill="none" stroke="#111" stroke-width="1.7" stroke-linejoin="round" transform="translate(2325.0 1823.6) rotate(5)"/><path d="M-10,-11 L10,-9.075 L-10,-5.5 L10,-3.575 L-10,0 L10,1.925 L-10,5.5 L10,7.425 L-10,11 " fill="none" stroke="#111" stroke-width="1.7" stroke-linejoin="round" transform="translate(2400.3 1826.7) rotate(0)"/><path d="M-10,-11 L10,-9.075 L-10,-5.5 L10,-3.575 L-10,0 L10,1.925 L-10,5.5 L10,7.425 L-10,11 " fill="none" stroke="#111" stroke-width="1.7" stroke-linejoin="round" transform="translate(2345.6 1880.6) rotate(15)"/><path d="M2185.6,1714.3 C2171.4,1741.2 2165.0,1772.9 2167.6,1799.8" fill="none" stroke="#000" stroke-width="4"/><path d="M0,0 L-18.0,-9.0 L-18.0,9.0 Z" fill="#000" transform="translate(2167.2 1812.5) rotate(92)"/><line x1="2220.4" y1="1867.3" x2="2306.4" y2="1867.3" stroke="#000" stroke-width="4"/><path d="M0,0 L-18.0,-9.0 L-18.0,9.0 Z" fill="#000" transform="translate(2320.8 1867.3) rotate(0.0)"/><line x1="2358.9" y1="1788.7" x2="2348.1" y2="1741.0" stroke="#000" stroke-width="4"/><path d="M0,0 L-18.0,-9.0 L-18.0,9.0 Z" fill="#000" transform="translate(2344.9 1727.0) rotate(-102.7)"/>
<rect x="1743.8999999999999" y="2004.5" width="1060.2" height="572.0999999999999" fill="url(#gBox)" stroke="#fff" stroke-width="4.2"/>
<text x="1764.7" y="2033.3" font-size="23.5" fill="#111" font-weight="700">NC guidance</text>
<text font-size="23.5" fill="#111"><tspan x="1764.7" y="2067.2">Negative signals are located at the border of each NC stream. Positive signals are located along</tspan><tspan x="1764.7" y="2094.8">the NC pathways or within the target regions</tspan></text>
<rect x="1777.2" y="2123.5" width="177.9" height="425.5" fill="url(#gGuide)"/><rect x="1777.2" y="2123.5" width="15" height="425.5" fill="url(#gRedBar)"/><rect x="1940.1" y="2123.5" width="15" height="425.5" fill="url(#gRedBar)"/><line x1="1792.2" y1="2123.5" x2="1792.2" y2="2549" stroke="#111" stroke-width="1.8"/><line x1="1940.1" y1="2123.5" x2="1940.1" y2="2549" stroke="#111" stroke-width="1.8"/><path d="M1792.2,2138.9 h13 v-9 q2.2,-2 4.4,0 v24 q-2.2,2 -4.4,0 v-9 h-13 Z" fill="#c8203e" stroke="#111" stroke-width="1.5" stroke-linejoin="round"/><path d="M1940.1,2138.9 h-13 v-9 q-2.2,-2 -4.4,0 v24 q2.2,2 4.4,0 v-9 h13 Z" fill="#c8203e" stroke="#111" stroke-width="1.5" stroke-linejoin="round"/><path d="M1792.2,2222.1 h13 v-9 q2.2,-2 4.4,0 v24 q-2.2,2 -4.4,0 v-9 h-13 Z" fill="#c8203e" stroke="#111" stroke-width="1.5" stroke-linejoin="round"/><path d="M1940.1,2222.1 h-13 v-9 q-2.2,-2 -4.4,0 v24 q2.2,2 4.4,0 v-9 h13 Z" fill="#c8203e" stroke="#111" stroke-width="1.5" stroke-linejoin="round"/><path d="M1792.2,2301.9 h13 v-9 q2.2,-2 4.4,0 v24 q-2.2,2 -4.4,0 v-9 h-13 Z" fill="#c8203e" stroke="#111" stroke-width="1.5" stroke-linejoin="round"/><path d="M1940.1,2301.9 h-13 v-9 q-2.2,-2 -4.4,0 v24 q2.2,2 4.4,0 v-9 h13 Z" fill="#c8203e" stroke="#111" stroke-width="1.5" stroke-linejoin="round"/><path d="M1792.2,2390.6 h13 v-9 q2.2,-2 4.4,0 v24 q-2.2,2 -4.4,0 v-9 h-13 Z" fill="#c8203e" stroke="#111" stroke-width="1.5" stroke-linejoin="round"/><path d="M1940.1,2390.6 h-13 v-9 q-2.2,-2 -4.4,0 v24 q2.2,2 4.4,0 v-9 h13 Z" fill="#c8203e" stroke="#111" stroke-width="1.5" stroke-linejoin="round"/><path d="M1792.2,2480.3 h13 v-9 q2.2,-2 4.4,0 v24 q-2.2,2 -4.4,0 v-9 h-13 Z" fill="#c8203e" stroke="#111" stroke-width="1.5" stroke-linejoin="round"/><path d="M1940.1,2480.3 h-13 v-9 q-2.2,-2 -4.4,0 v24 q2.2,2 4.4,0 v-9 h13 Z" fill="#c8203e" stroke="#111" stroke-width="1.5" stroke-linejoin="round"/><path d="M1884.3,2128.5 C1886.8,2169.3 1904.3,2209.2 1915.2,2239.1 C1904.3,2241.6 1889.3,2249.1 1881.8,2250.0 C1874.4,2241.6 1864.4,2241.6 1858.4,2236.6 C1849.5,2236.6 1847.0,2226.6 1848.5,2219.2 C1854.4,2189.3 1871.9,2154.4 1884.3,2128.5 Z" fill="url(#gPC2)" stroke="#111" stroke-width="1.8" stroke-linejoin="round"/><circle cx="1876.9" cy="2206.7" r="14.5" fill="url(#gNuc)" stroke="#111" stroke-width="1.8"/><path d="M1876.9,2254.0 C1854.4,2274.0 1839.5,2298.9 1848.5,2328.8 C1859.4,2358.7 1889.3,2378.6 1895.3,2408.5 C1901.8,2443.4 1879.4,2468.3 1858.4,2490.7" fill="none" stroke="#000" stroke-width="3.6" stroke-dasharray="8 4.6"/><path d="M0,0 L-16.5,-8.25 L-16.5,8.25 Z" fill="#000" transform="translate(1849.5 2500.7) rotate(132)"/><text x="1985" y="2140.4" font-size="23.5" fill="#111" font-weight="700">Negative signals</text>
<line x1="1985" y1="2148.6" x2="2228.2" y2="2148.6" stroke="#111" stroke-width="1.8"/><text x="2274" y="2140.4" font-size="23.5" fill="#111" font-weight="700">Positive signals</text>
<line x1="2274" y1="2148.6" x2="2781.3" y2="2148.6" stroke="#111" stroke-width="1.8"/><text x="1985" y="2192.7" font-size="23.5" fill="#111" font-weight="700">Cephalic NC</text>
<text x="1985" y="2220.6" font-size="23.5" fill="#111">Sema3, Eph/ephrin</text>
<use href="#ic_f" x="1987.5" y="2232.6" width="68.99" height="54.3"/><use href="#ic_c" x="2058.87" y="2232.6" width="51.82" height="54.3"/><use href="#ic_m" x="2113.07" y="2232.6" width="64.72" height="54.3"/><use href="#ic_z" x="2180.18" y="2232.6" width="64.72" height="54.3"/>
<text x="1985" y="2315.3" font-size="23.5" fill="#111">Slit/Robo</text>
<use href="#ic_c" x="1987.5" y="2323.3" width="51.82" height="54.3"/>
<text x="1985" y="2425" font-size="23.5" fill="#111" font-weight="700">Trunk NC</text>
<text font-size="23.5" fill="#111"><tspan x="1985" y="2454.4">Sema3, ET3,</tspan><tspan x="1985" y="2482.3">Eph/ephrin, Slit/Robo.</tspan></text>
<use href="#ic_m" x="1987.5" y="2496.7" width="64.72" height="54.3"/><use href="#ic_c" x="2054.61" y="2496.7" width="51.82" height="54.3"/>
<text x="2579.5" y="2192.7" font-size="22.75" fill="#111" text-anchor="end">Sdf1 &gt; cephalic NC</text>
<use href="#ic_f" x="2589.4" y="2158.4" width="68.99" height="54.3"/><use href="#ic_z" x="2660.77" y="2158.4" width="64.72" height="54.3"/><use href="#ic_c" x="2727.88" y="2158.4" width="51.82" height="54.3"/>
<text x="2579.5" y="2250.8" font-size="22.75" fill="#111" text-anchor="end">Sdf1 / ET3 &gt; trunk melano</text>
<use href="#ic_m" x="2589.4" y="2216.3" width="64.72" height="54.3"/>
<use href="#ic_c" x="2676.6" y="2216.3" width="51.82" height="54.3"/>
<line x1="2662" y1="2262.3" x2="2669" y2="2224.3" stroke="#111" stroke-width="1.6"/><text x="2579.5" y="2309.0" font-size="22.75" fill="#111" text-anchor="end">Sdf1 &gt; trunk NC to DRG / SG</text>
<use href="#ic_m" x="2589.4" y="2274.2" width="64.72" height="54.3"/>
<use href="#ic_c" x="2676.6" y="2274.2" width="51.82" height="54.3"/>
<line x1="2662" y1="2320.2" x2="2669" y2="2282.2" stroke="#111" stroke-width="1.6"/><text x="2579.5" y="2367.1" font-size="22.75" fill="#111" text-anchor="end">GDNF &gt; enteric NC</text>
<use href="#ic_m" x="2589.4" y="2332.1" width="64.72" height="54.3"/><use href="#ic_c" x="2656.51" y="2332.1" width="51.82" height="54.3"/>
<text x="2579.5" y="2425.3" font-size="22.75" fill="#111" text-anchor="end">VEGFA &gt; cephalic NC to BA2</text>
<use href="#ic_c" x="2589.4" y="2390.0" width="51.82" height="54.3"/>
<text x="2579.5" y="2483.4" font-size="22.75" fill="#111" text-anchor="end">FGF2 and 8 &gt; cephalic NC</text>
<use href="#ic_m" x="2589.4" y="2447.9" width="64.72" height="54.3"/>
<text x="2579.5" y="2541.6" font-size="22.75" fill="#111" text-anchor="end">FGF8, Sema3C &gt; cardiac NC</text>
<use href="#ic_c" x="2589.4" y="2505.8" width="51.82" height="54.3"/>
</svg>
<!-- cancer -->
<svg class="L" viewBox="0 0 4411 2921" width="4411" height="2921" >
<defs>
<radialGradient id="gYC" cx="0.5" cy="0.45" r="0.7"><stop offset="0" stop-color="#fff8cf"/><stop offset="1" stop-color="#fbe57e"/></radialGradient>
<radialGradient id="gPC" cx="0.5" cy="0.5" r="0.7"><stop offset="0" stop-color="#cbb8e0"/><stop offset="1" stop-color="#9670b8"/></radialGradient>
<radialGradient id="gYN"><stop offset="0" stop-color="#fff08a"/><stop offset="1" stop-color="#ffd91a"/></radialGradient>
<linearGradient id="gECM" x1="0" x2="0" y1="0" y2="1"><stop offset="0" stop-color="#8dd7f8"/><stop offset="0.45" stop-color="#98d9f7"/><stop offset="1" stop-color="#d5e1ec" stop-opacity="0.5"/></linearGradient>
<linearGradient id="gECM2" x1="0" x2="0" y1="0" y2="1"><stop offset="0" stop-color="#8dd7f8"/><stop offset="0.5" stop-color="#9bdaf7"/><stop offset="1" stop-color="#cfe0ee"/></linearGradient>
<linearGradient id="gBV" x1="0" x2="0" y1="0" y2="1"><stop offset="0" stop-color="#cfe3f0"/><stop offset="0.08" stop-color="#8dd7f8"/><stop offset="0.92" stop-color="#8dd7f8"/><stop offset="1" stop-color="#cfe3f0"/></linearGradient>
<linearGradient id="gGC" x1="0" x2="0" y1="0" y2="1"><stop offset="0" stop-color="#8c9ea7"/><stop offset="0.5" stop-color="#c4cdd3"/><stop offset="1" stop-color="#dfe4e8"/></linearGradient>
<linearGradient id="gGCd" x1="0" x2="0" y1="0" y2="1"><stop offset="0" stop-color="#6f858f"/><stop offset="0.6" stop-color="#8d9fa8"/><stop offset="1" stop-color="#b0bcc3"/></linearGradient>
<linearGradient id="gGCl" x1="0" x2="0" y1="0" y2="1"><stop offset="0" stop-color="#eef1f3"/><stop offset="1" stop-color="#d3dadf"/></linearGradient>
<radialGradient id="gGN" cx="0.55" cy="0.5"><stop offset="0" stop-color="#b5c1c8"/><stop offset="1" stop-color="#6f858f"/></radialGradient>
<radialGradient id="gGNl" cx="0.5" cy="0.5"><stop offset="0" stop-color="#dde2e6"/><stop offset="1" stop-color="#b3bfc6"/></radialGradient>
<radialGradient id="gInv" cx="0.5" cy="0.6" r="0.7"><stop offset="0" stop-color="#a3b1b9"/><stop offset="1" stop-color="#768b95"/></radialGradient>
<linearGradient id="gArr" x1="0" x2="1"><stop offset="0" stop-color="#82949e"/><stop offset="0.14" stop-color="#a39896"/><stop offset="0.32" stop-color="#ec7d6b"/><stop offset="0.48" stop-color="#f3946a"/><stop offset="0.62" stop-color="#fbb161"/><stop offset="0.75" stop-color="#c8b98f"/><stop offset="0.9" stop-color="#4fc2ee"/><stop offset="1" stop-color="#3fc1f0"/></linearGradient>
<radialGradient id="gFG" cx="0.5" cy="0.5" r="0.75"><stop offset="0" stop-color="#b3bec5"/><stop offset="1" stop-color="#7c909a"/></radialGradient>
<radialGradient id="gFR" cx="0.6" cy="0.4" r="0.75"><stop offset="0" stop-color="#fbd5bf"/><stop offset="1" stop-color="#ed7667"/></radialGradient>
<radialGradient id="gFO" cx="0.5" cy="0.4" r="0.75"><stop offset="0" stop-color="#fedcae"/><stop offset="1" stop-color="#fbaf5d"/></radialGradient>
<radialGradient id="gFB" cx="0.5" cy="0.5" r="0.75"><stop offset="0" stop-color="#a5e0f8"/><stop offset="1" stop-color="#38bdf0"/></radialGradient>
<radialGradient id="gRBC"><stop offset="0" stop-color="#f0736a"/><stop offset="1" stop-color="#e23a42"/></radialGradient>
<linearGradient id="gWall" x1="0" x2="0" y1="0" y2="1"><stop offset="0" stop-color="#f3a898"/><stop offset="0.5" stop-color="#f8c5b8"/><stop offset="1" stop-color="#f3a898"/></linearGradient>
<radialGradient id="gNeu" cx="0.4" cy="0.5" r="0.7"><stop offset="0" stop-color="#a9da9a"/><stop offset="1" stop-color="#3fae49"/></radialGradient>
<linearGradient id="gMy" x1="0" x2="0" y1="0" y2="1"><stop offset="0" stop-color="#c9b6de"/><stop offset="1" stop-color="#a585c4"/></linearGradient>
<radialGradient id="gMig" cx="0.4" cy="0.5" r="0.7"><stop offset="0" stop-color="#d5c6e8"/><stop offset="1" stop-color="#a88bc9"/></radialGradient>
</defs>
<text font-size="22.74" fill="#111"><tspan x="2926.2" y="560.7">NC has been proven as a good system to understand cancer progression. Many of the key factors that promote cancer cell migration</tspan><tspan x="2926.2" y="589.3">have been initially studied in NC migration. It is likely that cancer cells hijacked the NC migratory program.</tspan></text>
<text x="2927" y="626.7" font-size="23.5" fill="#111" font-weight="700">NC</text>
<line x1="2925.8" y1="635.5" x2="4273.8" y2="635.5" stroke="#111" stroke-width="1.8"/><rect x="2925.8" y="761.4" width="415.3" height="108" fill="url(#gECM)"/><path d="M2954.1,772.6 C2970.8,798.4 3001.2,807.6 3019.5,822.8 C3031.6,838.0 3034.7,850.1 3040.7,860.8" fill="none" stroke="#fff" stroke-width="1.7" opacity="0.95"/><path d="M2955.6,860.8 C2964.7,838.0 2986.0,813.6 3007.3,798.4 C3019.5,789.3 3025.5,783.2 3028.0,777.2" fill="none" stroke="#fff" stroke-width="1.7" opacity="0.95"/><path d="M3087.9,774.1 C3116.8,792.4 3153.2,798.4 3174.5,819.7 C3186.7,831.9 3191.2,844.1 3192.8,854.7" fill="none" stroke="#fff" stroke-width="1.7" opacity="0.95"/><path d="M3098.5,860.8 C3116.8,838.0 3141.1,813.6 3153.2,789.3 C3157.8,780.2 3159.3,774.1 3159.9,769.6" fill="none" stroke="#fff" stroke-width="1.7" opacity="0.95"/><path d="M3227.7,783.2 C3244.5,786.3 3259.7,804.5 3268.8,819.7 C3277.9,834.9 3290.1,844.1 3302.2,845.0" fill="none" stroke="#fff" stroke-width="1.7" opacity="0.95"/><path d="M3233.8,856.2 C3238.4,828.9 3268.8,807.6 3287.0,792.4 C3296.1,783.2 3300.7,777.2 3302.8,770.5" fill="none" stroke="#fff" stroke-width="1.7" opacity="0.95"/><rect x="2925.8" y="752.6" width="415.3" height="9" fill="#b28c6e"/><g transform="rotate(0 2948.75 715.3)"><rect x="2922.8" y="675.3" width="51.9" height="80" rx="13.5" fill="url(#gYC)" stroke="#111" stroke-width="1.8"/><circle cx="2948.8" cy="714.1" r="13.6" fill="url(#gYN)" stroke="#111" stroke-width="1.8"/></g><g transform="rotate(0 3001.0499999999997 715.3)"><rect x="2975.1" y="675.3" width="51.9" height="80" rx="13.5" fill="url(#gYC)" stroke="#111" stroke-width="1.8"/><circle cx="3001.0" cy="714.1" r="13.6" fill="url(#gYN)" stroke="#111" stroke-width="1.8"/></g><g transform="rotate(0 3053.45 715.3)"><rect x="3027.5" y="675.3" width="51.9" height="80" rx="13.5" fill="url(#gYC)" stroke="#111" stroke-width="1.8"/><circle cx="3053.4" cy="714.1" r="13.6" fill="url(#gYN)" stroke="#111" stroke-width="1.8"/></g><g transform="rotate(0 3105.75 715.3)"><rect x="3079.8" y="675.3" width="51.9" height="80" rx="13.5" fill="url(#gPC)" stroke="#111" stroke-width="1.8"/><circle cx="3105.8" cy="714.1" r="13.6" fill="url(#gNuc)" stroke="#111" stroke-width="1.8"/></g><g transform="rotate(0 3158.0499999999997 715.3)"><rect x="3132.1" y="675.3" width="51.9" height="80" rx="13.5" fill="url(#gPC)" stroke="#111" stroke-width="1.8"/><circle cx="3158.0" cy="714.1" r="13.6" fill="url(#gNuc)" stroke="#111" stroke-width="1.8"/></g><g transform="rotate(0 3210.45 715.3)"><rect x="3184.5" y="675.3" width="51.9" height="80" rx="13.5" fill="url(#gYC)" stroke="#111" stroke-width="1.8"/><circle cx="3210.4" cy="714.1" r="13.6" fill="url(#gYN)" stroke="#111" stroke-width="1.8"/></g><g transform="rotate(0 3262.75 715.3)"><rect x="3236.8" y="675.3" width="51.9" height="80" rx="13.5" fill="url(#gYC)" stroke="#111" stroke-width="1.8"/><circle cx="3262.8" cy="714.1" r="13.6" fill="url(#gYN)" stroke="#111" stroke-width="1.8"/></g><g transform="rotate(0 3315.0499999999997 715.3)"><rect x="3289.1" y="675.3" width="51.9" height="80" rx="13.5" fill="url(#gYC)" stroke="#111" stroke-width="1.8"/><circle cx="3315.0" cy="714.1" r="13.6" fill="url(#gYN)" stroke="#111" stroke-width="1.8"/></g><rect x="2968.0" y="700.0" width="13.7" height="5.5" fill="url(#gNcad)" stroke="#222" stroke-width="1.3" transform="rotate(0 2974.8 702.7)"/><rect x="3019.7" y="694.5" width="13.7" height="5.5" fill="url(#gNcad)" stroke="#222" stroke-width="1.3" transform="rotate(0 3026.5 697.2)"/><rect x="3072.6" y="703.0" width="13.7" height="5.5" fill="url(#gNcad)" stroke="#222" stroke-width="1.3" transform="rotate(0 3079.4 705.7)"/><rect x="3124.2" y="696.5" width="13.7" height="5.5" fill="url(#gNcad)" stroke="#222" stroke-width="1.3" transform="rotate(0 3131.0 699.3)"/><rect x="3176.2" y="714.5" width="13.7" height="5.5" fill="url(#gNcad)" stroke="#222" stroke-width="1.3" transform="rotate(0 3183.0 717.3)"/><rect x="3229.1" y="697.5" width="13.7" height="5.5" fill="url(#gNcad)" stroke="#222" stroke-width="1.3" transform="rotate(0 3235.9 700.2)"/><rect x="3281.1" y="701.5" width="13.7" height="5.5" fill="url(#gNcad)" stroke="#222" stroke-width="1.3" transform="rotate(0 3287.9 704.2)"/><line x1="3348.4" y1="811.2" x2="3417.3" y2="811.2" stroke="#000" stroke-width="3.6"/><path d="M0,0 L-16.5,-8.25 L-16.5,8.25 Z" fill="#000" transform="translate(3430.5 811.2) rotate(0)"/><rect x="3437.1" y="761.6" width="417.3" height="107" fill="url(#gECM)"/><path d="M3465.6,789.0 C3488.4,780.6 3507.4,799.6 3518.8,822.4 C3530.2,845.2 3560.6,860.4 3587.2,845.2" fill="none" stroke="#fff" stroke-width="1.7" opacity="0.95"/><path d="M3477.0,843.3 C3515.0,852.8 3545.4,818.6 3572.0,799.6 C3591.0,788.2 3610.0,784.4 3621.4,783.7" fill="none" stroke="#fff" stroke-width="1.7" opacity="0.95"/><path d="M3674.6,786.3 C3701.3,788.2 3712.7,811.0 3720.3,830.0 C3727.9,852.8 3743.1,862.3 3760.2,863.5" fill="none" stroke="#fff" stroke-width="1.7" opacity="0.95"/><path d="M3680.3,862.3 C3682.2,837.6 3708.9,818.6 3724.1,803.4 C3735.5,792.0 3739.3,784.4 3740.4,774.9" fill="none" stroke="#fff" stroke-width="1.7" opacity="0.95"/><path d="M3437.1,757.1 L3572.0,757.1 C3587.2,758.6 3594.8,769.2 3600.5,777.6" fill="none" stroke="#b28c6e" stroke-width="9"/><path d="M3640.4,784.4 C3644.2,769.2 3651.8,754.0 3667.0,751.0 C3686.0,752.1 3693.6,757.1 3708.9,757.1 L3854.4,757.1" fill="none" stroke="#b28c6e" stroke-width="9"/><g transform="rotate(0 3465.75 714.9)"><rect x="3439.8" y="675" width="51.9" height="79.8" rx="13.5" fill="url(#gYC)" stroke="#111" stroke-width="1.8"/><circle cx="3465.8" cy="713.7" r="13.6" fill="url(#gYN)" stroke="#111" stroke-width="1.8"/></g><g transform="rotate(0 3518.1499999999996 714.9)"><rect x="3492.2" y="675" width="51.9" height="79.8" rx="13.5" fill="url(#gYC)" stroke="#111" stroke-width="1.8"/><circle cx="3518.1" cy="713.7" r="13.6" fill="url(#gYN)" stroke="#111" stroke-width="1.8"/></g><g transform="rotate(0 3570.6499999999996 714.9)"><rect x="3544.7" y="675" width="51.9" height="79.8" rx="13.5" fill="url(#gYC)" stroke="#111" stroke-width="1.8"/><circle cx="3570.6" cy="713.7" r="13.6" fill="url(#gYN)" stroke="#111" stroke-width="1.8"/></g><g transform="rotate(0 3729.1499999999996 714.9)"><rect x="3703.2" y="675" width="51.9" height="79.8" rx="13.5" fill="url(#gYC)" stroke="#111" stroke-width="1.8"/><circle cx="3729.1" cy="713.7" r="13.6" fill="url(#gYN)" stroke="#111" stroke-width="1.8"/></g><g transform="rotate(0 3781.45 714.9)"><rect x="3755.5" y="675" width="51.9" height="79.8" rx="13.5" fill="url(#gYC)" stroke="#111" stroke-width="1.8"/><circle cx="3781.4" cy="713.7" r="13.6" fill="url(#gYN)" stroke="#111" stroke-width="1.8"/></g><g transform="rotate(0 3833.75 714.9)"><rect x="3807.8" y="675" width="51.9" height="79.8" rx="13.5" fill="url(#gYC)" stroke="#111" stroke-width="1.8"/><circle cx="3833.8" cy="713.7" r="13.6" fill="url(#gYN)" stroke="#111" stroke-width="1.8"/></g><g transform="rotate(4 3623.25 723.6)"><rect x="3597" y="683.7" width="52.5" height="79.8" rx="13.5" fill="url(#gPC)" stroke="#111" stroke-width="1.8"/><circle cx="3623.2" cy="722.4" r="13.6" fill="url(#gNuc)" stroke="#111" stroke-width="1.8"/></g><g transform="rotate(5 3677.75 706.0999999999999)"><rect x="3651.5" y="665.8" width="52.5" height="80.6" rx="13.5" fill="url(#gPC)" stroke="#111" stroke-width="1.8"/><circle cx="3677.8" cy="704.9" r="13.6" fill="url(#gNuc)" stroke="#111" stroke-width="1.8"/></g><rect x="3486.6" y="699.2" width="13.7" height="5.5" fill="url(#gNcad)" stroke="#222" stroke-width="1.3" transform="rotate(0 3493.4 702.0)"/><rect x="3538.6" y="694.2" width="13.7" height="5.5" fill="url(#gNcad)" stroke="#222" stroke-width="1.3" transform="rotate(0 3545.4 697.0)"/><rect x="3591.1" y="702.6" width="13.7" height="5.5" fill="url(#gNcad)" stroke="#222" stroke-width="1.3" transform="rotate(0 3597.9 705.4)"/><rect x="3643.1" y="700.0" width="13.7" height="5.5" fill="url(#gNcad)" stroke="#222" stroke-width="1.3" transform="rotate(5 3649.9 702.7)"/><rect x="3695.2" y="691.2" width="13.7" height="5.5" fill="url(#gNcad)" stroke="#222" stroke-width="1.3" transform="rotate(12 3702.0 694.0)"/><rect x="3749.2" y="699.2" width="13.7" height="5.5" fill="url(#gNcad)" stroke="#222" stroke-width="1.3" transform="rotate(0 3756.0 702.0)"/><rect x="3800.8" y="694.2" width="13.7" height="5.5" fill="url(#gNcad)" stroke="#222" stroke-width="1.3" transform="rotate(0 3807.7 697.0)"/><rect x="3640.1" y="728.5" width="13.7" height="5.5" fill="url(#gT2)" stroke="#222" stroke-width="1.3" transform="rotate(30 3646.9 731.2)"/><rect x="3676.2" y="748.2" width="13.7" height="5.5" fill="url(#gT2)" stroke="#222" stroke-width="1.3" transform="rotate(80 3683.0 751.0)"/><rect x="3604.3" y="762.6" width="13.7" height="5.5" fill="url(#gT2)" stroke="#222" stroke-width="1.3" transform="rotate(80 3611.2 765.4)"/><text x="3952.9" y="665.8" font-size="23.4" fill="#111">Basement membranes</text>
<clipPath id="cRT"><rect x="3950" y="660" width="343.4" height="200"/></clipPath><g clip-path="url(#cRT)"><rect x="3955.1" y="761.6" width="338.3" height="80" fill="url(#gECM)"/><rect x="3955.1" y="752.9" width="338.3" height="8.7" fill="#b28c6e"/><path d="M3955.1,684 C3957.2,674.8 3958.2,674.8 3960.3,684.0 C3962.4,687.8 3963.5,687.8 3965.5,683.0 C3967.6,674.8 3968.7,674.8 3970.8,684.0 C3972.8,687.8 3973.9,687.8 3976.0,683.0 C3978.1,674.8 3979.1,674.8 3981.2,684.0 C3983.3,687.8 3984.3,687.8 3986.4,683.0 C3988.5,674.8 3989.6,674.8 3991.6,684.0 C3993.7,687.8 3994.8,687.8 3996.9,683.0 C3998.9,674.8 4000.0,674.8 4002.1,684.0 C4004.2,687.8 4005.2,687.8 4007.3,683.0 L4007.3,746 Q4007.3,756 3997.3,756 L3965.1,756 Q3955.1,756 3955.1,746 Z" fill="url(#gGCl)" stroke="#111" stroke-width="1.7" stroke-linejoin="round"/><circle cx="3981.3" cy="713.4" r="13.3" fill="url(#gGNl)" stroke="#111" stroke-width="1.8"/><path d="M4007.3,684 C4009.4,674.8 4010.4,674.8 4012.5,684.0 C4014.6,687.8 4015.7,687.8 4017.8,683.0 C4019.9,674.8 4020.9,674.8 4023.0,684.0 C4025.1,687.8 4026.1,687.8 4028.2,683.0 C4030.3,674.8 4031.4,674.8 4033.5,684.0 C4035.5,687.8 4036.6,687.8 4038.7,683.0 C4040.8,674.8 4041.8,674.8 4043.9,684.0 C4046.0,687.8 4047.0,687.8 4049.1,683.0 C4051.2,674.8 4052.3,674.8 4054.4,684.0 C4056.5,687.8 4057.5,687.8 4059.6,683.0 L4059.6,746 Q4059.6,756 4049.6,756 L4017.3,756 Q4007.3,756 4007.3,746 Z" fill="url(#gGCl)" stroke="#111" stroke-width="1.7" stroke-linejoin="round"/><circle cx="4033.5" cy="713.4" r="13.3" fill="url(#gGNl)" stroke="#111" stroke-width="1.8"/><path d="M4059.6,684 C4061.7,674.8 4062.7,674.8 4064.8,684.0 C4066.9,687.8 4068.0,687.8 4070.1,683.0 C4072.2,674.8 4073.2,674.8 4075.3,684.0 C4077.4,687.8 4078.4,687.8 4080.5,683.0 C4082.6,674.8 4083.7,674.8 4085.8,684.0 C4087.8,687.8 4088.9,687.8 4091.0,683.0 C4093.1,674.8 4094.1,674.8 4096.2,684.0 C4098.3,687.8 4099.3,687.8 4101.4,683.0 C4103.5,674.8 4104.6,674.8 4106.7,684.0 C4108.8,687.8 4109.8,687.8 4111.9,683.0 L4111.9,746 Q4111.9,756 4101.9,756 L4069.6,756 Q4059.6,756 4059.6,746 Z" fill="url(#gGCl)" stroke="#111" stroke-width="1.7" stroke-linejoin="round"/><circle cx="4085.8" cy="713.4" r="13.3" fill="url(#gGNl)" stroke="#111" stroke-width="1.8"/><path d="M4111.9,684 C4114.0,674.8 4115.0,674.8 4117.1,684.0 C4119.2,687.8 4120.3,687.8 4122.3,683.0 C4124.4,674.8 4125.5,674.8 4127.6,684.0 C4129.6,687.8 4130.7,687.8 4132.8,683.0 C4134.9,674.8 4135.9,674.8 4138.0,684.0 C4140.1,687.8 4141.1,687.8 4143.2,683.0 C4145.3,674.8 4146.4,674.8 4148.4,684.0 C4150.5,687.8 4151.6,687.8 4153.7,683.0 C4155.7,674.8 4156.8,674.8 4158.9,684.0 C4161.0,687.8 4162.0,687.8 4164.1,683.0 L4164.1,746 Q4164.1,756 4154.1,756 L4121.9,756 Q4111.9,756 4111.9,746 Z" fill="url(#gGCl)" stroke="#111" stroke-width="1.7" stroke-linejoin="round"/><circle cx="4138.1" cy="713.4" r="13.3" fill="url(#gGNl)" stroke="#111" stroke-width="1.8"/><path d="M4164.1,684 C4166.2,674.8 4167.2,674.8 4169.3,684.0 C4171.4,687.8 4172.5,687.8 4174.6,683.0 C4176.7,674.8 4177.7,674.8 4179.8,684.0 C4181.9,687.8 4182.9,687.8 4185.0,683.0 C4187.1,674.8 4188.2,674.8 4190.2,684.0 C4192.3,687.8 4193.4,687.8 4195.5,683.0 C4197.6,674.8 4198.6,674.8 4200.7,684.0 C4202.8,687.8 4203.8,687.8 4205.9,683.0 C4208.0,674.8 4209.1,674.8 4211.2,684.0 C4213.3,687.8 4214.3,687.8 4216.4,683.0 L4216.4,746 Q4216.4,756 4206.4,756 L4174.1,756 Q4164.1,756 4164.1,746 Z" fill="url(#gGCl)" stroke="#111" stroke-width="1.7" stroke-linejoin="round"/><circle cx="4190.3" cy="713.4" r="13.3" fill="url(#gGNl)" stroke="#111" stroke-width="1.8"/><path d="M4216.4,684 C4218.5,674.8 4219.5,674.8 4221.6,684.0 C4223.7,687.8 4224.8,687.8 4226.8,683.0 C4228.9,674.8 4230.0,674.8 4232.1,684.0 C4234.1,687.8 4235.2,687.8 4237.3,683.0 C4239.4,674.8 4240.4,674.8 4242.5,684.0 C4244.6,687.8 4245.6,687.8 4247.7,683.0 C4249.8,674.8 4250.9,674.8 4252.9,684.0 C4255.0,687.8 4256.1,687.8 4258.2,683.0 C4260.2,674.8 4261.3,674.8 4263.4,684.0 C4265.5,687.8 4266.5,687.8 4268.6,683.0 L4268.6,746 Q4268.6,756 4258.6,756 L4226.4,756 Q4216.4,756 4216.4,746 Z" fill="url(#gGCl)" stroke="#111" stroke-width="1.7" stroke-linejoin="round"/><circle cx="4242.6" cy="713.4" r="13.3" fill="url(#gGNl)" stroke="#111" stroke-width="1.8"/><path d="M4268.6,684 C4270.7,674.8 4271.7,674.8 4273.8,684.0 C4275.9,687.8 4277.0,687.8 4279.1,683.0 C4281.2,674.8 4282.2,674.8 4284.3,684.0 C4286.4,687.8 4287.4,687.8 4289.5,683.0 C4291.6,674.8 4292.7,674.8 4294.8,684.0 C4296.8,687.8 4297.9,687.8 4300.0,683.0 C4302.1,674.8 4303.1,674.8 4305.2,684.0 C4307.3,687.8 4308.3,687.8 4310.4,683.0 C4312.5,674.8 4313.6,674.8 4315.7,684.0 C4317.8,687.8 4318.8,687.8 4320.9,683.0 L4320.9,746 Q4320.9,756 4310.9,756 L4278.6,756 Q4268.6,756 4268.6,746 Z" fill="url(#gGCl)" stroke="#111" stroke-width="1.7" stroke-linejoin="round"/><circle cx="4294.8" cy="713.4" r="13.3" fill="url(#gGNl)" stroke="#111" stroke-width="1.8"/></g><path d="M3997.7,792.0 C3997.7,776.8 4016.7,771.1 4035.7,773.0 C4058.5,774.9 4073.7,780.6 4081.3,786.3 C4075.6,790.1 4066.1,789.0 4062.3,792.0 C4066.1,795.8 4075.6,795.8 4080.6,801.5 C4073.7,804.2 4066.1,802.7 4062.3,806.5 C4066.1,811.0 4073.7,811.8 4077.5,816.7 C4070.7,818.6 4064.2,816.7 4060.4,818.6 C4064.2,821.7 4071.8,822.4 4074.5,826.2 C4058.5,828.1 4035.7,826.2 4018.6,818.6 C4005.3,811.0 3997.7,803.4 3997.7,792.0 Z" fill="url(#gMig)" stroke="#111" stroke-width="1.7" stroke-linejoin="round"/><circle cx="4035.7" cy="795.1" r="12.5" fill="url(#gNuc)" stroke="#111" stroke-width="1.7"/><rect x="4009.6" y="770.2" width="12" height="5.5" fill="url(#gT2)" stroke="#222" stroke-width="1.3" transform="rotate(80 4015.6 773.0)"/><rect x="4048.7" y="773.4" width="12" height="5.5" fill="url(#gNcad)" stroke="#222" stroke-width="1.3" transform="rotate(80 4054.7 776.1)"/><rect x="4036.2" y="820.5" width="12" height="5.5" fill="url(#gT2)" stroke="#222" stroke-width="1.3" transform="rotate(-65 4042.2 823.2)"/><line x1="4092.7" y1="792" x2="4267.7" y2="792" stroke="#000" stroke-width="3.6"/><path d="M0,0 L-16.5,-8.25 L-16.5,8.25 Z" fill="#000" transform="translate(4280.9 792) rotate(0)"/><rect x="3955.1" y="850.9" width="338.3" height="202" fill="url(#gECM2)"/><path d="M4045.2,982.1 C4028.1,963.1 4020.5,944.1 4018.6,928.9 C4016.7,917.5 4012.9,911.7 4007.2,907.9 M4019.7,932.7 C4012.9,928.9 4003.4,930.8 3993.9,927.0 M4045.2,982.1 C4050.9,959.3 4058.5,940.3 4060.4,925.1 C4062.3,913.6 4060.4,906.0 4058.5,900.3 M4060.4,927.0 C4068.0,923.2 4077.5,925.1 4087.0,927.0 M4061.6,919.4 C4069.9,915.6 4075.6,911.7 4079.4,906.0 M4045.2,982.1 C4020.5,974.5 4001.5,970.7 3990.1,966.9 C3982.5,963.1 3976.8,961.2 3973.0,961.2 M3990.1,966.9 C3984.4,974.5 3978.7,982.1 3976.8,989.7 M4045.2,982.1 C4020.5,997.3 4001.5,1004.9 3990.1,1006.8 C3978.7,1008.7 3969.2,1009.4 3961.6,1008.7 M3990.1,1006.8 C3984.4,1014.4 3980.6,1020.1 3978.7,1023.9 M4001.5,1004.9 C3999.6,1020.1 3993.9,1031.5 3989.3,1039.1 M4045.2,982.1 C4039.5,1004.9 4031.9,1020.1 4024.3,1027.7 C4016.7,1031.5 4011.0,1030.7 4007.2,1029.6 M4024.3,1027.7 C4028.1,1035.3 4027.4,1042.9 4025.1,1048.6 M4024.3,1028.4 C4033.8,1031.5 4038.8,1039.1 4040.3,1044.8 M4045.2,982.1 C4058.5,1004.9 4062.3,1020.1 4066.1,1031.5 C4068.0,1039.1 4069.9,1042.9 4071.8,1045.9 M4066.1,1031.5 C4073.7,1027.7 4079.4,1027.7 4085.1,1028.4 M4068.0,1037.2 C4074.5,1038.3 4079.4,1039.1 4082.1,1035.3" fill="none" stroke="#2d4a2a" stroke-width="5.4" stroke-linecap="round" stroke-linejoin="round"/><path d="M4024.3,970.7 C4031.9,963.1 4058.5,963.1 4066.1,972.6 C4088.9,980.2 4142.1,980.2 4199.1,979.4 C4225.7,978.3 4240.9,966.9 4252.4,960.0 C4244.8,970.7 4237.1,978.3 4233.3,984.0 C4248.6,982.1 4267.6,978.3 4285.8,979.0 C4271.4,984.0 4252.4,988.9 4246.7,993.5 C4250.5,999.2 4260.0,1005.6 4266.8,1011.7 C4252.4,1006.8 4237.1,997.3 4221.9,991.6 C4180.1,985.9 4123.1,984.0 4088.9,985.9 C4073.7,989.7 4062.3,1001.1 4047.1,1001.1 C4028.1,999.2 4018.6,982.1 4024.3,970.7 Z" fill="url(#gNeu)" stroke="#111" stroke-width="1.7" stroke-linejoin="round"/><path d="M4045.2,982.1 C4028.1,963.1 4020.5,944.1 4018.6,928.9 C4016.7,917.5 4012.9,911.7 4007.2,907.9 M4019.7,932.7 C4012.9,928.9 4003.4,930.8 3993.9,927.0 M4045.2,982.1 C4050.9,959.3 4058.5,940.3 4060.4,925.1 C4062.3,913.6 4060.4,906.0 4058.5,900.3 M4060.4,927.0 C4068.0,923.2 4077.5,925.1 4087.0,927.0 M4061.6,919.4 C4069.9,915.6 4075.6,911.7 4079.4,906.0 M4045.2,982.1 C4020.5,974.5 4001.5,970.7 3990.1,966.9 C3982.5,963.1 3976.8,961.2 3973.0,961.2 M3990.1,966.9 C3984.4,974.5 3978.7,982.1 3976.8,989.7 M4045.2,982.1 C4020.5,997.3 4001.5,1004.9 3990.1,1006.8 C3978.7,1008.7 3969.2,1009.4 3961.6,1008.7 M3990.1,1006.8 C3984.4,1014.4 3980.6,1020.1 3978.7,1023.9 M4001.5,1004.9 C3999.6,1020.1 3993.9,1031.5 3989.3,1039.1 M4045.2,982.1 C4039.5,1004.9 4031.9,1020.1 4024.3,1027.7 C4016.7,1031.5 4011.0,1030.7 4007.2,1029.6 M4024.3,1027.7 C4028.1,1035.3 4027.4,1042.9 4025.1,1048.6 M4024.3,1028.4 C4033.8,1031.5 4038.8,1039.1 4040.3,1044.8 M4045.2,982.1 C4058.5,1004.9 4062.3,1020.1 4066.1,1031.5 C4068.0,1039.1 4069.9,1042.9 4071.8,1045.9 M4066.1,1031.5 C4073.7,1027.7 4079.4,1027.7 4085.1,1028.4 M4068.0,1037.2 C4074.5,1038.3 4079.4,1039.1 4082.1,1035.3" fill="none" stroke="#6fbf62" stroke-width="2.2" stroke-linecap="round" stroke-linejoin="round"/><circle cx="4045.2" cy="982.1" r="11.5" fill="#7cc66e" stroke="#1c5a26" stroke-width="1.7"/><text x="4081.3" y="1016.3" font-size="23.4" fill="#111">Nerves</text>
<path d="M4081.3,883.2 C4083.2,871.8 4100.3,866.1 4115.5,871.8 C4130.7,879.4 4145.9,894.6 4155.4,906.0 C4161.1,911.7 4164.2,915.6 4163.0,919.4 C4157.3,917.5 4153.5,915.6 4149.0,916.7 C4151.6,923.2 4155.4,927.0 4154.3,931.9 C4147.8,930.8 4144.0,927.0 4139.5,928.1 C4141.4,934.6 4144.0,938.4 4142.1,943.3 C4136.4,941.0 4133.8,937.2 4129.2,938.4 C4130.7,944.1 4131.5,947.1 4130.0,949.8 C4115.5,940.3 4100.3,921.3 4088.9,906.0 C4083.2,898.4 4080.6,890.8 4081.3,883.2 Z" fill="url(#gMig)" stroke="#111" stroke-width="1.7" stroke-linejoin="round"/><circle cx="4116.3" cy="901.5" r="12.5" fill="url(#gNuc)" stroke="#111" stroke-width="1.7"/><rect x="4102.7" y="867.1" width="12" height="5.5" fill="url(#gT2)" stroke="#222" stroke-width="1.3" transform="rotate(70 4108.7 869.9)"/><rect x="4143.7" y="896.9" width="12" height="5.5" fill="url(#gNcad)" stroke="#222" stroke-width="1.3" transform="rotate(-35 4149.7 899.6)"/><rect x="4100.4" y="928.0" width="12" height="5.5" fill="url(#gT2)" stroke="#222" stroke-width="1.3" transform="rotate(-30 4106.4 930.8)"/><path d="M4149.7,944.1 C4161.1,953.6 4176.3,956.6 4195.3,956.6 L4223.8,956.6" fill="none" stroke="#000" stroke-width="3.6"/><path d="M0,0 L-16.5,-8.25 L-16.5,8.25 Z" fill="#000" transform="translate(4237.1 956.6) rotate(0)"/><path d="M3623.3,767.3 L3623.3,852.8 C3623.3,868.0 3632.8,877.5 3648.0,877.5 L4066.1,877.5" fill="none" stroke="#000" stroke-width="3.6"/><path d="M0,0 L-16.5,-8.25 L-16.5,8.25 Z" fill="#000" transform="translate(4078.3 877.5) rotate(0)"/><path d="M3623.3,769.2 C3623.3,784.4 3632.8,792.0 3648.0,792.0 L3978.7,792.0" fill="none" stroke="#000" stroke-width="3.6"/><path d="M0,0 L-16.5,-8.25 L-16.5,8.25 Z" fill="#000" transform="translate(3990.1 792) rotate(0)"/><rect x="2927.3" y="922.5" width="687" height="118.4" fill="#fff" stroke="#4aafc8" stroke-width="2.1"/><text x="2936.7" y="947.9" font-size="23.2" fill="#111" font-weight="700">Key</text>
<rect x="2937" y="972.6" width="21.5" height="8" fill="url(#gNcad)" stroke="#222" stroke-width="1.4"/><text x="2964.5" y="984.9" font-size="23.4" fill="#111">N-cad</text>
<rect x="2937" y="1008.6" width="21.5" height="8" fill="url(#gT2)" stroke="#222" stroke-width="1.4"/><text x="2964.5" y="1020.7" font-size="23.4" fill="#111">Type II cad</text>
<rect x="3134" y="972.6" width="21.5" height="8" fill="#d0d6da" stroke="#222" stroke-width="1.4"/><text x="3166.7" y="984.9" font-size="23.4" fill="#111">Cadherin repertoire in epithelial cells</text>
<rect x="3134" y="1008.6" width="21.5" height="8" fill="#55595c" stroke="#222" stroke-width="1.4"/><text x="3166.7" y="1020.7" font-size="23.4" fill="#111">Cadherin repertoire in mesenchymal cells</text>
<path d="M2927.5,1081.9 L4230.3,1081.9 L4230.3,1061.6 L4291.9,1099.8 L4230.3,1135.6 L4230.3,1112.8 L2927.5,1112.8 Z" fill="url(#gArr)"/><text x="2926.2" y="1149.1" font-size="23.5" fill="#111" font-weight="700">Cancer</text>
<line x1="2925.8" y1="1157.1" x2="4293.8" y2="1157.1" stroke="#111" stroke-width="1.8"/><clipPath id="cC1"><rect x="2925.9" y="1165" width="414.7" height="230"/></clipPath><g clip-path="url(#cC1)"><rect x="2925.9" y="1270" width="414.7" height="116" fill="url(#gECM)"/><path d="M2949.7,1288.9 C2972.7,1326.5 3014.5,1339.0 3035.4,1355.8 C3043.8,1362.0 3047.1,1366.2 3048.0,1369.1" fill="none" stroke="#fff" stroke-width="1.7" opacity="0.95"/><path d="M2937.2,1371.6 C2947.6,1347.4 2985.3,1330.7 3010.3,1314.0 C3020.8,1305.6 3025.0,1301.4 3027.1,1297.2" fill="none" stroke="#fff" stroke-width="1.7" opacity="0.95"/><path d="M3052.1,1291.0 C3085.6,1280.5 3106.5,1305.6 3119.0,1330.7 C3131.6,1351.6 3152.5,1359.9 3171.3,1359.1" fill="none" stroke="#fff" stroke-width="1.7" opacity="0.95"/><path d="M3056.3,1366.2 C3077.2,1339.0 3119.0,1330.7 3152.5,1318.1 C3177.6,1305.6 3190.1,1293.1 3194.3,1286.8" fill="none" stroke="#fff" stroke-width="1.7" opacity="0.95"/><path d="M3200.6,1318.1 C3227.7,1320.2 3244.5,1330.7 3261.2,1339.0 C3277.9,1349.5 3298.8,1351.6 3314.7,1346.6" fill="none" stroke="#fff" stroke-width="1.7" opacity="0.95"/><path d="M3211.0,1362.0 C3236.1,1330.7 3273.7,1318.1 3294.6,1297.2 C3303.0,1288.9 3306.3,1284.7 3308.0,1281.3" fill="none" stroke="#fff" stroke-width="1.7" opacity="0.95"/><rect x="2925.9" y="1260.9" width="414.7" height="9.1" fill="#e58b82"/><path d="M2897.7,1182.8 C2899.9,1173.6 2901.0,1173.6 2903.2,1182.8 C2905.5,1186.6 2906.6,1186.6 2908.8,1181.8 C2911.0,1173.6 2912.1,1173.6 2914.3,1182.8 C2916.5,1186.6 2917.6,1186.6 2919.9,1181.8 C2922.1,1173.6 2923.2,1173.6 2925.4,1182.8 C2927.6,1186.6 2928.7,1186.6 2930.9,1181.8 C2933.2,1173.6 2934.3,1173.6 2936.5,1182.8 C2938.7,1186.6 2939.8,1186.6 2942.0,1181.8 C2944.2,1173.6 2945.3,1173.6 2947.6,1182.8 C2949.8,1186.6 2950.9,1186.6 2953.1,1181.8 L2953.1,1251.7 Q2953.1,1261.7 2943.1,1261.7 L2907.7,1261.7 Q2897.7,1261.7 2897.7,1251.7 Z" fill="url(#gGC)" stroke="#111" stroke-width="1.7" stroke-linejoin="round"/><circle cx="2925.7" cy="1216.5" r="14.2" fill="url(#gGN)" stroke="#111" stroke-width="1.8"/><path d="M2953.1,1182.8 C2955.3,1173.6 2956.4,1173.6 2958.6,1182.8 C2960.9,1186.6 2962.0,1186.6 2964.2,1181.8 C2966.4,1173.6 2967.5,1173.6 2969.7,1182.8 C2971.9,1186.6 2973.0,1186.6 2975.3,1181.8 C2977.5,1173.6 2978.6,1173.6 2980.8,1182.8 C2983.0,1186.6 2984.1,1186.6 2986.3,1181.8 C2988.6,1173.6 2989.7,1173.6 2991.9,1182.8 C2994.1,1186.6 2995.2,1186.6 2997.4,1181.8 C2999.6,1173.6 3000.7,1173.6 3003.0,1182.8 C3005.2,1186.6 3006.3,1186.6 3008.5,1181.8 L3008.5,1251.7 Q3008.5,1261.7 2998.5,1261.7 L2963.1,1261.7 Q2953.1,1261.7 2953.1,1251.7 Z" fill="url(#gGC)" stroke="#111" stroke-width="1.7" stroke-linejoin="round"/><circle cx="2981.1" cy="1216.5" r="14.2" fill="url(#gGN)" stroke="#111" stroke-width="1.8"/><path d="M3008.5,1182.8 C3010.7,1173.6 3011.8,1173.6 3014.0,1182.8 C3016.3,1186.6 3017.4,1186.6 3019.6,1181.8 C3021.8,1173.6 3022.9,1173.6 3025.1,1182.8 C3027.3,1186.6 3028.4,1186.6 3030.7,1181.8 C3032.9,1173.6 3034.0,1173.6 3036.2,1182.8 C3038.4,1186.6 3039.5,1186.6 3041.7,1181.8 C3044.0,1173.6 3045.1,1173.6 3047.3,1182.8 C3049.5,1186.6 3050.6,1186.6 3052.8,1181.8 C3055.0,1173.6 3056.1,1173.6 3058.4,1182.8 C3060.6,1186.6 3061.7,1186.6 3063.9,1181.8 L3063.9,1251.7 Q3063.9,1261.7 3053.9,1261.7 L3018.5,1261.7 Q3008.5,1261.7 3008.5,1251.7 Z" fill="url(#gGC)" stroke="#111" stroke-width="1.7" stroke-linejoin="round"/><circle cx="3036.5" cy="1216.5" r="14.2" fill="url(#gGN)" stroke="#111" stroke-width="1.8"/><path d="M3063.8,1182.8 C3066.0,1173.6 3067.1,1173.6 3069.3,1182.8 C3071.6,1186.6 3072.7,1186.6 3074.9,1181.8 C3077.1,1173.6 3078.2,1173.6 3080.4,1182.8 C3082.6,1186.6 3083.7,1186.6 3086.0,1181.8 C3088.2,1173.6 3089.3,1173.6 3091.5,1182.8 C3093.7,1186.6 3094.8,1186.6 3097.0,1181.8 C3099.3,1173.6 3100.4,1173.6 3102.6,1182.8 C3104.8,1186.6 3105.9,1186.6 3108.1,1181.8 C3110.3,1173.6 3111.4,1173.6 3113.7,1182.8 C3115.9,1186.6 3117.0,1186.6 3119.2,1181.8 L3119.2,1251.7 Q3119.2,1261.7 3109.2,1261.7 L3073.8,1261.7 Q3063.8,1261.7 3063.8,1251.7 Z" fill="url(#gGCd)" stroke="#111" stroke-width="1.7" stroke-linejoin="round"/><circle cx="3091.8" cy="1216.5" r="14.2" fill="url(#gGN)" stroke="#111" stroke-width="1.8"/><path d="M3119.2,1182.8 C3121.4,1173.6 3122.5,1173.6 3124.7,1182.8 C3127.0,1186.6 3128.1,1186.6 3130.3,1181.8 C3132.5,1173.6 3133.6,1173.6 3135.8,1182.8 C3138.0,1186.6 3139.1,1186.6 3141.4,1181.8 C3143.6,1173.6 3144.7,1173.6 3146.9,1182.8 C3149.1,1186.6 3150.2,1186.6 3152.4,1181.8 C3154.7,1173.6 3155.8,1173.6 3158.0,1182.8 C3160.2,1186.6 3161.3,1186.6 3163.5,1181.8 C3165.7,1173.6 3166.8,1173.6 3169.1,1182.8 C3171.3,1186.6 3172.4,1186.6 3174.6,1181.8 L3174.6,1251.7 Q3174.6,1261.7 3164.6,1261.7 L3129.2,1261.7 Q3119.2,1261.7 3119.2,1251.7 Z" fill="url(#gGCd)" stroke="#111" stroke-width="1.7" stroke-linejoin="round"/><circle cx="3147.2" cy="1216.5" r="14.2" fill="url(#gGN)" stroke="#111" stroke-width="1.8"/><path d="M3174.5,1182.8 C3176.7,1173.6 3177.8,1173.6 3180.0,1182.8 C3182.3,1186.6 3183.4,1186.6 3185.6,1181.8 C3187.8,1173.6 3188.9,1173.6 3191.1,1182.8 C3193.3,1186.6 3194.4,1186.6 3196.7,1181.8 C3198.9,1173.6 3200.0,1173.6 3202.2,1182.8 C3204.4,1186.6 3205.5,1186.6 3207.7,1181.8 C3210.0,1173.6 3211.1,1173.6 3213.3,1182.8 C3215.5,1186.6 3216.6,1186.6 3218.8,1181.8 C3221.0,1173.6 3222.1,1173.6 3224.4,1182.8 C3226.6,1186.6 3227.7,1186.6 3229.9,1181.8 L3229.9,1251.7 Q3229.9,1261.7 3219.9,1261.7 L3184.5,1261.7 Q3174.5,1261.7 3174.5,1251.7 Z" fill="url(#gGC)" stroke="#111" stroke-width="1.7" stroke-linejoin="round"/><circle cx="3202.5" cy="1216.5" r="14.2" fill="url(#gGN)" stroke="#111" stroke-width="1.8"/><path d="M3229.9,1182.8 C3232.1,1173.6 3233.2,1173.6 3235.4,1182.8 C3237.7,1186.6 3238.8,1186.6 3241.0,1181.8 C3243.2,1173.6 3244.3,1173.6 3246.5,1182.8 C3248.7,1186.6 3249.8,1186.6 3252.1,1181.8 C3254.3,1173.6 3255.4,1173.6 3257.6,1182.8 C3259.8,1186.6 3260.9,1186.6 3263.1,1181.8 C3265.4,1173.6 3266.5,1173.6 3268.7,1182.8 C3270.9,1186.6 3272.0,1186.6 3274.2,1181.8 C3276.4,1173.6 3277.5,1173.6 3279.8,1182.8 C3282.0,1186.6 3283.1,1186.6 3285.3,1181.8 L3285.3,1251.7 Q3285.3,1261.7 3275.3,1261.7 L3239.9,1261.7 Q3229.9,1261.7 3229.9,1251.7 Z" fill="url(#gGC)" stroke="#111" stroke-width="1.7" stroke-linejoin="round"/><circle cx="3257.9" cy="1216.5" r="14.2" fill="url(#gGN)" stroke="#111" stroke-width="1.8"/><path d="M3285.3,1182.8 C3287.5,1173.6 3288.6,1173.6 3290.8,1182.8 C3293.1,1186.6 3294.2,1186.6 3296.4,1181.8 C3298.6,1173.6 3299.7,1173.6 3301.9,1182.8 C3304.1,1186.6 3305.2,1186.6 3307.5,1181.8 C3309.7,1173.6 3310.8,1173.6 3313.0,1182.8 C3315.2,1186.6 3316.3,1186.6 3318.5,1181.8 C3320.8,1173.6 3321.9,1173.6 3324.1,1182.8 C3326.3,1186.6 3327.4,1186.6 3329.6,1181.8 C3331.8,1173.6 3332.9,1173.6 3335.2,1182.8 C3337.4,1186.6 3338.5,1186.6 3340.7,1181.8 L3340.7,1251.7 Q3340.7,1261.7 3330.7,1261.7 L3295.3,1261.7 Q3285.3,1261.7 3285.3,1251.7 Z" fill="url(#gGC)" stroke="#111" stroke-width="1.7" stroke-linejoin="round"/><circle cx="3313.3" cy="1216.5" r="14.2" fill="url(#gGN)" stroke="#111" stroke-width="1.8"/></g><rect x="2947.2" y="1202.8" width="13.4" height="5" fill="#e6eaec" stroke="#222" stroke-width="1.3" transform="rotate(0 2953.9 1205.3)"/><rect x="3002.0" y="1202.8" width="13.4" height="5" fill="#e6eaec" stroke="#222" stroke-width="1.3" transform="rotate(0 3008.7 1205.3)"/><rect x="3057.2" y="1216.1" width="13.4" height="5" fill="#e6eaec" stroke="#222" stroke-width="1.3" transform="rotate(0 3063.9 1218.6)"/><rect x="3112.3" y="1204.8" width="13.4" height="5" fill="#e6eaec" stroke="#222" stroke-width="1.3" transform="rotate(0 3119.0 1207.3)"/><rect x="3167.5" y="1216.6" width="13.4" height="5" fill="#e6eaec" stroke="#222" stroke-width="1.3" transform="rotate(0 3174.2 1219.1)"/><rect x="3223.5" y="1208.2" width="13.4" height="5" fill="#e6eaec" stroke="#222" stroke-width="1.3" transform="rotate(0 3230.2 1210.7)"/><rect x="3278.3" y="1216.6" width="13.4" height="5" fill="#e6eaec" stroke="#222" stroke-width="1.3" transform="rotate(0 3285.0 1219.1)"/><line x1="3348.1" y1="1332.4" x2="3417.7000000000003" y2="1332.4" stroke="#000" stroke-width="3.6"/><path d="M0,0 L-16.5,-8.25 L-16.5,8.25 Z" fill="#000" transform="translate(3430.9 1332.4) rotate(0)"/><clipPath id="cC2"><rect x="3438.9" y="1165" width="404.3" height="230"/></clipPath><g clip-path="url(#cC2)"><rect x="3438.9" y="1270" width="404.3" height="116" fill="url(#gECM)"/><path d="M3451.4,1291.0 C3478.6,1297.2 3495.3,1318.1 3512.0,1330.7 C3532.9,1347.4 3558.0,1351.6 3576.8,1347.4" fill="none" stroke="#fff" stroke-width="1.7" opacity="0.95"/><path d="M3462.7,1362.0 C3461.9,1339.0 3495.3,1322.3 3516.2,1314.0 C3532.9,1305.6 3541.3,1297.2 3543.4,1289.7" fill="none" stroke="#fff" stroke-width="1.7" opacity="0.95"/><path d="M3570.6,1297.2 C3587.3,1318.1 3620.7,1330.7 3641.6,1339.0 C3658.4,1347.4 3668.8,1364.1 3673.0,1372.5" fill="none" stroke="#fff" stroke-width="1.7" opacity="0.95"/><path d="M3601.9,1371.6 C3604.0,1351.6 3629.1,1334.9 3650.0,1322.3 C3666.7,1314.0 3673.0,1305.6 3675.9,1299.3" fill="none" stroke="#fff" stroke-width="1.7" opacity="0.95"/><path d="M3704.3,1309.8 C3721.1,1326.5 3746.2,1326.5 3767.1,1326.5 C3796.3,1330.7 3821.4,1347.4 3831.9,1359.9" fill="none" stroke="#fff" stroke-width="1.7" opacity="0.95"/><path d="M3727.3,1370.4 C3742.0,1347.4 3779.6,1330.7 3796.3,1309.8 C3806.8,1297.2 3813.0,1291.0 3815.1,1286.8" fill="none" stroke="#fff" stroke-width="1.7" opacity="0.95"/><path d="M3438.9,1265.5 L3545.5,1265.5 C3566.4,1268.0 3574.7,1288.9 3595.6,1305.6" fill="none" stroke="#e58b82" stroke-width="9"/><path d="M3692.6,1302.2 C3693.9,1284.7 3704.3,1268.0 3729.4,1265.5 L3843.1,1265.5" fill="none" stroke="#e58b82" stroke-width="9"/><path d="M3410.4,1182.8 C3412.6,1173.6 3413.7,1173.6 3416.0,1182.8 C3418.2,1186.6 3419.3,1186.6 3421.5,1181.8 C3423.7,1173.6 3424.9,1173.6 3427.1,1182.8 C3429.3,1186.6 3430.4,1186.6 3432.6,1181.8 C3434.9,1173.6 3436.0,1173.6 3438.2,1182.8 C3440.4,1186.6 3441.5,1186.6 3443.8,1181.8 C3446.0,1173.6 3447.1,1173.6 3449.3,1182.8 C3451.5,1186.6 3452.7,1186.6 3454.9,1181.8 C3457.1,1173.6 3458.2,1173.6 3460.4,1182.8 C3462.7,1186.6 3463.8,1186.6 3466.0,1181.8 L3466.0,1251.7 Q3466.0,1261.7 3456.0,1261.7 L3420.4,1261.7 Q3410.4,1261.7 3410.4,1251.7 Z" fill="url(#gGC)" stroke="#111" stroke-width="1.7" stroke-linejoin="round"/><circle cx="3438.7" cy="1216.5" r="14.2" fill="url(#gGN)" stroke="#111" stroke-width="1.8"/><path d="M3466.0,1182.8 C3468.2,1173.6 3469.3,1173.6 3471.6,1182.8 C3473.8,1186.6 3474.9,1186.6 3477.1,1181.8 C3479.3,1173.6 3480.5,1173.6 3482.7,1182.8 C3484.9,1186.6 3486.0,1186.6 3488.2,1181.8 C3490.5,1173.6 3491.6,1173.6 3493.8,1182.8 C3496.0,1186.6 3497.1,1186.6 3499.4,1181.8 C3501.6,1173.6 3502.7,1173.6 3504.9,1182.8 C3507.1,1186.6 3508.3,1186.6 3510.5,1181.8 C3512.7,1173.6 3513.8,1173.6 3516.0,1182.8 C3518.3,1186.6 3519.4,1186.6 3521.6,1181.8 L3521.6,1251.7 Q3521.6,1261.7 3511.6,1261.7 L3476.0,1261.7 Q3466.0,1261.7 3466.0,1251.7 Z" fill="url(#gGC)" stroke="#111" stroke-width="1.7" stroke-linejoin="round"/><circle cx="3494.3" cy="1216.5" r="14.2" fill="url(#gGN)" stroke="#111" stroke-width="1.8"/><path d="M3521.6,1182.8 C3523.8,1173.6 3524.9,1173.6 3527.2,1182.8 C3529.4,1186.6 3530.5,1186.6 3532.7,1181.8 C3535.0,1173.6 3536.1,1173.6 3538.3,1182.8 C3540.5,1186.6 3541.7,1186.6 3543.9,1181.8 C3546.1,1173.6 3547.2,1173.6 3549.5,1182.8 C3551.7,1186.6 3552.8,1186.6 3555.0,1181.8 C3557.2,1173.6 3558.4,1173.6 3560.6,1182.8 C3562.8,1186.6 3563.9,1186.6 3566.2,1181.8 C3568.4,1173.6 3569.5,1173.6 3571.7,1182.8 C3574.0,1186.6 3575.1,1186.6 3577.3,1181.8 L3577.3,1251.7 Q3577.3,1261.7 3567.3,1261.7 L3531.6,1261.7 Q3521.6,1261.7 3521.6,1251.7 Z" fill="url(#gGC)" stroke="#111" stroke-width="1.7" stroke-linejoin="round"/><circle cx="3549.9" cy="1216.5" r="14.2" fill="url(#gGN)" stroke="#111" stroke-width="1.8"/><path d="M3705.6,1182.8 C3707.8,1173.6 3708.9,1173.6 3711.1,1182.8 C3713.3,1186.6 3714.4,1186.6 3716.6,1181.8 C3718.8,1173.6 3720.0,1173.6 3722.2,1182.8 C3724.4,1186.6 3725.5,1186.6 3727.7,1181.8 C3729.9,1173.6 3731.0,1173.6 3733.2,1182.8 C3735.4,1186.6 3736.5,1186.6 3738.7,1181.8 C3740.9,1173.6 3742.0,1173.6 3744.2,1182.8 C3746.4,1186.6 3747.6,1186.6 3749.8,1181.8 C3752.0,1173.6 3753.1,1173.6 3755.3,1182.8 C3757.5,1186.6 3758.6,1186.6 3760.8,1181.8 L3760.8,1251.7 Q3760.8,1261.7 3750.8,1261.7 L3715.6,1261.7 Q3705.6,1261.7 3705.6,1251.7 Z" fill="url(#gGC)" stroke="#111" stroke-width="1.7" stroke-linejoin="round"/><circle cx="3733.7" cy="1216.5" r="14.2" fill="url(#gGN)" stroke="#111" stroke-width="1.8"/><path d="M3760.8,1182.8 C3763.0,1173.6 3764.1,1173.6 3766.3,1182.8 C3768.5,1186.6 3769.6,1186.6 3771.8,1181.8 C3774.0,1173.6 3775.2,1173.6 3777.4,1182.8 C3779.6,1186.6 3780.7,1186.6 3782.9,1181.8 C3785.1,1173.6 3786.2,1173.6 3788.4,1182.8 C3790.6,1186.6 3791.7,1186.6 3793.9,1181.8 C3796.1,1173.6 3797.2,1173.6 3799.4,1182.8 C3801.6,1186.6 3802.8,1186.6 3805.0,1181.8 C3807.2,1173.6 3808.3,1173.6 3810.5,1182.8 C3812.7,1186.6 3813.8,1186.6 3816.0,1181.8 L3816.0,1251.7 Q3816.0,1261.7 3806.0,1261.7 L3770.8,1261.7 Q3760.8,1261.7 3760.8,1251.7 Z" fill="url(#gGC)" stroke="#111" stroke-width="1.7" stroke-linejoin="round"/><circle cx="3788.9" cy="1216.5" r="14.2" fill="url(#gGN)" stroke="#111" stroke-width="1.8"/><path d="M3816.0,1182.8 C3818.2,1173.6 3819.3,1173.6 3821.6,1182.8 C3823.8,1186.6 3824.9,1186.6 3827.1,1181.8 C3829.3,1173.6 3830.5,1173.6 3832.7,1182.8 C3834.9,1186.6 3836.0,1186.6 3838.2,1181.8 C3840.5,1173.6 3841.6,1173.6 3843.8,1182.8 C3846.0,1186.6 3847.1,1186.6 3849.4,1181.8 C3851.6,1173.6 3852.7,1173.6 3854.9,1182.8 C3857.1,1186.6 3858.3,1186.6 3860.5,1181.8 C3862.7,1173.6 3863.8,1173.6 3866.0,1182.8 C3868.3,1186.6 3869.4,1186.6 3871.6,1181.8 L3871.6,1251.7 Q3871.6,1261.7 3861.6,1261.7 L3826.0,1261.7 Q3816.0,1261.7 3816.0,1251.7 Z" fill="url(#gGC)" stroke="#111" stroke-width="1.7" stroke-linejoin="round"/><circle cx="3844.3" cy="1216.5" r="14.2" fill="url(#gGN)" stroke="#111" stroke-width="1.8"/></g><path d="M3581.0,1268.0 C3578.9,1234.5 3587.3,1205.3 3599.8,1190.6 C3612.4,1182.3 3627.0,1188.5 3631.2,1209.4 C3635.4,1234.5 3631.2,1255.4 3627.0,1276.3 C3625.7,1281.3 3620.7,1280.5 3619.9,1274.2 C3618.6,1265.9 3614.5,1265.9 3613.2,1274.2 C3612.4,1279.7 3607.4,1279.7 3606.1,1272.1 C3604.8,1264.6 3599.8,1264.6 3599.0,1271.3 C3597.7,1277.2 3592.3,1276.3 3591.5,1270.1 C3590.6,1263.8 3586.4,1264.6 3585.2,1270.1 C3583.9,1273.0 3581.4,1272.1 3581.0,1268.0 Z" fill="url(#gInv)" stroke="#111" stroke-width="1.7" stroke-linejoin="round"/><path d="M3639.5,1213.6 C3645.8,1201.1 3662.5,1196.9 3675.1,1207.3 C3687.6,1226.2 3696.0,1247.1 3699.3,1263.8 C3700.2,1278.4 3687.6,1286.8 3675.1,1283.9 C3660.4,1278.4 3650.0,1259.6 3643.7,1242.9 C3639.5,1230.3 3637.5,1222.0 3639.5,1213.6 Z" fill="url(#gInv)" stroke="#111" stroke-width="1.7"/><circle cx="3608.2" cy="1228.2" r="13.8" fill="url(#gGN)" stroke="#111" stroke-width="1.8"/><circle cx="3660.4" cy="1231.6" r="13.8" fill="url(#gGN)" stroke="#111" stroke-width="1.8"/><rect x="3454.3" y="1213.6" width="13.4" height="5" fill="#e6eaec" stroke="#222" stroke-width="1.3" transform="rotate(0 3461.0 1216.1)"/><rect x="3514.5" y="1206.1" width="13.4" height="5" fill="#e6eaec" stroke="#222" stroke-width="1.3" transform="rotate(0 3521.2 1208.6)"/><rect x="3569.7" y="1201.9" width="13.4" height="5" fill="#e6eaec" stroke="#222" stroke-width="1.3" transform="rotate(15 3576.4 1204.4)"/><rect x="3754.5" y="1206.9" width="13.4" height="5" fill="#e6eaec" stroke="#222" stroke-width="1.3" transform="rotate(0 3761.2 1209.4)"/><rect x="3809.3" y="1206.1" width="13.4" height="5" fill="#e6eaec" stroke="#222" stroke-width="1.3" transform="rotate(0 3816.0 1208.6)"/><rect x="3589.8" y="1185.2" width="13.4" height="5" fill="#55595c" stroke="#222" stroke-width="1.3" transform="rotate(65 3596.5 1187.7)"/><rect x="3629.1" y="1214.0" width="13.4" height="5" fill="#55595c" stroke="#222" stroke-width="1.3" transform="rotate(0 3635.8 1216.5)"/><rect x="3665.0" y="1201.1" width="13.4" height="5" fill="#55595c" stroke="#222" stroke-width="1.3" transform="rotate(-50 3671.7 1203.6)"/><path d="M3639.5,1288.9 L3639.5,1451.9 C3639.5,1468.6 3650.0,1477.8 3666.7,1477.8 L3884.1,1477.8" fill="none" stroke="#000" stroke-width="3.6"/><path d="M0,0 L-16.5,-8.25 L-16.5,8.25 Z" fill="#000" transform="translate(3897.5 1477.8) rotate(0)"/><path d="M3639.5,1314.0 C3639.5,1332.8 3650.0,1341.1 3666.7,1341.1 L3884.1,1341.1" fill="none" stroke="#000" stroke-width="3.6"/><path d="M0,0 L-16.5,-8.25 L-16.5,8.25 Z" fill="#000" transform="translate(3897.5 1341.1) rotate(0)"/><rect x="3908.9" y="1176.8" width="384.4" height="192.2" fill="url(#gBV)"/><rect x="3908.9" y="1262.4" width="384.4" height="57.6" fill="#f7c4b6"/><clipPath id="cBV"><rect x="3908.9" y="1170" width="384.4" height="200"/></clipPath><g clip-path="url(#cBV)"><rect x="3888.4" y="1234.4" width="95.4" height="28" rx="13" fill="url(#gWall)" stroke="#111" stroke-width="1.7"/><rect x="3986.1" y="1234.4" width="77.7" height="28" rx="13" fill="url(#gWall)" stroke="#111" stroke-width="1.7"/><rect x="4081.5" y="1234.4" width="77.7" height="28" rx="13" fill="url(#gWall)" stroke="#111" stroke-width="1.7"/><rect x="4161.5" y="1234.4" width="77.7" height="28" rx="13" fill="url(#gWall)" stroke="#111" stroke-width="1.7"/><rect x="4241.4" y="1234.4" width="76.4" height="28" rx="13" fill="url(#gWall)" stroke="#111" stroke-width="1.7"/><rect x="3888.4" y="1320" width="95.4" height="28" rx="13" fill="url(#gWall)" stroke="#111" stroke-width="1.7"/><rect x="3986.1" y="1320" width="77.7" height="28" rx="13" fill="url(#gWall)" stroke="#111" stroke-width="1.7"/><rect x="4066.0" y="1320" width="77.8" height="28" rx="13" fill="url(#gWall)" stroke="#111" stroke-width="1.7"/><rect x="4146.0" y="1320" width="77.8" height="28" rx="13" fill="url(#gWall)" stroke="#111" stroke-width="1.7"/><rect x="4226.0" y="1320" width="91.8" height="28" rx="13" fill="url(#gWall)" stroke="#111" stroke-width="1.7"/><ellipse cx="3945.1" cy="1248.4" rx="14.6" ry="7.9" fill="url(#gRBC)" stroke="#111" stroke-width="1.5"/><ellipse cx="4025.4" cy="1248.4" rx="14.6" ry="7.9" fill="url(#gRBC)" stroke="#111" stroke-width="1.5"/><ellipse cx="4120.5" cy="1248.4" rx="14.6" ry="7.9" fill="url(#gRBC)" stroke="#111" stroke-width="1.5"/><ellipse cx="4200.5" cy="1248.4" rx="14.6" ry="7.9" fill="url(#gRBC)" stroke="#111" stroke-width="1.5"/><ellipse cx="4270.1" cy="1248.4" rx="14.6" ry="7.9" fill="url(#gRBC)" stroke="#111" stroke-width="1.5"/><ellipse cx="3945.1" cy="1334.0" rx="14.6" ry="7.9" fill="url(#gRBC)" stroke="#111" stroke-width="1.5"/><ellipse cx="4025.4" cy="1334.0" rx="14.6" ry="7.9" fill="url(#gRBC)" stroke="#111" stroke-width="1.5"/><ellipse cx="4105.9" cy="1334.0" rx="14.6" ry="7.9" fill="url(#gRBC)" stroke="#111" stroke-width="1.5"/><ellipse cx="4185.9" cy="1334.0" rx="14.6" ry="7.9" fill="url(#gRBC)" stroke="#111" stroke-width="1.5"/><ellipse cx="4266.7" cy="1334.0" rx="14.6" ry="7.9" fill="url(#gRBC)" stroke="#111" stroke-width="1.5"/></g><path d="M4029.3,1210.5 C4030.1,1196.5 4048.4,1188.1 4070.8,1187.5 C4093.3,1187.5 4112.9,1193.7 4111.5,1210.5 C4109.5,1224.5 4093.3,1230.2 4084.8,1237.2 C4079.8,1242.8 4081.5,1255.4 4081.5,1266.6 C4080.6,1275.1 4073.6,1277.3 4068.0,1275.6 C4061.0,1273.6 4063.8,1263.8 4063.8,1255.4 C4065.2,1244.2 4059.6,1237.2 4048.4,1231.6 C4037.1,1225.9 4028.7,1220.3 4029.3,1210.5 Z" fill="url(#gInv)" stroke="#111" stroke-width="1.7"/><circle cx="4058.8" cy="1211.4" r="13.5" fill="url(#gGN)" stroke="#111" stroke-width="1.8"/><rect x="4036.9" y="1187.8" width="13.4" height="5" fill="#55595c" stroke="#222" stroke-width="1.3" transform="rotate(70 4043.6 1190.3)"/><rect x="4101.2" y="1192.6" width="13.4" height="5" fill="#55595c" stroke="#222" stroke-width="1.3" transform="rotate(-40 4107.9 1195.1)"/><text x="3915.9" y="1298.1" font-size="23.4" fill="#111">Blood vessel</text>
<path d="M4071.7,1282.1 C4071.7,1297.5 4076.4,1304.0 4090.5,1304.0 L4211.1,1304.0 C4223.8,1304.0 4227.1,1310.1 4227.1,1322.8 L4227.1,1353.6" fill="none" stroke="#000" stroke-width="3.6"/><path d="M0,0 L-16.5,-8.25 L-16.5,8.25 Z" fill="#000" transform="translate(4227.1 1364.8) rotate(90)"/><rect x="3908.9" y="1381.1" width="384.4" height="208" fill="url(#gECM2)"/><path d="M4000.7,1516.9 C3989.4,1496.7 3978.2,1482.7 3972.6,1468.7 C3969.8,1457.5 3964.2,1449.0 3961.4,1442.0 M3972.6,1465.9 C3964.2,1463.1 3955.8,1463.1 3948.8,1460.8 M3974.0,1457.5 C3975.4,1451.8 3976.8,1447.6 3978.8,1444.8 M4000.7,1516.9 C4009.1,1496.7 4014.7,1477.1 4016.1,1463.1 C4017.5,1451.8 4016.1,1440.6 4014.1,1432.2 M4016.1,1454.6 C4010.5,1446.2 4006.3,1440.6 4002.1,1437.2 M4017.5,1474.3 C4025.9,1468.7 4031.5,1457.5 4034.3,1444.8 M4025.9,1467.3 C4032.9,1464.5 4038.5,1463.1 4044.2,1461.7 M4000.7,1516.9 C3981.0,1508.0 3961.4,1505.2 3947.3,1503.8 C3938.9,1500.9 3933.3,1496.7 3929.9,1493.9 M3947.3,1504.6 C3940.3,1509.4 3934.7,1516.4 3931.9,1523.4 M4000.7,1516.9 C3978.2,1530.4 3955.8,1538.8 3938.9,1541.6 C3930.5,1543.0 3923.5,1543.0 3917.9,1542.2 M3955.8,1538.8 C3950.2,1547.2 3947.3,1552.9 3938.9,1556.2 M3953.0,1539.4 C3950.2,1552.9 3947.3,1564.1 3944.5,1572.5 M4000.7,1516.9 C3995.1,1536.0 3986.6,1552.9 3981.0,1561.3 C3975.4,1564.1 3969.8,1563.5 3965.6,1562.7 M3981.0,1561.8 C3982.4,1569.7 3981.6,1575.3 3980.5,1580.9 M3981.6,1561.8 C3989.4,1565.5 3993.6,1572.5 3995.6,1578.7 M4000.7,1516.9 C4011.9,1533.2 4020.3,1552.9 4023.1,1564.1 C4024.5,1571.1 4025.9,1575.3 4028.2,1578.7 M4022.6,1564.1 C4028.7,1561.3 4034.3,1561.3 4040.5,1561.8 M4024.5,1569.7 C4028.7,1570.3 4032.9,1569.7 4035.7,1567.5" fill="none" stroke="#2d4a2a" stroke-width="5.4" stroke-linecap="round" stroke-linejoin="round"/><path d="M3978.2,1506.6 C3983.8,1498.1 4009.1,1496.7 4017.5,1505.2 C4031.5,1513.6 4048.4,1515.0 4066.6,1514.1 L4066.6,1522.0 C4048.4,1522.6 4031.5,1524.8 4020.3,1533.2 C4009.1,1538.8 3986.6,1537.4 3979.6,1527.6 C3975.4,1522.0 3975.4,1512.2 3978.2,1506.6 Z" fill="url(#gNeu)" stroke="#111" stroke-width="1.7"/><path d="M4218.1,1514.1 C4233.6,1510.8 4247.6,1500.9 4260.2,1493.9 C4253.2,1503.8 4244.8,1513.6 4240.6,1517.8 C4256.0,1516.9 4275.7,1515.0 4293.3,1513.0 C4278.5,1517.8 4258.8,1522.0 4253.2,1524.8 C4258.8,1533.2 4267.2,1540.2 4274.3,1545.0 C4258.8,1538.8 4242.0,1527.6 4218.1,1522.6 Z" fill="url(#gNeu)" stroke="#111" stroke-width="1.7" stroke-linejoin="round"/><path d="M4000.7,1516.9 C3989.4,1496.7 3978.2,1482.7 3972.6,1468.7 C3969.8,1457.5 3964.2,1449.0 3961.4,1442.0 M3972.6,1465.9 C3964.2,1463.1 3955.8,1463.1 3948.8,1460.8 M3974.0,1457.5 C3975.4,1451.8 3976.8,1447.6 3978.8,1444.8 M4000.7,1516.9 C4009.1,1496.7 4014.7,1477.1 4016.1,1463.1 C4017.5,1451.8 4016.1,1440.6 4014.1,1432.2 M4016.1,1454.6 C4010.5,1446.2 4006.3,1440.6 4002.1,1437.2 M4017.5,1474.3 C4025.9,1468.7 4031.5,1457.5 4034.3,1444.8 M4025.9,1467.3 C4032.9,1464.5 4038.5,1463.1 4044.2,1461.7 M4000.7,1516.9 C3981.0,1508.0 3961.4,1505.2 3947.3,1503.8 C3938.9,1500.9 3933.3,1496.7 3929.9,1493.9 M3947.3,1504.6 C3940.3,1509.4 3934.7,1516.4 3931.9,1523.4 M4000.7,1516.9 C3978.2,1530.4 3955.8,1538.8 3938.9,1541.6 C3930.5,1543.0 3923.5,1543.0 3917.9,1542.2 M3955.8,1538.8 C3950.2,1547.2 3947.3,1552.9 3938.9,1556.2 M3953.0,1539.4 C3950.2,1552.9 3947.3,1564.1 3944.5,1572.5 M4000.7,1516.9 C3995.1,1536.0 3986.6,1552.9 3981.0,1561.3 C3975.4,1564.1 3969.8,1563.5 3965.6,1562.7 M3981.0,1561.8 C3982.4,1569.7 3981.6,1575.3 3980.5,1580.9 M3981.6,1561.8 C3989.4,1565.5 3993.6,1572.5 3995.6,1578.7 M4000.7,1516.9 C4011.9,1533.2 4020.3,1552.9 4023.1,1564.1 C4024.5,1571.1 4025.9,1575.3 4028.2,1578.7 M4022.6,1564.1 C4028.7,1561.3 4034.3,1561.3 4040.5,1561.8 M4024.5,1569.7 C4028.7,1570.3 4032.9,1569.7 4035.7,1567.5" fill="none" stroke="#7cc66e" stroke-width="2.2" stroke-linecap="round" stroke-linejoin="round"/><circle cx="4000.7" cy="1516.9" r="11.2" fill="#6cc05e" stroke="#1c5a26" stroke-width="1.7"/><rect x="4066.6" y="1507.1" width="151.5" height="22.5" rx="4" fill="url(#gMy)" stroke="#111" stroke-width="1.7"/><ellipse cx="4069.6" cy="1518.3" rx="3.6" ry="11" fill="#8a64ae" stroke="#111" stroke-width="1.4"/><path d="M4042.8,1409.7 C4045.6,1397.1 4059.6,1388.7 4073.6,1392.9 C4090.5,1401.3 4104.5,1418.2 4115.7,1437.8 C4121.3,1446.2 4123.6,1451.8 4121.9,1454.6 C4117.1,1453.2 4114.3,1449.0 4110.7,1450.4 C4112.3,1456.0 4114.3,1460.3 4112.3,1464.5 C4107.3,1463.1 4105.1,1458.0 4101.7,1459.7 C4103.1,1465.3 4103.9,1468.7 4101.7,1472.0 C4097.5,1470.1 4095.5,1465.9 4092.1,1467.3 C4092.7,1472.9 4092.7,1476.5 4089.9,1479.3 C4086.3,1475.7 4083.4,1470.1 4080.6,1471.5 C4073.6,1463.1 4059.6,1440.6 4051.2,1426.6 C4045.6,1418.2 4042.2,1414.0 4042.8,1409.7 Z" fill="url(#gInv)" stroke="#111" stroke-width="1.7" stroke-linejoin="round"/><circle cx="4077.3" cy="1428.0" r="13.5" fill="url(#gGN)" stroke="#111" stroke-width="1.8"/><rect x="4036.9" y="1402.2" width="13.4" height="5" fill="#55595c" stroke="#222" stroke-width="1.3" transform="rotate(35 4043.6 1404.7)"/><rect x="4103.4" y="1428.3" width="13.4" height="5" fill="#55595c" stroke="#222" stroke-width="1.3" transform="rotate(-35 4110.1 1430.8)"/><path d="M4108.7,1477.1 C4118.5,1486.9 4132.6,1490.6 4149.4,1490.6 L4213.9,1490.6" fill="none" stroke="#000" stroke-width="3.6"/><path d="M0,0 L-16.5,-8.25 L-16.5,8.25 Z" fill="#000" transform="translate(4228.0 1490.6) rotate(0)"/><rect x="2952.8" y="1594.9" width="151.0" height="124.5" fill="url(#gFG)" stroke="#222" stroke-width="1.8"/><text font-size="23.4" fill="#111"><tspan x="2971.3" y="1622.6" font-weight="700">Signalling</tspan><tspan x="2971.3" y="1650.8" font-weight="700">pathways</tspan><tspan x="2971.3" y="1679.0">TGFβ/BMP,</tspan><tspan x="2971.3" y="1707.2">Wnt, FGF</tspan></text><rect x="3251.8" y="1587.5" width="207.8" height="150.4" fill="url(#gFR)" stroke="#222" stroke-width="1.8"/><text font-size="23.4" fill="#111"><tspan x="3280.8" y="1614.6" font-weight="700">Transcription</tspan><tspan x="3280.8" y="1642.8" font-weight="700">factors</tspan><tspan x="3280.8" y="1671.0">Snail, Twist,</tspan><tspan x="3280.8" y="1699.2">Sox, Fox, Ets,</tspan><tspan x="3280.8" y="1727.4">Zeb, p53 (loss)</tspan></text><rect x="3607.5" y="1587.5" width="250.4" height="150.4" fill="url(#gFO)" stroke="#222" stroke-width="1.8"/><text font-size="23.4" fill="#111"><tspan x="3636.5" y="1614.6" font-weight="700">EMT programme</tspan><tspan x="3636.5" y="1642.8">Cadherin switch,</tspan><tspan x="3636.5" y="1671.0">integrin activation,</tspan><tspan x="3636.5" y="1699.2">matrix remodelling</tspan><tspan x="3636.5" y="1727.4">(MMPs, ADAMs)</tspan></text><rect x="4008.3" y="1613.4" width="254.7" height="124.5" fill="url(#gFB)" stroke="#222" stroke-width="1.8"/><text font-size="23.4" fill="#111"><tspan x="4036.1" y="1642.4" font-weight="700">Dispersion and</tspan><tspan x="4036.1" y="1670.6" font-weight="700">targeted migration</tspan><tspan x="4036.1" y="1698.8">Sdf1/CXCR4,</tspan><tspan x="4036.1" y="1727.0">PDGF, VEGF</tspan></text><line x1="3115.5" y1="1658.4" x2="3226.2999999999997" y2="1658.4" stroke="#000" stroke-width="3.8"/><path d="M0,0 L-18.0,-9.0 L-18.0,9.0 Z" fill="#000" transform="translate(3240.7 1658.4) rotate(0)"/><line x1="3471.9" y1="1658.4" x2="3583.9" y2="1658.4" stroke="#000" stroke-width="3.8"/><path d="M0,0 L-18.0,-9.0 L-18.0,9.0 Z" fill="#000" transform="translate(3598.3 1658.4) rotate(0)"/><line x1="3872.7" y1="1658.4" x2="3983.4" y2="1658.4" stroke="#000" stroke-width="3.8"/><path d="M0,0 L-18.0,-9.0 L-18.0,9.0 Z" fill="#000" transform="translate(3997.8 1658.4) rotate(0)"/></svg>
<!-- neuro -->
<svg class="L" viewBox="0 0 4411 2921" width="4411" height="2921" >
<defs>
<radialGradient id="gSyn" cx="0.5" cy="0.5" r="0.7"><stop offset="0" stop-color="#ddd1eb"/><stop offset="1" stop-color="#b5a0cf"/></radialGradient>
<linearGradient id="gSkull" gradientUnits="userSpaceOnUse" x1="3040" y1="0" x2="3310" y2="0"><stop offset="0" stop-color="#bda6d6"/><stop offset="0.5" stop-color="#a283c2"/><stop offset="1" stop-color="#8a63ad"/></linearGradient>
<linearGradient id="gSock" x1="0" x2="1" y1="0" y2="1"><stop offset="0" stop-color="#ffffff"/><stop offset="1" stop-color="#c5ced4"/></linearGradient>
<linearGradient id="gNeck" x1="0" x2="0" y1="0" y2="1"><stop offset="0" stop-color="#aab6bd"/><stop offset="1" stop-color="#c9d1d6"/></linearGradient>
<radialGradient id="gCh" cx="0.5" cy="0.2" r="0.9"><stop offset="0" stop-color="#f9d8cf"/><stop offset="1" stop-color="#e58576"/></radialGradient>
<linearGradient id="gAo" x1="0" x2="1"><stop offset="0" stop-color="#b79fd3"/><stop offset="0.5" stop-color="#9a7abf"/><stop offset="1" stop-color="#8a66b2"/></linearGradient>
<linearGradient id="gVes" x1="0" x2="0" y1="0" y2="1"><stop offset="0" stop-color="#c9373c"/><stop offset="0.5" stop-color="#e8736a"/><stop offset="1" stop-color="#c9373c"/></linearGradient>
<linearGradient id="gVesV" x1="0" x2="1"><stop offset="0" stop-color="#d9524f"/><stop offset="0.5" stop-color="#ee857a"/><stop offset="1" stop-color="#d9524f"/></linearGradient>
<radialGradient id="gCol" cx="0.5" cy="0.4" r="0.6"><stop offset="0" stop-color="#f3a99d"/><stop offset="1" stop-color="#e27f72"/></radialGradient>
</defs>
<text font-size="23.02" fill="#111"><tspan x="2926.3" y="1903.5">Syndromes and congenital defects due to improper NC development (i.e. incomplete migration or reduced survival) are called</tspan><tspan x="2926.3" y="1931.7">neurocristopathies. Some of the main affections are presented below with examples of the diseases in which they occur. Other</tspan><tspan x="2926.3" y="1959.9">symptoms such as mental retardation and pigmentation defects are also frequent in neurocristopathies.</tspan></text>
<text x="2926.3" y="2006.4" font-size="23.5" fill="#111" font-weight="700">Craniofacial defects</text>
<line x1="2926.3" y1="2018.5" x2="3423.5" y2="2018.5" stroke="#111" stroke-width="1.8"/><text x="3471.4" y="2006.1" font-size="23.5" fill="#111" font-weight="700">Enteric nervous system defects</text>
<line x1="3471.4" y1="2018.5" x2="3839.2" y2="2018.5" stroke="#111" stroke-width="1.8"/><text x="3886.5" y="2006.1" font-size="23.5" fill="#111" font-weight="700">Cardiac defects</text>
<line x1="3886.5" y1="2018.5" x2="4285.3" y2="2018.5" stroke="#111" stroke-width="1.8"/><text font-size="23.4" fill="#111"><tspan x="2926.3" y="2188.0">Hearing</tspan><tspan x="2926.3" y="2216.8">loss</tspan></text>
<text font-size="23.4" fill="#111"><tspan x="3322" y="2226.1">Cleft</tspan><tspan x="3322" y="2254.3">palate</tspan></text>
<text font-size="23.4" fill="#111"><tspan x="3322" y="2338.3">Mandible</tspan><tspan x="3322" y="2367.1">defect</tspan></text>
<g stroke="#111" stroke-width="1.7" stroke-linejoin="round"><path d="M3089.2,2256.4 C3087.8,2312.3 3082.2,2363.5 3059.0,2413.3 L3208.9,2413.3 C3196.3,2396.0 3193.0,2382.1 3193.0,2363.5 L3110.2,2289.0 Z" fill="url(#gNeck)"/><path d="M3040.3,2158.6 C3042.7,2116.7 3063.6,2077.2 3096.2,2056.2 C3133.5,2039.9 3170.7,2035.3 3207.9,2037.6 C3245.2,2046.9 3277.8,2072.5 3296.4,2107.4 C3305.7,2135.4 3309.4,2158.6 3308.0,2195.9 C3309.4,2214.5 3305.7,2228.5 3296.4,2237.8 C3287.1,2244.7 3280.1,2244.7 3276.8,2249.4 C3274.0,2265.7 3277.8,2279.7 3276.8,2286.6 C3273.1,2302.9 3268.5,2316.9 3267.5,2330.9 C3267.5,2349.5 3261.5,2362.5 3249.8,2367.2 C3231.2,2370.4 3207.9,2368.1 3189.3,2363.5 C3170.7,2354.1 3152.1,2340.2 3133.5,2330.9 C3119.5,2323.9 3112.5,2312.3 3111.1,2289.0 C3110.2,2275.0 3109.2,2265.7 3107.8,2256.4 C3096.2,2260.1 3086.9,2258.7 3068.3,2242.4 C3054.3,2223.8 3042.7,2191.2 3040.3,2158.6 Z" fill="url(#gSkull)"/><path d="M3040.3,2158.6 C3042.7,2116.7 3063.6,2077.2 3096.2,2056.2 C3133.5,2039.9 3170.7,2035.3 3207.9,2037.6 C3175.4,2049.2 3138.1,2070.2 3121.8,2100.4 C3117.2,2116.7 3118.6,2133.0 3125.1,2144.7 C3105.5,2149.3 3068.3,2151.6 3049.7,2154.9 Z" fill="#d9d1b8"/><path d="M3207.9,2037.6 C3245.2,2046.9 3277.8,2072.5 3296.4,2107.4 C3304.8,2130.7 3308.5,2149.3 3308.0,2161.0 C3291.7,2144.7 3273.1,2142.3 3254.5,2149.3 C3235.9,2144.7 3226.6,2142.3 3218.2,2144.7 C3198.6,2130.7 3170.7,2135.4 3152.1,2149.3 C3138.1,2149.3 3128.8,2147.0 3125.1,2144.7 C3118.6,2133.0 3117.2,2116.7 3121.8,2100.4 C3138.1,2070.2 3175.4,2049.2 3207.9,2037.6 Z" fill="#8c66ae"/><path d="M3049.7,2154.9 C3059.0,2137.7 3086.9,2133.0 3105.5,2144.7 C3117.2,2154.0 3119.5,2172.6 3131.1,2184.2 C3135.8,2191.2 3128.8,2193.5 3119.5,2190.3 C3100.9,2191.2 3072.9,2195.9 3059.0,2181.9 C3052.0,2172.6 3048.7,2163.3 3049.7,2154.9 Z" fill="#b7c2c9"/><path d="M3114.8,2154.0 C3124.1,2142.3 3145.1,2142.3 3152.1,2154.0 C3153.0,2167.9 3147.4,2181.9 3138.1,2186.6 C3126.5,2188.9 3114.8,2177.2 3113.0,2165.6 Z" fill="#b1bdc4"/><path d="M3153.0,2154.0 C3170.7,2140.0 3194.0,2133.0 3212.6,2137.7 C3221.0,2149.3 3222.8,2172.6 3214.9,2186.6 C3198.6,2198.2 3170.7,2195.9 3159.1,2186.6 C3152.1,2177.2 3149.7,2163.3 3153.0,2154.0 Z" fill="url(#gSock)"/><path d="M3254.5,2154.0 C3268.5,2144.7 3287.1,2143.7 3305.7,2156.3 C3308.0,2170.3 3305.7,2181.9 3300.1,2191.2 C3282.4,2186.6 3263.8,2172.6 3254.5,2154.0 Z" fill="url(#gSock)"/><path d="M3252.2,2172.6 C3259.1,2174.9 3262.9,2191.2 3261.5,2209.8 C3260.1,2226.1 3254.5,2233.1 3242.9,2233.1 C3231.2,2232.2 3225.6,2226.1 3227.5,2214.5 C3230.3,2195.9 3240.5,2177.2 3252.2,2172.6 Z" fill="url(#gSock)" stroke-width="3.2"/><path d="M3252.2,2172.6 C3259.1,2174.9 3262.9,2191.2 3261.5,2209.8 C3260.1,2226.1 3254.5,2233.1 3242.9,2233.1 C3231.2,2232.2 3225.6,2226.1 3227.5,2214.5 C3230.3,2195.9 3240.5,2177.2 3252.2,2172.6 Z" fill="none" stroke="#fff" stroke-width="1.2"/><path d="M3131.1,2186.6 C3152.1,2195.9 3170.7,2195.9 3189.3,2193.5 C3170.7,2205.2 3152.1,2214.5 3145.1,2230.8 C3161.4,2228.5 3184.7,2228.5 3201.0,2240.1 M3263.8,2228.5 C3268.5,2242.4 3273.1,2249.4 3276.8,2249.4 M3145.1,2230.8 C3147.4,2251.7 3148.4,2265.7 3149.7,2275.0 C3161.4,2289.0 3170.7,2293.6 3177.7,2296.0" fill="none"/><path d="M3147.4,2235.4 L3168.4,2233.1 C3166.0,2247.1 3167.0,2256.4 3168.4,2265.7 L3149.7,2268.0 Z" fill="#c3ccd2" stroke-width="1.2"/><path d="M3149.7,2268.0 L3169.8,2265.7 C3171.6,2275.0 3174.4,2284.3 3177.7,2291.3 C3168.4,2286.6 3156.7,2279.7 3149.7,2268.0 Z" fill="#cfd6db" stroke-width="1.2"/></g><g fill="#fffef2" stroke="#111" stroke-width="1.4" stroke-linejoin="round"><path d="M3171.6,2274.1 q5,-3.5 10.5,0 l-0.8,15.8 q-4.5,3.5 -9,0 Z"/><path d="M3183.7,2274.8 q5,-3.5 10.5,0 l-0.8,15.8 q-4.5,3.5 -9,0 Z"/><path d="M3194.9,2275.5 q5,-3.5 10.5,0 l-0.8,15.8 q-4.5,3.5 -9,0 Z"/><path d="M3207.0,2276.2 q5,-3.5 10.5,0 l-0.8,15.8 q-4.5,3.5 -9,0 Z"/><path d="M3219.1,2276.9 q5,-3.5 10.5,0 l-0.8,15.8 q-4.5,3.5 -9,0 Z"/><path d="M3231.2,2277.6 q5,-3.5 10.5,0 l-0.8,15.8 q-4.5,3.5 -9,0 Z"/><path d="M3243.3,2278.3 q5,-3.5 10.5,0 l-0.8,15.8 q-4.5,3.5 -9,0 Z"/><path d="M3255.4,2279.0 q5,-3.5 10.5,0 l-0.8,13.0 q-4.5,3.5 -9,0 Z"/><path d="M3266.6,2279.7 q5,-3.5 10.5,0 l-0.8,13.0 q-4.5,3.5 -9,0 Z"/><path d="M3173.5,2291.3 q4.6,-2.5 9.6,0 l-1,13 q-3.6,2.5 -7.4,0 Z"/><path d="M3186.5,2292.3 q4.6,-2.5 9.6,0 l-1,13 q-3.6,2.5 -7.4,0 Z"/><path d="M3198.6,2293.4 q4.6,-2.5 9.6,0 l-1,13 q-3.6,2.5 -7.4,0 Z"/><path d="M3210.7,2294.4 q4.6,-2.5 9.6,0 l-1,19 q-3.6,2.5 -7.4,0 Z"/><path d="M3222.8,2295.4 q4.6,-2.5 9.6,0 l-1,13 q-3.6,2.5 -7.4,0 Z"/><path d="M3235.9,2296.4 q4.6,-2.5 9.6,0 l-1,13 q-3.6,2.5 -7.4,0 Z"/><path d="M3247.0,2297.4 q4.6,-2.5 9.6,0 l-1,13 q-3.6,2.5 -7.4,0 Z"/><path d="M3258.2,2298.5 q4.6,-2.5 9.6,0 l-1,13 q-3.6,2.5 -7.4,0 Z"/></g><g stroke="#111" stroke-width="1.4"><line x1="3021.7" y1="2180" x2="3052" y2="2180"/><line x1="3235.9" y1="2253.1" x2="3318.7" y2="2253.1"/><line x1="3156.7" y1="2329.9" x2="3318.7" y2="2329.9"/></g><rect x="3010.6" y="2452.8" width="316.1" height="125.7" fill="url(#gSyn)" stroke="#222" stroke-width="1.8"/><text font-size="23.4" fill="#111"><tspan x="3026.4" y="2479.8">• DiGeorge’s syndrome</tspan><tspan x="3026.4" y="2508.07">• Goldenhar’s syndrome</tspan><tspan x="3026.4" y="2536.34">• Waardenburg’s syndrome</tspan><tspan x="3026.4" y="2564.61">• CHARGE syndromes</tspan></text>
<path d="M3676.7,2039.6 C3717.6,2039.6 3748.2,2066.1 3746.9,2098.8 C3746.1,2111.0 3744.1,2119.2 3745.3,2125.3 L3752.2,2137.6 C3752.2,2141.6 3746.1,2142.9 3744.1,2145.7 C3744.1,2153.9 3745.3,2162.0 3738.0,2168.2 C3729.8,2172.2 3721.6,2172.2 3717.6,2174.3 C3716.7,2184.5 3719.6,2194.7 3725.7,2198.8 C3746.1,2204.9 3766.5,2217.1 3774.7,2237.6 C3786.9,2270.2 3789.0,2306.9 3786.9,2347.8 C3786.1,2388.6 3789.0,2417.1 3789.0,2441.6 C3787.8,2458.0 3766.5,2470.2 3746.9,2480.4 L3746.9,2500.8 L3682.9,2500.8 L3682.9,2484.5 L3674.7,2484.5 L3674.7,2500.8 L3607.3,2500.8 L3607.3,2482.4 C3591.0,2470.2 3572.7,2460.0 3571.4,2445.7 C3572.7,2417.1 3571.4,2388.6 3571.4,2347.8 C3571.4,2306.9 3574.7,2266.1 3580.8,2241.6 C3586.9,2217.1 3611.4,2204.9 3635.9,2198.8 C3644.1,2192.7 3646.1,2182.4 3644.9,2172.2 C3619.6,2155.9 3607.3,2123.3 3609.4,2094.7 C3611.4,2062.0 3640.0,2039.6 3676.7,2039.6 Z" fill="#b4c0c7"/><path d="M3603.3,2400.8 C3601.2,2409.0 3602.4,2417.1 3607.3,2423.3 M3754.3,2392.7 C3756.3,2404.9 3754.3,2413.1 3749.4,2419.2" fill="none" stroke="#c5ced4" stroke-width="3"/><text font-size="23.4" fill="#111"><tspan x="3486.1" y="2175.1">Partial lack</tspan><tspan x="3486.1" y="2203.65">of enteric</tspan><tspan x="3486.1" y="2232.2">ganglia</tspan></text>
<path d="M3564.5,2227.3 L3564.5,2270.2 L3621.6,2325.3" fill="none" stroke="#111" stroke-width="1.4"/><path d="M3652.2,2415.1 C3635.9,2413.1 3625.7,2400.8 3625.7,2376.3 C3625.7,2360.0 3625.7,2347.8 3631.8,2339.6 C3652.2,2339.6 3676.7,2345.7 3701.2,2341.6 C3713.5,2337.6 3721.6,2327.3 3725.7,2323.3 C3727.8,2339.6 3725.7,2351.8 3721.6,2358.0 C3733.9,2364.1 3735.9,2380.4 3727.8,2392.7 C3721.6,2404.9 3709.4,2409.0 3693.1,2406.9 C3684.9,2404.9 3680.8,2409.0 3680.8,2429.4" fill="none" stroke="#7d3f98" stroke-width="30" stroke-linecap="butt" stroke-linejoin="round" stroke-dasharray="3.4 3.2"/><path d="M3652.2,2415.1 C3635.9,2413.1 3625.7,2400.8 3625.7,2376.3 C3625.7,2360.0 3625.7,2347.8 3631.8,2339.6 C3652.2,2339.6 3676.7,2345.7 3701.2,2341.6 C3713.5,2337.6 3721.6,2327.3 3725.7,2323.3 C3727.8,2339.6 3725.7,2351.8 3721.6,2358.0 C3733.9,2364.1 3735.9,2380.4 3727.8,2392.7 C3721.6,2404.9 3709.4,2409.0 3693.1,2406.9 C3684.9,2404.9 3680.8,2409.0 3680.8,2429.4" fill="none" stroke="#b4c0c7" stroke-width="25.5" stroke-linecap="round" stroke-linejoin="round"/><path d="M3652.2,2415.1 C3635.9,2413.1 3625.7,2400.8 3625.7,2376.3 C3625.7,2360.0 3625.7,2347.8 3631.8,2339.6 C3652.2,2339.6 3676.7,2345.7 3701.2,2341.6 C3713.5,2337.6 3721.6,2327.3 3725.7,2323.3 C3727.8,2339.6 3725.7,2351.8 3721.6,2358.0 C3733.9,2364.1 3735.9,2380.4 3727.8,2392.7 C3721.6,2404.9 3709.4,2409.0 3693.1,2406.9 C3684.9,2404.9 3680.8,2409.0 3680.8,2429.4" fill="none" stroke="#111" stroke-width="22" stroke-linecap="round" stroke-linejoin="round"/><path d="M3652.2,2415.1 C3635.9,2413.1 3625.7,2400.8 3625.7,2376.3 C3625.7,2360.0 3625.7,2347.8 3631.8,2339.6 C3652.2,2339.6 3676.7,2345.7 3701.2,2341.6 C3713.5,2337.6 3721.6,2327.3 3725.7,2323.3 C3727.8,2339.6 3725.7,2351.8 3721.6,2358.0 C3733.9,2364.1 3735.9,2380.4 3727.8,2392.7 C3721.6,2404.9 3709.4,2409.0 3693.1,2406.9 C3684.9,2404.9 3680.8,2409.0 3680.8,2429.4" fill="none" stroke="#ea8b7e" stroke-width="18.5" stroke-linecap="round" stroke-linejoin="round"/><path d="M3678.8,2402.9 L3678.0,2429.4 L3680.8,2435.5 L3684.1,2429.4 L3684.9,2409.0" fill="#ea8b7e" stroke="#111" stroke-width="1.4"/><path d="M3614.7,2351.8 L3636.7,2351.8 M3614.7,2364.1 L3636.7,2364.1 M3614.7,2376.3 L3636.7,2376.3 M3614.7,2388.6 L3636.7,2388.6 M3617.0,2398.9 L3638.6,2402.7 M3644.1,2330.6 L3644.1,2352.6 M3656.3,2331.4 L3656.3,2353.4 M3668.6,2333.5 L3668.6,2355.5 M3682.9,2333.5 L3682.9,2355.5 M3695.1,2331.9 L3695.1,2353.9 M3703.5,2327.3 L3711.1,2347.9 M3710.5,2321.0 L3724.7,2337.8 M3714.7,2347.8 L3736.7,2347.8 M3714.7,2368.2 L3736.7,2368.2 M3710.6,2384.5 L3732.6,2384.5 M3703.9,2393.4 L3714.9,2412.4 M3697.1,2395.9 L3697.1,2417.9 " stroke="#111" stroke-width="1.3" fill="none"/><path d="M3631.8,2345.7 C3638.0,2368.2 3635.9,2392.7 3652.2,2409.0 M3707.3,2358.0 C3725.7,2362.0 3727.8,2384.5 3709.4,2400.8" stroke="#111" stroke-width="1.8" fill="none"/><rect x="3515.5" y="2528.2" width="282.5" height="50.2" fill="url(#gSyn)" stroke="#222" stroke-width="1.8"/><text x="3524.5" y="2561.2" font-size="23.4" fill="#111">• Hirschsprung’s disease</text>
<text x="3911.8" y="2057.1" font-size="23.4" fill="#111">Lack of outflow tract septation</text>
<path d="M3990.6,2083.3 L3990.6,2069.4 L4133.5,2069.4 L4133.5,2083.3" fill="none" stroke="#333" stroke-width="1.2"/><g stroke="#111" stroke-width="1.7" stroke-linejoin="round"><path d="M3898.8,2204.9 L3955.9,2182.4 L3966.1,2221.2 L3911.0,2241.6 Z" fill="url(#gVes)"/><path d="M3919.2,2221.2 L3958.0,2209.8 L3962.0,2241.6 L3927.3,2247.8 Z" fill="url(#gVes)"/><path d="M3900.8,2288.6 L3947.8,2268.2 L3953.9,2302.9 L3911.0,2321.2 Z" fill="url(#gVes)"/><path d="M4121.2,2225.3 L4172.2,2200.8 L4186.5,2221.2 L4145.7,2245.7 Z" fill="url(#gVes)"/><path d="M4158.0,2272.2 L4190.6,2274.3 L4188.6,2306.9 L4162.0,2302.9 Z" fill="url(#gVes)"/><ellipse cx="3904.9" cy="2223.3" rx="11" ry="19" fill="#b8323a" transform="rotate(-20 3904.9 2223.3)"/><ellipse cx="3904.9" cy="2223.3" rx="6.1" ry="12.3" fill="#8e2430" stroke="none" transform="rotate(-20 3904.9 2223.3)"/><ellipse cx="3924.5" cy="2234.3" rx="9" ry="17" fill="#b8323a" transform="rotate(-15 3924.5 2234.3)"/><ellipse cx="3924.5" cy="2234.3" rx="5.0" ry="11.1" fill="#8e2430" stroke="none" transform="rotate(-15 3924.5 2234.3)"/><ellipse cx="3906.9" cy="2304.9" rx="11" ry="19" fill="#b8323a" transform="rotate(-20 3906.9 2304.9)"/><ellipse cx="3906.9" cy="2304.9" rx="6.1" ry="12.3" fill="#8e2430" stroke="none" transform="rotate(-20 3906.9 2304.9)"/><ellipse cx="4179.2" cy="2211.0" rx="11" ry="17" fill="#b8323a" transform="rotate(-35 4179.2 2211.0)"/><ellipse cx="4179.2" cy="2211.0" rx="6.1" ry="11.1" fill="#8e2430" stroke="none" transform="rotate(-35 4179.2 2211.0)"/><ellipse cx="4189.0" cy="2290.6" rx="8" ry="17" fill="#b8323a" transform="rotate(0 4189.0 2290.6)"/><ellipse cx="4189.0" cy="2290.6" rx="4.4" ry="11.1" fill="#8e2430" stroke="none" transform="rotate(0 4189.0 2290.6)"/><path d="M3964.1,2404.9 L4020.0,2429.4 L4017.1,2476.3 L3966.9,2462.9 Z" fill="url(#gVesV)"/><path d="M4058.0,2445.7 L4113.1,2460.0 L4112.2,2472.2 L4060.0,2468.2 Z" fill="url(#gVesV)"/><path d="M3953.9,2160.0 C3962.0,2145.7 3982.4,2145.7 3994.7,2151.8 C3996.7,2176.3 3998.8,2204.9 4000.8,2215.1 C4011.0,2225.3 4021.2,2233.5 4025.3,2239.6 C4043.7,2225.3 4072.2,2221.2 4088.6,2229.4 C4104.9,2221.2 4137.6,2221.2 4153.9,2241.6 C4174.3,2282.4 4188.6,2327.3 4188.6,2376.3 C4186.5,2429.4 4153.9,2464.1 4113.1,2461.2 C4055.9,2447.8 3994.7,2429.4 3958.0,2394.7 C3925.3,2355.9 3931.4,2306.9 3947.8,2262.0 C3955.9,2225.3 3955.9,2188.6 3953.9,2160.0 Z" fill="#e2675f"/><path d="M4025.3,2239.6 C4006.9,2213.1 3998.8,2180.4 4006.9,2151.8 C4013.1,2135.5 4019.2,2127.3 4011.0,2121.2 L3998.8,2117.1 C4000.8,2104.9 4017.1,2094.7 4031.4,2100.8 L4039.6,2115.1 L4048.6,2114.3 C4049.8,2102.9 4051.0,2092.7 4055.9,2086.5 C4064.1,2082.4 4074.3,2084.5 4078.4,2090.6 L4080.4,2117.1 L4088.6,2115.1 C4090.6,2104.9 4096.7,2094.7 4104.9,2090.6 C4113.1,2091.4 4121.2,2098.8 4121.2,2106.9 C4115.1,2123.3 4113.1,2135.5 4121.2,2147.8 C4125.3,2153.9 4127.3,2158.0 4127.3,2162.0 C4153.9,2160.0 4182.4,2168.2 4202.9,2180.4 C4206.1,2188.6 4204.9,2198.8 4202.0,2204.1 C4178.4,2200.8 4145.7,2200.8 4121.2,2209.0 C4104.9,2217.1 4098.8,2229.4 4094.7,2245.7 L4088.6,2229.4 C4072.2,2221.2 4043.7,2225.3 4025.3,2239.6 Z" fill="url(#gAo)"/><path d="M4045.7,2221.2 C4043.7,2192.7 4051.8,2164.1 4068.2,2153.9 C4082.4,2155.9 4088.6,2164.1 4084.5,2172.2 C4068.2,2188.6 4051.8,2204.9 4045.7,2221.2 Z" fill="#d9e0e6"/><ellipse cx="4014.3" cy="2106.9" rx="15" ry="8" fill="#cdbbe2" transform="rotate(-35 4014.3 2106.9)"/><path d="M3943.7,2270.2 C3958.0,2249.8 3994.7,2233.5 4023.3,2241.6 C4031.4,2245.7 4035.5,2251.8 4039.6,2245.7 C4060.0,2229.4 4088.6,2233.5 4096.7,2249.8 C4098.8,2241.6 4121.2,2233.5 4141.6,2245.7 C4162.0,2286.5 4176.3,2335.5 4175.1,2384.5 C4170.2,2425.3 4145.7,2447.8 4113.1,2441.6 C4064.1,2429.4 4006.9,2413.1 3970.2,2384.5 C3941.6,2351.8 3937.6,2306.9 3943.7,2270.2 Z" fill="#c8102e"/><path d="M3951.8,2278.4 C3966.1,2253.9 3998.8,2241.6 4021.2,2251.8 C4029.4,2270.2 4029.4,2298.8 4023.3,2306.9 C4015.1,2319.2 4002.9,2323.3 3998.8,2333.5 C3990.6,2327.3 3974.3,2325.3 3960.0,2329.4 C3953.9,2315.1 3949.8,2294.7 3951.8,2278.4 Z" fill="url(#gCh)"/><path d="M4035.5,2253.9 C4051.8,2237.6 4080.4,2241.6 4088.6,2258.0 C4084.5,2274.3 4072.2,2286.5 4064.1,2290.6 C4055.9,2286.5 4043.7,2282.4 4035.5,2282.4 C4033.5,2272.2 4033.5,2262.0 4035.5,2253.9 Z" fill="url(#gCh)"/><path d="M4100.8,2255.9 C4113.1,2241.6 4133.5,2245.7 4139.6,2258.0 C4153.9,2286.5 4160.0,2311.0 4155.9,2319.2 C4145.7,2319.2 4133.5,2325.3 4127.3,2333.5 C4121.2,2327.3 4113.1,2325.3 4104.9,2327.3 C4096.7,2315.1 4092.7,2298.8 4094.7,2286.5 C4096.7,2274.3 4098.8,2264.1 4100.8,2255.9 Z" fill="url(#gCh)"/><path d="M3957.1,2337.6 C3970.2,2333.5 3984.5,2333.5 3994.7,2337.6 C4002.9,2327.3 4015.1,2323.3 4023.3,2315.1 C4031.4,2304.9 4035.5,2292.7 4035.5,2288.6 C4045.7,2288.6 4053.9,2292.7 4060.0,2296.7 C4051.8,2315.1 4049.8,2339.6 4055.9,2364.1 C4062.0,2384.5 4072.2,2400.8 4078.4,2415.1 C4055.9,2417.1 4023.3,2409.0 3994.7,2388.6 C3974.3,2372.2 3960.0,2355.9 3957.1,2337.6 Z" fill="url(#gCh)"/><path d="M4066.1,2337.6 C4076.3,2331.4 4088.6,2331.4 4098.8,2334.7 C4109.0,2331.4 4117.1,2333.5 4125.3,2339.6 C4133.5,2329.4 4143.7,2325.3 4154.7,2325.3 C4160.0,2351.8 4155.9,2384.5 4141.6,2402.9 C4125.3,2413.1 4104.9,2409.0 4088.6,2392.7 C4072.2,2372.2 4064.1,2355.9 4066.1,2337.6 Z" fill="url(#gCh)"/></g><rect x="3878.4" y="2528.2" width="416.3" height="50.2" fill="url(#gSyn)" stroke="#222" stroke-width="1.8"/><text x="3885.3" y="2560.8" font-size="23.4" fill="#111">•DiGeorge’s and CHARGE syndromes</text>
</svg>
<!-- footer -->
<svg class="L" viewBox="0 0 4411 2921" width="4411" height="2921" >
<text font-size="18.35" fill="#fff"><tspan x="80.8" y="2708.3"><tspan font-weight="700" font-size="21.9">Abbreviations:</tspan> ADAM, a disintegrin and metalloproteinase; β-cat, beta-catenin; BMP, bone morphogenetic protein; Brn, subgroup of</tspan><tspan x="80.8" y="2730.9">the POU (Pit-Oct-Unc) family of transcription factors; C3a, complement factor 3a; C3aR, complement factor 3a receptor; Cxcr4, CXC</tspan><tspan x="80.8" y="2753.5">chemokine receptor 4; DRG, dorsal root ganglia; EDNR, endothelin receptor; ErbB, erythroblastic leukaemia viral oncogene-like family of</tspan><tspan x="80.8" y="2776.1">receptor tyrosine kinases (also known as the Her family); ET, endothelin; Ets, E26 family of transcription factors; FGF, fibroblast growth</tspan><tspan x="80.8" y="2798.7">factor; Fox, Forkhead box family of transcription factors; Gata, GATA-binding family of transcription factors; GDNF, glial cell-derived</tspan><tspan x="80.8" y="2821.3">neurotrophic factor; Hand, heart and neural crest derivatives expressed protein family of transcription factors; Hdac, histone deacetylases;</tspan><tspan x="80.8" y="2843.9">Kit, tyrosine protein kinase Kit; MAPK, mitogen-activated protein kinase; Mash, mammalian achaete-scute homologue family of</tspan></text>
<text font-size="18.35" fill="#fff"><tspan x="1258.8" y="2708.3">transcription factors; melano, melanocytes; MITF, microphthalmia-associated transcription factor; MMP, matrix metalloproteinase; Neurog,</tspan><tspan x="1258.8" y="2730.9">neurogenin; Nrg, neuregulin; Ot, otic vesicle; PCP, planar cell polarity pathway; Phox, paired-like homeobox family of transcription factors;</tspan><tspan x="1258.8" y="2753.5">PDGF, platelet-derived growth factor; PNMT, phenylethanolamine N-methyltransferase; RA, retinoic acid; Robo, Roundabout family of</tspan><tspan x="1258.8" y="2776.1">transmembrane receptors; Runx, Runt-related family of transcription factors; Sdf1, stromal cell-derived factor 1 (Cxcl12); Sema,</tspan><tspan x="1258.8" y="2798.7">semaphorin; SG, sympathetic ganglia; Sox, Sry-related HMG-box family of transcription factors; VEGF, vascular endothelium growth factor;</tspan><tspan x="1258.8" y="2821.3">Wnt, member of Wingless-int family; Zeb, zinc-finger E-box-binding homeobox family of transcription factors.</tspan></text>
<rect x="2441" y="2696.1" width="1228.3" height="146.1" fill="none" stroke="#fff" stroke-width="2"/><text x="2449.7" y="2720.5" font-size="22.45" fill="#fff" font-weight="700">Animals in which the experiments were carried out</text>
<line x1="2449.7" y1="2730.3" x2="3659.5" y2="2730.3" stroke="#fff" stroke-width="1.3"/><use href="#sh_f" x="2448.1" y="2738.4" width="122.2" height="96.7"/><use href="#sh_c" x="2765.9" y="2740.5" width="89.2" height="91.9"/><use href="#sh_m" x="3084.9" y="2750.3" width="117.8" height="76.7"/><use href="#sh_z" x="3410.3" y="2765.4" width="122.1" height="44.3"/><text font-size="18.7" fill="#fff"><tspan x="2586.5" y="2781.1">Frog embryo</tspan><tspan x="2586.5" y="2803.4">(<tspan font-style="italic">Xenopus laevis</tspan>)</tspan></text>
<text font-size="18.7" fill="#fff"><tspan x="2871.9" y="2755.7">Chicken</tspan><tspan x="2871.9" y="2778.25">(<tspan font-style="italic">Gallus gallus</tspan>) or</tspan><tspan x="2871.9" y="2800.8">quail (<tspan font-style="italic">Coturnix</tspan></tspan><tspan x="2871.9" y="2823.35"><tspan font-style="italic">japonica</tspan>) embryos</tspan></text>
<text font-size="18.7" fill="#fff"><tspan x="3218.4" y="2781.1">Mouse embryo</tspan><tspan x="3218.4" y="2803.4">(<tspan font-style="italic">Mus musculus</tspan>)</tspan></text>
<text font-size="18.7" fill="#fff"><tspan x="3545.4" y="2768.1">Zebrafish</tspan><tspan x="3545.4" y="2790.8">embryo</tspan><tspan x="3545.4" y="2813.5">(<tspan font-style="italic">Danio rerio</tspan>)</tspan></text>
<text x="3832.1" y="2840.4" font-size="26.2" fill="#fff">© Development 2013 (140, pp. 2247-2251)</text>
</svg>
</div></body></html>
